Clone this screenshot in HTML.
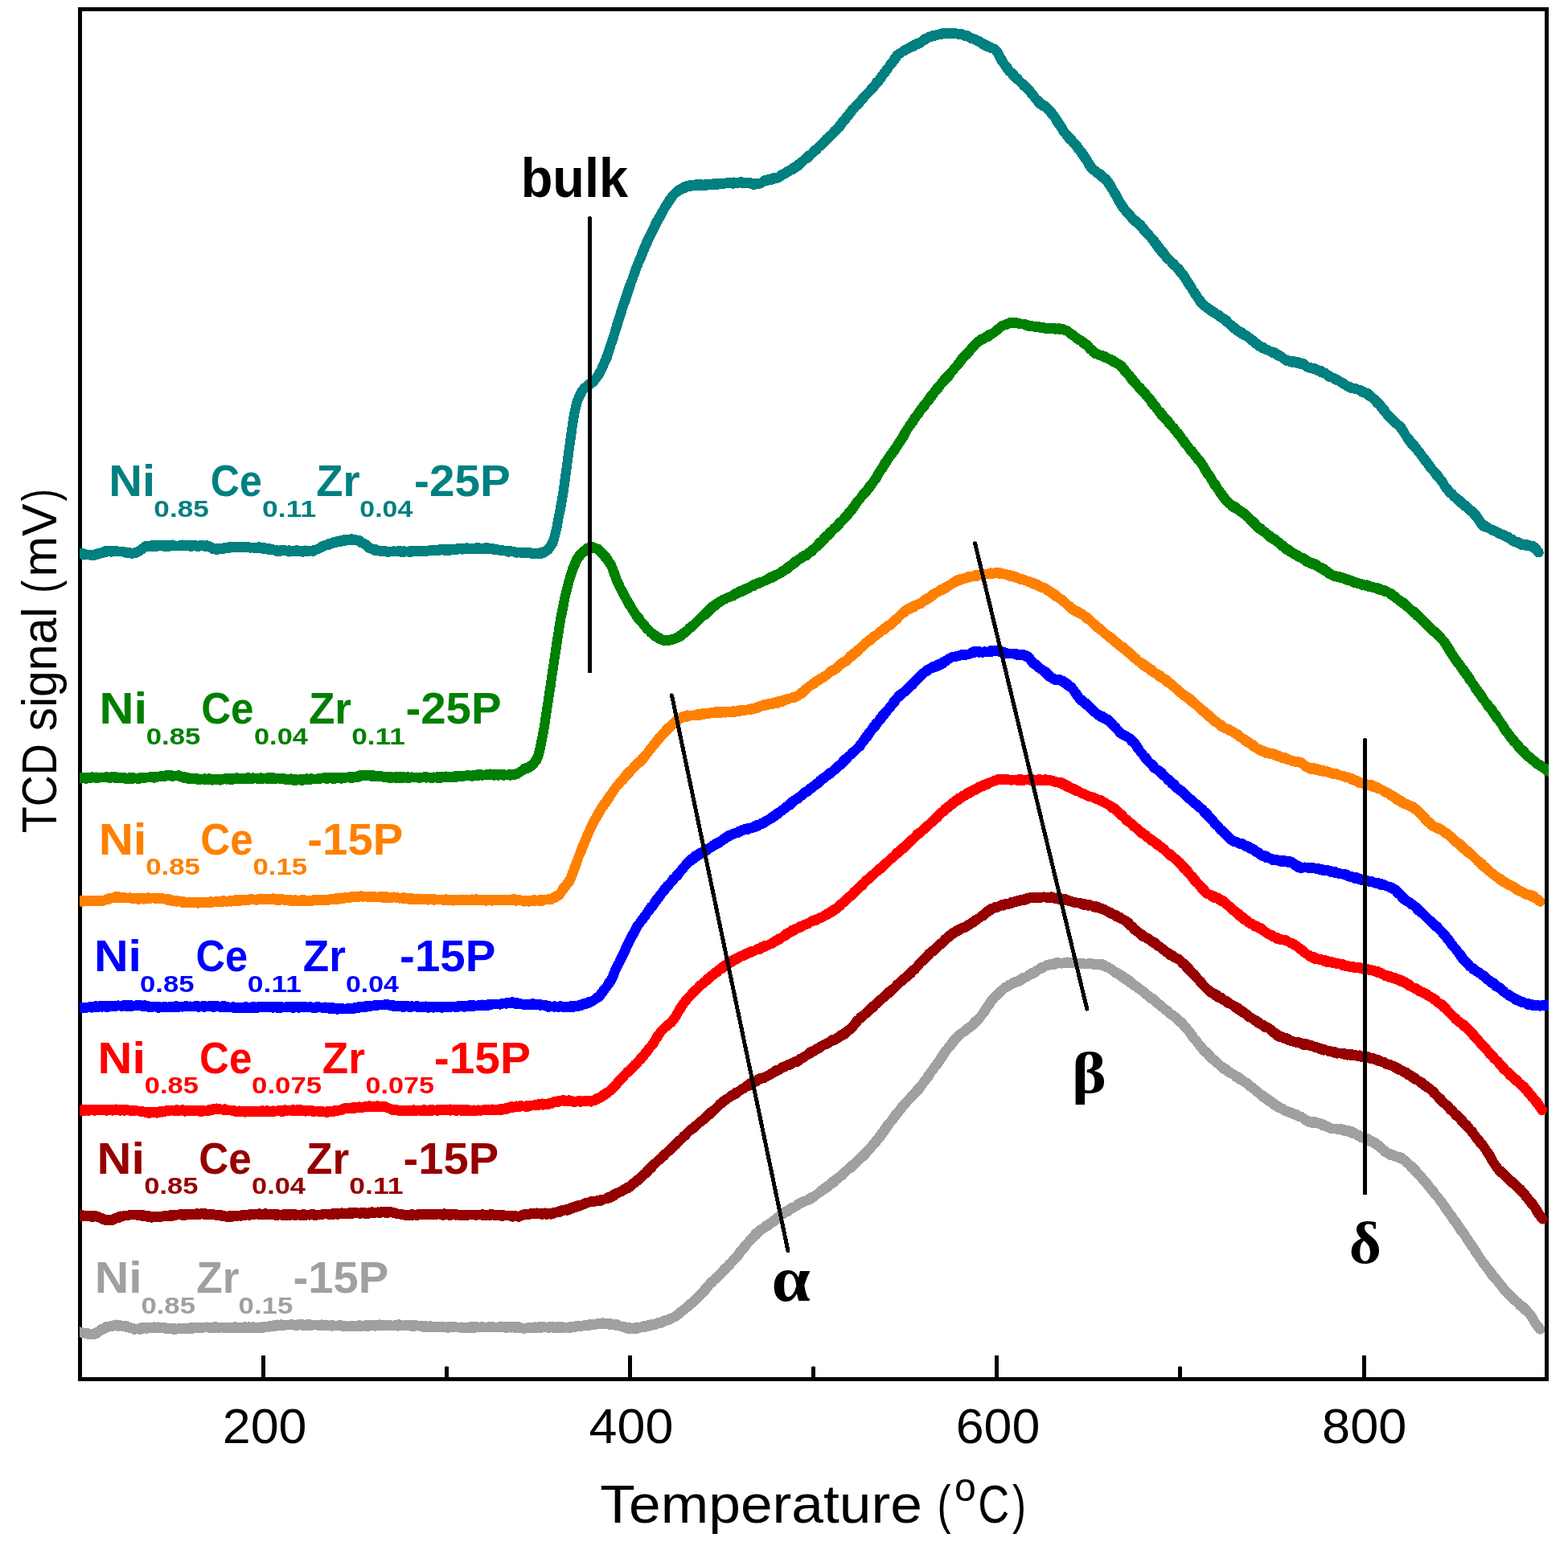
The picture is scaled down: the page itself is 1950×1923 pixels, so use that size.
<!DOCTYPE html>
<html lang="en">
<head>
<meta charset="utf-8">
<title>TCD signal vs Temperature</title>
<style>
html,body{margin:0;padding:0;background:#fff;}
body{width:1950px;height:1923px;overflow:hidden;}
svg{display:block;}
text{font-family:"Liberation Sans",sans-serif;}
.b{font-weight:bold;}
.g{font-family:"Liberation Serif",serif;font-weight:bold;}
.c{fill:none;stroke-width:12;stroke-linejoin:round;stroke-linecap:butt;shape-rendering:crispEdges;}
.k{fill:none;stroke:#000;stroke-width:5;shape-rendering:crispEdges;}
</style>
</head>
<body>
<svg width="1950" height="1923" viewBox="0 0 1950 1923" role="img" aria-label="TCD signal versus temperature">
<rect x="0" y="0" width="1950" height="1923" fill="#fff"/>
<g class="k" stroke-linecap="butt">
<rect x="99.5" y="11.5" width="1824" height="1704"/>
<g stroke-linecap="round">
<line x1="327.5" y1="1715.5" x2="327.5" y2="1688.1"/>
<line x1="555.5" y1="1715.5" x2="555.5" y2="1701.9"/>
<line x1="783.5" y1="1715.5" x2="783.5" y2="1688.1"/>
<line x1="1011.5" y1="1715.5" x2="1011.5" y2="1701.9"/>
<line x1="1239.5" y1="1715.5" x2="1239.5" y2="1688.1"/>
<line x1="1467.5" y1="1715.5" x2="1467.5" y2="1701.9"/>
<line x1="1696.5" y1="1715.5" x2="1696.5" y2="1688.1"/>
</g>
</g>
<svg x="99" y="0" width="1827" height="1923" viewBox="99 0 1827 1923" overflow="hidden">
<g stroke="#a0a0a0" fill="#a0a0a0">
<polyline class="c" points="90,1655.8 95,1655.8 99.6,1656.5 102.1,1657.1 104.6,1658.6 107.1,1658.3 109.6,1658.4 112.1,1659 114.6,1658.9 117.1,1659.3 119.6,1657.3 122.1,1656.5 124.6,1654.3 127.1,1652.6 129.6,1652.3 132.1,1650.2 134.6,1650.3 137.1,1649.5 139.6,1648.9 142.1,1648 144.6,1647.5 147.1,1649 149.6,1648.3 152.1,1649 154.6,1648.8 157.1,1648.8 159.6,1650.6 162.1,1651.2 164.6,1652.2 167.1,1652.4 169.6,1653 172.1,1652.9 174.6,1651.4 177.1,1651.3 179.6,1651.2 182.1,1650.7 184.6,1651.3 187.1,1650.7 189.6,1651.3 192.1,1650.4 194.6,1650.8 197.1,1650.4 199.6,1651.5 202.1,1651.4 204.6,1651.1 207.1,1652.4 209.6,1652.6 212.1,1651.6 214.6,1651.7 217.1,1652.4 219.6,1652.6 222.1,1652.2 224.6,1652.6 227.1,1651.8 229.6,1652.1 232.1,1652 234.6,1651.7 237.1,1651.1 239.6,1651 242.1,1650.7 244.6,1650.8 247.1,1650.6 249.6,1650.9 252.1,1650.9 254.6,1650.7 257.1,1650.5 259.6,1650.9 262.1,1651.3 264.6,1651.3 267.1,1650.2 269.6,1650.5 272.1,1650.7 274.6,1651 277.1,1651.1 279.6,1650.7 282.1,1650.7 284.6,1651.2 287.1,1650.8 289.6,1651.4 292.1,1650.2 294.6,1650.6 297.1,1651.4 299.6,1651.1 302.1,1651.3 304.6,1650.4 307.1,1651.1 309.6,1650.4 312.1,1650.8 314.6,1650.4 317.1,1650.7 319.6,1651.2 322.1,1650.5 324.6,1650.8 327.1,1650.3 329.6,1650.6 332.1,1649.8 334.6,1649.4 337.1,1648.6 339.6,1648.5 342.1,1647.6 344.6,1647.5 347.1,1648.6 349.6,1647.3 352.1,1648.4 354.6,1648 357.1,1647.8 359.6,1647.9 362.1,1647 364.6,1647.9 367.2,1647.7 369.7,1647.5 372.2,1647.4 374.7,1647.4 377.2,1647.4 379.7,1647.9 382.2,1647.2 384.7,1647 387.2,1648.3 389.7,1647.6 392.2,1648.1 394.7,1648.1 397.2,1647.9 399.7,1647.4 402.2,1647.7 404.7,1648 407.2,1648.2 409.7,1648.7 412.2,1648.1 414.7,1648.3 417.2,1649.1 419.7,1649.1 422.2,1648.2 424.7,1648.3 427.2,1649.1 429.7,1649.1 432.2,1649.7 434.7,1649.4 437.2,1649.5 439.7,1648.7 442.2,1649.1 444.7,1649.2 447.2,1648.2 449.7,1648.9 452.2,1648.7 454.7,1648.4 457.2,1648.2 459.7,1649 462.2,1647.7 464.7,1648 467.2,1647.9 469.7,1648.7 472.2,1647.4 474.7,1648 477.2,1647.8 479.7,1648.4 482.2,1648.4 484.7,1648.3 487.2,1648.6 489.7,1648.7 492.2,1647.5 494.7,1647.5 497.2,1647.4 499.7,1648.7 502.2,1648.8 504.7,1647.9 507.2,1647.5 509.7,1647.6 512.2,1648.8 514.7,1648.3 517.2,1648.1 519.7,1648.9 522.2,1649.3 524.7,1649.1 527.2,1648.7 529.7,1649.3 532.2,1650.2 534.7,1649.3 537.2,1649.5 539.7,1650.5 542.2,1649.7 544.7,1649.7 547.2,1650 549.7,1650.1 552.2,1650.2 554.7,1650.9 557.2,1650.2 559.7,1650.1 562.2,1650.1 564.7,1650.5 567.2,1650.4 569.7,1651.2 572.2,1650.9 574.7,1650.5 577.2,1651.5 579.7,1650.6 582.2,1651.2 584.7,1650.3 587.2,1650.3 589.7,1651.1 592.2,1649.8 594.7,1650.9 597.2,1650.9 599.7,1650 602.2,1650.7 604.7,1650.7 607.2,1650.8 609.7,1649.6 612.2,1650.3 614.7,1650.5 617.2,1650.5 619.7,1650.6 622.2,1649.5 624.7,1650.9 627.2,1649.8 629.7,1649.7 632.2,1651 634.7,1650 637.2,1651 639.7,1649.9 642.2,1650 644.7,1650.2 647.2,1651.6 649.7,1651.7 652.2,1651.9 654.7,1652.5 657.2,1651.2 659.7,1650.9 662.3,1651 664.8,1650.4 667.3,1650.6 669.8,1650.3 672.3,1650.1 674.8,1649.7 677.3,1650.7 679.8,1651 682.3,1650.3 684.8,1650.5 687.3,1650 689.8,1651 692.3,1650.4 694.8,1650.3 697.3,1650.3 699.8,1650.4 702.3,1651.1 704.8,1650.6 707.3,1650.9 709.8,1649.9 712.3,1649.8 714.8,1650.3 717.3,1648.9 719.8,1648.9 722.3,1649.5 724.8,1649 727.3,1648.2 729.8,1648.6 732.3,1647.3 734.8,1647.4 737.3,1647.1 739.8,1647.3 742.3,1646.5 744.8,1645.8 747.3,1645.8 749.8,1645.3 752.3,1646.3 754.8,1645.7 757.3,1645.5 759.8,1647.1 762.3,1647.4 764.8,1647.3 767.3,1647.1 769.8,1648.7 772.3,1649.5 774.8,1649.9 777.3,1650.2 779.8,1651.8 782.3,1651 784.8,1651.6 787.3,1651.5 789.8,1652 792.3,1650.5 794.8,1650.9 797.3,1650.3 799.8,1649.6 802.3,1648.8 804.8,1648.4 807.3,1648.6 809.8,1647.2 812.3,1646.6 814.8,1646.5 817.3,1645.9 819.8,1644.5 822.3,1644.5 824.8,1643 827.3,1642.1 829.8,1642 832.3,1640.4 834.8,1639.9 837.3,1638.8 839.8,1636.9 842.3,1635.7 844.8,1633 847.3,1631.1 849.8,1629.2 852.3,1627.3 854.8,1625.6 857.3,1622.8 859.8,1620.7 862.3,1618.9 864.8,1616.3 867.3,1614.1 869.8,1611.3 872.3,1609 874.8,1606.5 877.3,1602.4 879.8,1600.4 882.3,1597.2 884.8,1594.3 887.3,1593 889.8,1589.7 892.3,1587.8 894.8,1585.8 897.3,1582.4 899.8,1579.6 902.3,1577.1 904.8,1575.2 907.3,1572 909.8,1570.3 912.3,1566.7 914.8,1564.4 917.3,1561.6 919.8,1557.4 922.3,1555.2 924.8,1551.6 927.3,1549 929.8,1546.4 932.3,1543.1 934.8,1540.4 937.3,1537.3 939.8,1534.6 942.3,1532.2 944.8,1530 947.3,1528.6 949.8,1527.4 952.3,1524.6 954.9,1523.5 957.4,1521.3 959.9,1520.4 962.4,1518 964.9,1515.9 967.4,1514.1 969.9,1512.3 972.4,1510.9 974.9,1509.1 977.4,1506.4 979.9,1505.7 982.4,1503.8 984.9,1501.8 987.4,1501.4 989.9,1499.9 992.4,1497.3 994.9,1497 997.4,1494.8 999.9,1494 1002.4,1493.7 1004.9,1491.8 1007.4,1490.3 1009.9,1488.8 1012.4,1488 1014.9,1486.2 1017.4,1484.5 1019.9,1482.4 1022.4,1479.9 1024.9,1478.1 1027.4,1476.5 1029.9,1474.6 1032.4,1472.3 1034.9,1470.4 1037.4,1468.2 1039.9,1467 1042.4,1464.7 1044.9,1463.4 1047.4,1460.2 1049.9,1458.3 1052.4,1456.2 1054.9,1454.7 1057.4,1451.2 1059.9,1449.4 1062.4,1447.3 1064.9,1445.1 1067.4,1443 1069.9,1439.7 1072.4,1437.2 1074.9,1434.7 1077.4,1432.6 1079.9,1430.6 1082.4,1427.3 1084.9,1424.5 1087.4,1422 1089.9,1417.9 1092.4,1415.1 1094.9,1411.7 1097.4,1408.7 1099.9,1404.8 1102.4,1401.4 1104.9,1397.8 1107.4,1395.4 1109.9,1391.9 1112.4,1388.1 1114.9,1384.6 1117.4,1382.8 1119.9,1379 1122.4,1375.4 1124.9,1373.5 1127.4,1370.7 1129.9,1367.8 1132.4,1364.9 1134.9,1362 1137.4,1359.7 1139.9,1356.5 1142.4,1354.1 1144.9,1351.2 1147.4,1348.2 1149.9,1344.1 1152.4,1341.2 1154.9,1336.8 1157.4,1333.9 1159.9,1330.6 1162.4,1326.6 1164.9,1323.4 1167.4,1320.1 1169.9,1315.7 1172.4,1312.3 1174.9,1308.3 1177.4,1305.7 1179.9,1302.1 1182.4,1299.4 1184.9,1295.3 1187.4,1293.1 1189.9,1290.5 1192.4,1287.1 1194.9,1285.6 1197.4,1283.9 1199.9,1282.3 1202.4,1279.8 1204.9,1277.7 1207.4,1276.6 1209.9,1274.1 1212.4,1271 1214.9,1268.7 1217.4,1266.4 1219.9,1263.7 1222.4,1260.5 1224.9,1256.5 1227.4,1252.6 1229.9,1248.8 1232.4,1245.4 1234.9,1241.7 1237.4,1240.1 1239.9,1237.4 1242.4,1235 1244.9,1232.4 1247.5,1230.6 1250,1227.7 1252.5,1227 1255,1224.8 1257.5,1224.3 1260,1222.2 1262.5,1220.7 1265,1220.7 1267.5,1219.3 1270,1217.4 1272.5,1216 1275,1215.7 1277.5,1214.2 1280,1212.3 1282.5,1210.3 1285,1210 1287.5,1208.2 1290,1207 1292.5,1205.1 1295,1203 1297.5,1202.7 1300,1201.8 1302.5,1199.8 1305,1199.4 1307.5,1198.8 1310,1198.5 1312.5,1197.6 1315,1197.1 1317.5,1197.6 1320,1197.9 1322.5,1197.8 1325,1196.8 1327.5,1196.5 1330,1197.3 1332.5,1196.7 1335,1197.5 1337.5,1197.7 1340,1197.8 1342.5,1197.5 1345,1197.5 1347.5,1198.2 1350,1198.8 1352.5,1198.6 1355,1198 1357.5,1198.2 1360,1199.1 1362.5,1198.9 1365,1198.7 1367.5,1199.3 1370,1198.8 1372.5,1199.7 1375,1202 1377.5,1202.6 1380,1204.3 1382.5,1205.7 1385,1207.4 1387.5,1209.1 1390,1210.3 1392.5,1212.5 1395,1213.1 1397.5,1216 1400,1216.6 1402.5,1218.3 1405,1220 1407.5,1222.5 1410,1224.7 1412.5,1226.2 1415,1227.9 1417.5,1230.4 1420,1231.6 1422.5,1233.8 1425,1236.2 1427.5,1238 1430,1239.7 1432.5,1241.7 1435,1242.6 1437.5,1245.3 1440,1247.7 1442.5,1249.6 1445,1251.8 1447.5,1254.5 1450,1255.5 1452.5,1257.9 1455,1260.6 1457.5,1261.9 1460,1263.9 1462.5,1265.6 1465,1268 1467.5,1270.4 1470,1271.8 1472.5,1275.6 1475,1278.3 1477.5,1281.1 1480,1283.8 1482.5,1287.3 1485,1292 1487.5,1293.9 1490,1297.8 1492.5,1300.5 1495,1303.4 1497.5,1306.4 1500,1308.3 1502.5,1310.8 1505,1313.3 1507.5,1316.3 1510,1318.3 1512.5,1320.9 1515,1322.9 1517.5,1325 1520,1327.1 1522.5,1328.6 1525,1329.7 1527.5,1332.1 1530,1334.1 1532.5,1335.5 1535,1336.7 1537.5,1339.1 1540.1,1339.5 1542.6,1341.2 1545.1,1343.7 1547.6,1345.5 1550.1,1346.4 1552.6,1348.8 1555.1,1351.1 1557.6,1352.7 1560.1,1355.3 1562.6,1356.4 1565.1,1358.8 1567.6,1361 1570.1,1362.3 1572.6,1364.1 1575.1,1366.5 1577.6,1367.7 1580.1,1369.4 1582.6,1371.9 1585.1,1373 1587.6,1375 1590.1,1376.3 1592.6,1377.8 1595.1,1378.9 1597.6,1381 1600.1,1381.9 1602.6,1382.5 1605.1,1383.4 1607.6,1384.7 1610.1,1385.7 1612.6,1386.1 1615.1,1388.1 1617.6,1388.6 1620.1,1390.5 1622.6,1391.8 1625.1,1393.7 1627.6,1394.2 1630.1,1394.9 1632.6,1395 1635.1,1395.3 1637.6,1396.1 1640.1,1396.6 1642.6,1397.6 1645.1,1398.1 1647.6,1400.1 1650.1,1400.5 1652.6,1402.2 1655.1,1403.2 1657.6,1403.9 1660.1,1404.5 1662.6,1403.7 1665.1,1404 1667.6,1404.1 1670.1,1405.6 1672.6,1405.2 1675.1,1406.1 1677.6,1406.3 1680.1,1406.9 1682.6,1408 1685.1,1409.6 1687.6,1411.5 1690.1,1411.7 1692.6,1414 1695.1,1413.7 1697.6,1416 1700.1,1415.9 1702.6,1417.1 1705.1,1418.9 1707.6,1420.1 1710.1,1421.1 1712.6,1423.2 1715.1,1424.9 1717.6,1427.6 1720.1,1429.9 1722.6,1431.6 1725.1,1433.8 1727.6,1434.9 1730.1,1435.4 1732.6,1436.4 1735.1,1437.7 1737.6,1438.4 1740.1,1439.2 1742.6,1439.5 1745.1,1442 1747.6,1443.3 1750.1,1446.2 1752.6,1448.3 1755.1,1450.3 1757.6,1453.1 1760.1,1455.2 1762.6,1458.3 1765.1,1461 1767.6,1463.6 1770.1,1467.1 1772.6,1470 1775.1,1472.4 1777.6,1476.6 1780.1,1478.6 1782.6,1481.5 1785.1,1485.9 1787.6,1488.3 1790.1,1492.1 1792.6,1494.8 1795.1,1498.9 1797.6,1501.5 1800.1,1505.3 1802.6,1509.1 1805.1,1511.6 1807.6,1516.2 1810.1,1519.3 1812.6,1522.3 1815.1,1526.9 1817.6,1530.1 1820.1,1533.5 1822.6,1537.5 1825.1,1541.2 1827.6,1545 1830.1,1548.6 1832.7,1552.5 1835.2,1556.1 1837.7,1560.3 1840.2,1564.4 1842.7,1568 1845.2,1571.3 1847.7,1574.2 1850.2,1578.1 1852.7,1580.6 1855.2,1584.1 1857.7,1587.7 1860.2,1590.4 1862.7,1593.6 1865.2,1596.5 1867.7,1600 1870.2,1602.8 1872.7,1606.1 1875.2,1608.2 1877.7,1611 1880.2,1613.2 1882.7,1615.6 1885.2,1618.6 1887.7,1620.1 1890.2,1623 1892.7,1624.2 1895.2,1626.4 1897.7,1628.8 1900.2,1631.8 1902.7,1634.5 1905.2,1638 1907.7,1642.8 1910.2,1646.5 1912.7,1649.7 1915.2,1652.9"/>
<polyline class="c" points="90,1656.8 95,1656.8 99.6,1656.4 102.1,1658.1 104.6,1658.4 107.1,1659.2 109.6,1659.8 112.1,1659.8 114.6,1660.4 117.1,1659.9 119.6,1659.2 122.1,1656.5 124.6,1655.5 127.1,1654.6 129.6,1652.4 132.1,1651.7 134.6,1650.7 137.1,1649.4 139.6,1649.9 142.1,1648.4 144.6,1649.4 147.1,1649.9 149.6,1649.3 152.1,1649.9 154.6,1649.6 157.1,1651.1 159.6,1651.4 162.1,1652.3 164.6,1652.4 167.1,1653.8 169.6,1653.1 172.1,1653.5 174.6,1653.6 177.1,1652.7 179.6,1651.9 182.1,1652.8 184.6,1652.3 187.1,1651.7 189.6,1651.6 192.1,1652.4 194.6,1651.4 197.1,1652 199.6,1652.4 202.1,1651.8 204.6,1652.5 207.1,1652.8 209.6,1652.7 212.1,1653.3 214.6,1653.3 217.1,1654.1 219.6,1653.2 222.1,1653.3 224.6,1653 227.1,1653.2 229.6,1653.2 232.1,1653.3 234.6,1653.1 237.1,1652.9 239.6,1652.7 242.1,1652.2 244.6,1651.7 247.1,1652.3 249.6,1651.8 252.1,1651.6 254.6,1651.4 257.1,1651.3 259.6,1651.2 262.1,1652.1 264.6,1651.9 267.1,1652.3 269.6,1651.4 272.1,1652.3 274.6,1651.1 277.1,1651.7 279.6,1652.3 282.1,1652 284.6,1652.2 287.1,1652 289.6,1651.3 292.1,1652.1 294.6,1652 297.1,1652 299.6,1652.4 302.1,1652.2 304.6,1652.5 307.1,1652.4 309.6,1651.3 312.1,1652.1 314.6,1652.1 317.1,1652.3 319.6,1652.4 322.1,1652.1 324.6,1651.2 327.1,1651.9 329.6,1651.3 332.1,1650.2 334.6,1650.6 337.1,1649.8 339.6,1649.8 342.1,1649.8 344.6,1648.6 347.1,1649.5 349.6,1649 352.1,1649.3 354.6,1648.1 357.1,1648 359.6,1648.3 362.1,1648.3 364.6,1648.3 367.2,1648.8 369.7,1648.9 372.2,1648.2 374.7,1648.1 377.2,1649.1 379.7,1649 382.2,1649 384.7,1649.2 387.2,1648.7 389.7,1648.4 392.2,1648.5 394.7,1648.3 397.2,1649.1 399.7,1648.6 402.2,1648.8 404.7,1649.5 407.2,1649.4 409.7,1649.2 412.2,1649.7 414.7,1649.1 417.2,1649.5 419.7,1649.1 422.2,1649.2 424.7,1649.5 427.2,1650.1 429.7,1650.5 432.2,1649.6 434.7,1650.1 437.2,1650.1 439.7,1650.1 442.2,1650 444.7,1650.3 447.2,1649.9 449.7,1650.1 452.2,1649.1 454.7,1649.7 457.2,1650.2 459.7,1649.5 462.2,1648.9 464.7,1649 467.2,1649.6 469.7,1649.2 472.2,1648.6 474.7,1649.4 477.2,1648.5 479.7,1648.9 482.2,1648.8 484.7,1649.2 487.2,1648.9 489.7,1648.4 492.2,1649 494.7,1649.6 497.2,1648.5 499.7,1648.6 502.2,1649 504.7,1648.6 507.2,1649.2 509.7,1649.5 512.2,1649.5 514.7,1650 517.2,1649.3 519.7,1649.1 522.2,1649.6 524.7,1650.5 527.2,1650.7 529.7,1651 532.2,1650.9 534.7,1651.3 537.2,1651.3 539.7,1651.3 542.2,1650.9 544.7,1650.9 547.2,1650.7 549.7,1651.4 552.2,1651 554.7,1651.1 557.2,1651.9 559.7,1651 562.2,1651.3 564.7,1651.1 567.2,1651.3 569.7,1651.2 572.2,1651.6 574.7,1652.4 577.2,1651.3 579.7,1652 582.2,1652.1 584.7,1652 587.2,1652.1 589.7,1651.9 592.2,1651 594.7,1650.9 597.2,1650.6 599.7,1651.3 602.2,1651.1 604.7,1651.5 607.2,1650.7 609.7,1651.4 612.2,1650.9 614.7,1651.3 617.2,1650.6 619.7,1650.6 622.2,1651 624.7,1650.9 627.2,1651.4 629.7,1652 632.2,1650.9 634.7,1651.6 637.2,1651 639.7,1651.8 642.2,1652.2 644.7,1651.3 647.2,1651.9 649.7,1652.4 652.2,1652.8 654.7,1652.3 657.2,1652.5 659.7,1651.7 662.3,1651.5 664.8,1651.5 667.3,1652 669.8,1652 672.3,1651.8 674.8,1651.4 677.3,1651 679.8,1651.1 682.3,1652.1 684.8,1651.2 687.3,1651.5 689.8,1652.1 692.3,1652.2 694.8,1651.4 697.3,1652.3 699.8,1652.1 702.3,1651.8 704.8,1651.3 707.3,1652.1 709.8,1651.7 712.3,1650.5 714.8,1650.9 717.3,1650.2 719.8,1649.9 722.3,1650.1 724.8,1649.2 727.3,1649.3 729.8,1649.2 732.3,1649.2 734.8,1647.9 737.3,1647.3 739.8,1647.9 742.3,1647.3 744.8,1646.7 747.3,1646.8 749.8,1647.1 752.3,1646.9 754.8,1647.2 757.3,1647.6 759.8,1648.1 762.3,1647.6 764.8,1648.5 767.3,1649.3 769.8,1649.4 772.3,1649.9 774.8,1650.7 777.3,1651.3 779.8,1652.5 782.3,1653.4 784.8,1652.3 787.3,1653.1 789.8,1652.6 792.3,1652.8 794.8,1651.9 797.3,1651.1 799.8,1650.6 802.3,1650.7 804.8,1650.3 807.3,1648.8 809.8,1649 812.3,1647.7 814.8,1648.1 817.3,1646.6 819.8,1646.2 822.3,1645.9 824.8,1644.2 827.3,1643.3 829.8,1642.3 832.3,1641.8 834.8,1640.1 837.3,1638.9 839.8,1638 842.3,1635.8 844.8,1634.6 847.3,1631.8 849.8,1629.9 852.3,1627.7 854.8,1625.9 857.3,1623.6 859.8,1621.3 862.3,1619.9 864.8,1617.7 867.3,1614.7 869.8,1612.6 872.3,1609.3 874.8,1607 877.3,1604.4 879.8,1601.5 882.3,1598.1 884.8,1595.8 887.3,1593.2 889.8,1591.1 892.3,1588.5 894.8,1586.1 897.3,1583.7 899.8,1581 902.3,1578.4 904.8,1575.6 907.3,1573.6 909.8,1570.5 912.3,1567.8 914.8,1565.1 917.3,1562.6 919.8,1558.9 922.3,1555.9 924.8,1553.4 927.3,1549.7 929.8,1546.5 932.3,1543.8 934.8,1540.8 937.3,1538.4 939.8,1536.8 942.3,1534.1 944.8,1531.3 947.3,1529.8 949.8,1527.2 952.3,1525.9 954.9,1524.9 957.4,1522.3 959.9,1520.8 962.4,1519.7 964.9,1517.5 967.4,1514.9 969.9,1513.5 972.4,1511.2 974.9,1509.3 977.4,1507.5 979.9,1506.9 982.4,1504.6 984.9,1503.6 987.4,1502 989.9,1500.1 992.4,1499.1 994.9,1497 997.4,1496.1 999.9,1494.6 1002.4,1493.7 1004.9,1493.1 1007.4,1492 1009.9,1490.2 1012.4,1488.4 1014.9,1486.2 1017.4,1484.7 1019.9,1482.7 1022.4,1481.2 1024.9,1479 1027.4,1478 1029.9,1476.4 1032.4,1474 1034.9,1472.1 1037.4,1470.4 1039.9,1467.3 1042.4,1466 1044.9,1463.2 1047.4,1462.2 1049.9,1459.2 1052.4,1456.7 1054.9,1454.6 1057.4,1453.1 1059.9,1451.2 1062.4,1448.3 1064.9,1446.1 1067.4,1444.1 1069.9,1440.7 1072.4,1439.3 1074.9,1436.7 1077.4,1434.2 1079.9,1430.8 1082.4,1428.3 1084.9,1425.3 1087.4,1422.6 1089.9,1420 1092.4,1416.2 1094.9,1413.8 1097.4,1410.1 1099.9,1406.9 1102.4,1403.3 1104.9,1399.2 1107.4,1395.5 1109.9,1393.4 1112.4,1389.6 1114.9,1386.4 1117.4,1383.2 1119.9,1380.5 1122.4,1376.5 1124.9,1373.7 1127.4,1371.2 1129.9,1368.2 1132.4,1365.8 1134.9,1363 1137.4,1361 1139.9,1357.9 1142.4,1355.4 1144.9,1351.8 1147.4,1348.1 1149.9,1345.5 1152.4,1341.7 1154.9,1338.7 1157.4,1334.1 1159.9,1331.6 1162.4,1326.9 1164.9,1324.8 1167.4,1320.9 1169.9,1317.4 1172.4,1314 1174.9,1309.9 1177.4,1306.1 1179.9,1303.5 1182.4,1300.4 1184.9,1297.1 1187.4,1293.6 1189.9,1290.5 1192.4,1288.9 1194.9,1285.7 1197.4,1283.9 1199.9,1282.9 1202.4,1280.5 1204.9,1278.8 1207.4,1277 1209.9,1275 1212.4,1273 1214.9,1270.2 1217.4,1267.4 1219.9,1264 1222.4,1260.7 1224.9,1257.7 1227.4,1253.1 1229.9,1250.6 1232.4,1245.8 1234.9,1243.2 1237.4,1239.9 1239.9,1238.4 1242.4,1235.3 1244.9,1232.7 1247.5,1230.5 1250,1228.8 1252.5,1227.8 1255,1226 1257.5,1224.3 1260,1223.2 1262.5,1222 1265,1221.5 1267.5,1220.5 1270,1219.1 1272.5,1217.7 1275,1215.4 1277.5,1214.9 1280,1213.3 1282.5,1211.8 1285,1211.2 1287.5,1209.5 1290,1207.2 1292.5,1205.7 1295,1204.7 1297.5,1203.4 1300,1201.7 1302.5,1201.3 1305,1200.7 1307.5,1199.5 1310,1199.8 1312.5,1199.6 1315,1198.4 1317.5,1198 1320,1198.7 1322.5,1198 1325,1197.7 1327.5,1198.1 1330,1197.5 1332.5,1197.8 1335,1197.4 1337.5,1198 1340,1198.6 1342.5,1199.3 1345,1199 1347.5,1198.9 1350,1199.1 1352.5,1199.2 1355,1199.2 1357.5,1199.1 1360,1199.9 1362.5,1199.9 1365,1199.1 1367.5,1200.2 1370,1200.8 1372.5,1201.8 1375,1202.7 1377.5,1203.7 1380,1204.6 1382.5,1206.6 1385,1207.9 1387.5,1210.4 1390,1211.4 1392.5,1213 1395,1215.1 1397.5,1216.5 1400,1218.6 1402.5,1219.9 1405,1222.1 1407.5,1223.5 1410,1225.9 1412.5,1226.7 1415,1229.3 1417.5,1230.6 1420,1232.5 1422.5,1234.6 1425,1236.6 1427.5,1238.9 1430,1241.1 1432.5,1242.8 1435,1243.9 1437.5,1246.7 1440,1248.2 1442.5,1250.3 1445,1252.7 1447.5,1254.9 1450,1256.8 1452.5,1258.8 1455,1261.4 1457.5,1262.5 1460,1264.5 1462.5,1266.8 1465,1269.5 1467.5,1271.5 1470,1272.9 1472.5,1276.3 1475,1278.5 1477.5,1281.2 1480,1285.3 1482.5,1288.9 1485,1292.3 1487.5,1294.7 1490,1297.8 1492.5,1301.6 1495,1304.1 1497.5,1307.7 1500,1309.5 1502.5,1312 1505,1314.8 1507.5,1317.6 1510,1319.2 1512.5,1321.1 1515,1323.5 1517.5,1325.9 1520,1328.3 1522.5,1330.2 1525,1330.9 1527.5,1333.5 1530,1335 1532.5,1336.2 1535,1337.3 1537.5,1340.1 1540.1,1341.6 1542.6,1343 1545.1,1344 1547.6,1346.1 1550.1,1347.6 1552.6,1349.2 1555.1,1351.8 1557.6,1353.4 1560.1,1355 1562.6,1357.7 1565.1,1359.7 1567.6,1361.1 1570.1,1363.8 1572.6,1366 1575.1,1367.5 1577.6,1369.5 1580.1,1370.6 1582.6,1372 1585.1,1374.8 1587.6,1376.1 1590.1,1377.7 1592.6,1378.8 1595.1,1379.7 1597.6,1381.6 1600.1,1382.4 1602.6,1383.7 1605.1,1384.4 1607.6,1385.8 1610.1,1386.6 1612.6,1387.8 1615.1,1388.8 1617.6,1389.3 1620.1,1390.4 1622.6,1393.1 1625.1,1394.3 1627.6,1395.8 1630.1,1396.4 1632.6,1397 1635.1,1397.4 1637.6,1397.1 1640.1,1397.9 1642.6,1398.5 1645.1,1400.3 1647.6,1400.8 1650.1,1401.9 1652.6,1402.2 1655.1,1404.1 1657.6,1404 1660.1,1404.3 1662.6,1404.7 1665.1,1405.3 1667.6,1405.3 1670.1,1406.4 1672.6,1406.8 1675.1,1406.5 1677.6,1408.2 1680.1,1408.6 1682.6,1409.9 1685.1,1410.4 1687.6,1411.9 1690.1,1413 1692.6,1415 1695.1,1415.2 1697.6,1416.8 1700.1,1418.1 1702.6,1419 1705.1,1420.1 1707.6,1420.7 1710.1,1423 1712.6,1424.4 1715.1,1426.2 1717.6,1428.5 1720.1,1430.5 1722.6,1433.2 1725.1,1434.4 1727.6,1435.8 1730.1,1437.3 1732.6,1437.6 1735.1,1438.4 1737.6,1439.2 1740.1,1440.2 1742.6,1441.8 1745.1,1442 1747.6,1444 1750.1,1446.8 1752.6,1448.7 1755.1,1452.3 1757.6,1453.9 1760.1,1456.9 1762.6,1460 1765.1,1462.2 1767.6,1465 1770.1,1468.1 1772.6,1470.5 1775.1,1473.7 1777.6,1476.9 1780.1,1480.1 1782.6,1483.1 1785.1,1486.4 1787.6,1488.8 1790.1,1492 1792.6,1496 1795.1,1498.5 1797.6,1503.3 1800.1,1506.6 1802.6,1509.6 1805.1,1513.5 1807.6,1517.4 1810.1,1520.4 1812.6,1523.6 1815.1,1528.2 1817.6,1531.8 1820.1,1534.5 1822.6,1537.8 1825.1,1542.3 1827.6,1546.3 1830.1,1549.7 1832.7,1553.3 1835.2,1557.6 1837.7,1560.5 1840.2,1564.9 1842.7,1568.2 1845.2,1572.3 1847.7,1575.2 1850.2,1578.3 1852.7,1581.9 1855.2,1585.9 1857.7,1588.7 1860.2,1591.2 1862.7,1594.2 1865.2,1597.6 1867.7,1600.3 1870.2,1603.9 1872.7,1606.4 1875.2,1609 1877.7,1611.9 1880.2,1614 1882.7,1617.4 1885.2,1618.5 1887.7,1620.9 1890.2,1623.8 1892.7,1625.5 1895.2,1627.7 1897.7,1630.3 1900.2,1632 1902.7,1635.4 1905.2,1639.1 1907.7,1643.1 1910.2,1647.4 1912.7,1650.7 1915.2,1653.9"/>
<circle cx="1915.2" cy="1653.4" r="6.3" stroke="none" style="shape-rendering:crispEdges"/>
</g>
<g stroke="#960000" fill="#960000">
<polyline class="c" points="90,1511.7 95,1511.7 99.6,1511.1 102.1,1511.3 104.6,1511.6 107.1,1511.7 109.6,1512.3 112.1,1512.1 114.6,1512.1 117.1,1512.4 119.6,1512.3 122.1,1513.2 124.6,1514.7 127.1,1515 129.6,1516.6 132.1,1516.5 134.6,1517.4 137.1,1517.4 139.6,1516.8 142.1,1515.4 144.6,1514.5 147.1,1514.3 149.6,1512.5 152.1,1512.6 154.6,1511.9 157.1,1512.2 159.6,1511.4 162.1,1510.9 164.6,1510.7 167.1,1510.5 169.6,1511.1 172.1,1511.5 174.6,1510.9 177.1,1510.9 179.6,1512.3 182.1,1512.6 184.6,1511.9 187.1,1513.1 189.6,1512.7 192.1,1513.5 194.6,1512.9 197.1,1512.5 199.6,1512.5 202.1,1513.1 204.6,1512.1 207.1,1511.5 209.6,1512 212.2,1511 214.7,1510.7 217.2,1510.7 219.7,1511.4 222.2,1510.5 224.7,1510 227.2,1509.8 229.7,1510.5 232.2,1510.1 234.7,1509.8 237.2,1510 239.7,1510.2 242.2,1509.9 244.7,1509.3 247.2,1509.6 249.7,1509.4 252.2,1509 254.7,1509 257.2,1510.4 259.7,1509.6 262.2,1509.7 264.7,1509.8 267.2,1511.4 269.7,1511.3 272.2,1511.4 274.7,1511.1 277.2,1511.8 279.7,1512.5 282.2,1512.7 284.7,1512.3 287.2,1511.7 289.7,1512.1 292.2,1511.6 294.7,1511.8 297.2,1511.9 299.7,1512.1 302.2,1510.6 304.7,1511.4 307.2,1510.8 309.7,1511 312.2,1509.6 314.7,1509.6 317.2,1510.3 319.7,1510.1 322.2,1509.3 324.7,1510.2 327.2,1509.9 329.7,1509.2 332.2,1510.1 334.8,1510.2 337.3,1509.6 339.8,1509.8 342.3,1509.8 344.8,1510 347.3,1511 349.8,1510.9 352.3,1510.3 354.8,1510.5 357.3,1510.4 359.8,1510.3 362.3,1510 364.8,1510.5 367.3,1510.1 369.8,1511 372.3,1510.7 374.8,1511 377.3,1510.1 379.8,1510.5 382.3,1510.7 384.8,1511.2 387.3,1510.2 389.8,1510.1 392.3,1511 394.8,1511.1 397.3,1510.7 399.8,1510.6 402.3,1510 404.8,1510.5 407.3,1510.1 409.8,1510.1 412.3,1509.5 414.8,1509 417.3,1509.2 419.8,1508.5 422.3,1509.5 424.8,1508.4 427.3,1508.6 429.8,1509.2 432.3,1508.9 434.8,1508.2 437.3,1508.1 439.8,1508.3 442.3,1507.9 444.8,1508.5 447.3,1508.5 449.8,1508.3 452.3,1508 454.8,1508.3 457.4,1509 459.9,1507.6 462.4,1507.4 464.9,1507.7 467.4,1508.3 469.9,1507.4 472.4,1508.3 474.9,1506.9 477.4,1507.9 479.9,1507 482.4,1506.7 484.9,1507 487.4,1507.6 489.9,1508.2 492.4,1509.1 494.9,1509.6 497.4,1510.2 499.9,1510.3 502.4,1510.8 504.9,1511.3 507.4,1511 509.9,1510.6 512.4,1510 514.9,1510.7 517.4,1510.6 519.9,1510.3 522.4,1509.9 524.9,1510.6 527.4,1510 529.9,1510 532.4,1509.6 534.9,1509.5 537.4,1509.5 539.9,1509.6 542.4,1510.3 544.9,1510 547.4,1510.4 549.9,1510.1 552.4,1509.4 554.9,1510.3 557.4,1510.2 559.9,1510.6 562.4,1510 564.9,1510.5 567.4,1510.3 569.9,1511 572.4,1511.1 574.9,1510.8 577.4,1510.9 580,1511 582.5,1511.4 585,1511.4 587.5,1510.6 590,1510.7 592.5,1511.1 595,1510.7 597.5,1511.1 600,1510.1 602.5,1511.3 605,1511.1 607.5,1511.2 610,1510.1 612.5,1510.3 615,1510.9 617.5,1510.8 620,1511.4 622.5,1510.8 625,1511.1 627.5,1511.6 630,1511.6 632.5,1512 635,1511.8 637.5,1512.9 640,1511.7 642.5,1512.5 645,1513.1 647.5,1512.1 650,1510.5 652.5,1510.3 655,1510.4 657.5,1510.1 660,1509.2 662.5,1509.2 665,1509.4 667.5,1508.5 670,1509.3 672.5,1509 675,1509.1 677.5,1508.5 680,1509.1 682.5,1509.3 685,1509.3 687.5,1508.2 690,1508.1 692.5,1507.3 695,1507.3 697.5,1505.5 700,1505.2 702.6,1504.5 705.1,1504.3 707.6,1503.4 710.1,1502.1 712.6,1501.6 715.1,1500.3 717.6,1499.8 720.1,1498.6 722.6,1498.5 725.1,1497.6 727.6,1496.2 730.1,1496.4 732.6,1495.4 735.1,1493.9 737.6,1494 740.1,1494.1 742.6,1493.3 745.1,1492.7 747.6,1492.1 750.1,1492.4 752.6,1491.3 755.1,1489.8 757.6,1488.6 760.1,1488 762.6,1486 765.1,1484.9 767.6,1483.6 770.1,1482.8 772.6,1481.7 775.1,1480 777.6,1478.3 780.1,1476.7 782.6,1475.8 785.1,1474.4 787.6,1471.6 790.1,1470.5 792.6,1467.6 795.1,1465.6 797.6,1463.9 800.1,1461.2 802.6,1459 805.1,1456.1 807.6,1453.3 810.1,1451.3 812.6,1448.5 815.1,1446.5 817.6,1444.6 820.1,1441.7 822.6,1440 825.2,1437.2 827.7,1434.7 830.2,1433 832.7,1430 835.2,1427.6 837.7,1425.8 840.2,1422.6 842.7,1420.9 845.2,1418.2 847.7,1416 850.2,1413.2 852.7,1410.9 855.2,1409 857.7,1406.4 860.2,1404.2 862.7,1402.1 865.2,1400.2 867.7,1398.2 870.2,1395.4 872.7,1394 875.2,1391.6 877.7,1388.8 880.2,1387.1 882.7,1384.4 885.2,1382.4 887.7,1380.7 890.2,1378.8 892.7,1376.7 895.2,1373.2 897.7,1370.9 900.2,1368.9 902.7,1367.5 905.2,1366.1 907.7,1364.5 910.2,1362 912.7,1361.3 915.2,1358.7 917.7,1358.2 920.2,1356.5 922.7,1354.2 925.2,1353.4 927.7,1351.2 930.2,1349.4 932.7,1347.5 935.2,1346.3 937.7,1344.7 940.2,1344.4 942.7,1342.5 945.2,1341.2 947.8,1340.4 950.3,1339.6 952.8,1338.9 955.3,1337.6 957.8,1336.2 960.3,1334.4 962.8,1333.4 965.3,1330.9 967.8,1330.7 970.3,1329.4 972.8,1327.2 975.3,1326.5 977.8,1325.1 980.3,1324.2 982.8,1323.2 985.3,1322.2 987.8,1321.1 990.3,1319.5 992.8,1319 995.3,1316.5 997.8,1315.9 1000.3,1313.9 1002.8,1312.7 1005.3,1311.1 1007.8,1308.2 1010.3,1307.3 1012.8,1306.5 1015.3,1304.4 1017.8,1303.9 1020.3,1301.4 1022.8,1300.4 1025.3,1299.1 1027.8,1297.7 1030.3,1296.8 1032.8,1294.8 1035.3,1293.2 1037.8,1292.4 1040.3,1291.6 1042.8,1289.7 1045.3,1287.8 1047.8,1286.4 1050.3,1284.6 1052.8,1282.9 1055.3,1281.1 1057.8,1279.7 1060.3,1276.7 1062.8,1274 1065.3,1269.8 1067.8,1268.1 1070.4,1264.8 1072.9,1263.4 1075.4,1261.4 1077.9,1258.6 1080.4,1257 1082.9,1254 1085.4,1251.6 1087.9,1250.2 1090.4,1247.6 1092.9,1245.5 1095.4,1242.9 1097.9,1241 1100.4,1238.2 1102.9,1236.1 1105.4,1233.7 1107.9,1232.4 1110.4,1229.9 1112.9,1227.9 1115.4,1224.7 1117.9,1223.2 1120.4,1221 1122.9,1217.9 1125.4,1216.2 1127.9,1213.8 1130.4,1211.4 1132.9,1209.7 1135.4,1206.4 1137.9,1205.1 1140.4,1202.5 1142.9,1199 1145.4,1196.5 1147.9,1194 1150.4,1191.6 1152.9,1188.9 1155.4,1186 1157.9,1184.7 1160.4,1181.9 1162.9,1179.9 1165.4,1177.2 1167.9,1174.6 1170.4,1172.9 1172.9,1171.1 1175.4,1168 1177.9,1166.8 1180.4,1163.5 1182.9,1162.1 1185.4,1159.8 1187.9,1159.1 1190.4,1156.8 1193,1156 1195.5,1154.4 1198,1153.4 1200.5,1152.8 1203,1150.7 1205.5,1149.6 1208,1147.8 1210.5,1146.2 1213,1144.1 1215.5,1143.3 1218,1141.7 1220.5,1139.4 1223,1137.4 1225.5,1135.4 1228,1133.4 1230.5,1131.6 1233,1129.6 1235.5,1129.4 1238,1127.7 1240.5,1127.6 1243,1127 1245.5,1125.3 1248,1125.6 1250.5,1124 1253,1124.3 1255.5,1123.7 1258,1121.9 1260.5,1122.1 1263,1120.8 1265.5,1120.1 1268,1120 1270.5,1118.7 1273,1119.1 1275.5,1117.4 1278,1117.6 1280.5,1116.2 1283,1116.5 1285.5,1116.4 1288,1116.2 1290.5,1115.9 1293,1115.9 1295.5,1115.7 1298,1115.4 1300.5,1115.9 1303,1115.8 1305.5,1116 1308,1115.3 1310.5,1116.3 1313,1116.8 1315.6,1116.3 1318.1,1116.9 1320.6,1117.8 1323.1,1117.8 1325.6,1118.3 1328.1,1119.7 1330.6,1120.4 1333.1,1121.1 1335.6,1121.8 1338.1,1122.4 1340.6,1123.2 1343.1,1122.6 1345.6,1124.1 1348.1,1124.3 1350.6,1124.5 1353.1,1125.2 1355.6,1125.4 1358.1,1126.7 1360.6,1127.7 1363.1,1127.1 1365.6,1128 1368.1,1129.3 1370.6,1130 1373.1,1131 1375.6,1132.3 1378.1,1134.1 1380.6,1134.6 1383.1,1137.1 1385.6,1137.3 1388.1,1138.3 1390.6,1139.8 1393.1,1140.9 1395.6,1143.4 1398.1,1144.3 1400.6,1145.4 1403.1,1147.4 1405.6,1150.3 1408.1,1152.5 1410.6,1155.1 1413.1,1157.1 1415.6,1159.2 1418.1,1161.1 1420.6,1162.7 1423.1,1165.3 1425.6,1166 1428.1,1167.4 1430.6,1169.2 1433.1,1170.8 1435.6,1172 1438.2,1174.4 1440.7,1176.5 1443.2,1178.1 1445.7,1180.1 1448.2,1182.5 1450.7,1184.2 1453.2,1185.3 1455.7,1187.1 1458.2,1188.1 1460.7,1190.5 1463.2,1192 1465.7,1192.5 1468.2,1195.4 1470.7,1197.2 1473.2,1199.6 1475.7,1202 1478.2,1204 1480.7,1207.7 1483.2,1210.3 1485.7,1212.1 1488.2,1215.7 1490.7,1218.9 1493.2,1220.6 1495.7,1224.8 1498.2,1227.4 1500.7,1230 1503.2,1231.5 1505.7,1233.5 1508.2,1234.9 1510.7,1236.3 1513.2,1237.4 1515.7,1239.8 1518.2,1240.4 1520.7,1243 1523.2,1244.6 1525.7,1245.2 1528.2,1246.9 1530.7,1249 1533.2,1250.1 1535.7,1251.4 1538.2,1252.8 1540.7,1254.6 1543.2,1256.3 1545.7,1257.9 1548.2,1260.4 1550.7,1261.4 1553.2,1263.7 1555.7,1266.1 1558.2,1267.7 1560.8,1268.6 1563.3,1269.9 1565.8,1271.8 1568.3,1274.1 1570.8,1274.6 1573.3,1276.7 1575.8,1277.5 1578.3,1279.1 1580.8,1280.4 1583.3,1283.7 1585.8,1284.7 1588.3,1286.3 1590.8,1288.7 1593.3,1289 1595.8,1290.1 1598.3,1290.6 1600.8,1291.8 1603.3,1293 1605.8,1294.5 1608.3,1295.1 1610.8,1296.1 1613.3,1296.5 1615.8,1296.4 1618.3,1297.5 1620.8,1297.6 1623.3,1298 1625.8,1298.5 1628.3,1300 1630.8,1300.1 1633.3,1301.7 1635.8,1302 1638.3,1302.6 1640.8,1303.9 1643.3,1304.2 1645.8,1304.7 1648.3,1305.8 1650.8,1306.6 1653.3,1307.1 1655.8,1307.7 1658.3,1307.6 1660.8,1308.8 1663.3,1309.5 1665.8,1309.5 1668.3,1309.9 1670.8,1310.2 1673.3,1310.5 1675.8,1310.7 1678.3,1311.6 1680.8,1311 1683.4,1312.1 1685.9,1312 1688.4,1313.1 1690.9,1312.4 1693.4,1314 1695.9,1313.6 1698.4,1314.3 1700.9,1314.2 1703.4,1315.7 1705.9,1315.5 1708.4,1316.5 1710.9,1318 1713.4,1317.6 1715.9,1319.4 1718.4,1320.4 1720.9,1320.9 1723.4,1322.2 1725.9,1323.7 1728.4,1323.9 1730.9,1325.3 1733.4,1325.7 1735.9,1327.4 1738.4,1328.3 1740.9,1330 1743.4,1331.4 1745.9,1332.7 1748.4,1333.6 1750.9,1335.6 1753.4,1336.8 1755.9,1339 1758.4,1340.1 1760.9,1341.4 1763.4,1343.9 1765.9,1345.3 1768.4,1346.1 1770.9,1349 1773.4,1350.3 1775.9,1352.7 1778.4,1353.9 1780.9,1356.5 1783.4,1358.4 1785.9,1361.8 1788.4,1364.5 1790.9,1366.1 1793.4,1369 1795.9,1371.6 1798.4,1373.8 1800.9,1376 1803.4,1379 1806,1381 1808.5,1384.3 1811,1386.1 1813.5,1388.9 1816,1391.3 1818.5,1393.6 1821,1397.3 1823.5,1398.8 1826,1402 1828.5,1405.2 1831,1407.4 1833.5,1411.6 1836,1414.5 1838.5,1417 1841,1420.9 1843.5,1423.3 1846,1427.5 1848.5,1431.2 1851,1434 1853.5,1438.4 1856,1443.3 1858.5,1447.7 1861,1451 1863.5,1454.1 1866,1456.3 1868.5,1458.6 1871,1460.9 1873.5,1463 1876,1466.1 1878.5,1468.4 1881,1469.9 1883.5,1472.9 1886,1474.6 1888.5,1477.2 1891,1479.4 1893.5,1483 1896,1484.9 1898.5,1488.5 1901,1491.6 1903.5,1494.8 1906,1497.1 1908.5,1501.4 1911,1504.8 1913.5,1509.3 1916,1512.6 1918.5,1515.8"/>
<polyline class="c" points="90,1512.7 95,1512.7 99.6,1512.9 102.1,1512.2 104.6,1513.2 107.1,1512.8 109.6,1513.1 112.1,1513.4 114.6,1513.9 117.1,1513.6 119.6,1513 122.1,1514.1 124.6,1514.6 127.1,1516.5 129.6,1517.2 132.1,1518.5 134.6,1517.9 137.1,1517.8 139.6,1518.1 142.1,1516.8 144.6,1515.4 147.1,1515.1 149.6,1514.1 152.1,1513.3 154.6,1512.5 157.1,1512.3 159.6,1511.7 162.1,1511.4 164.6,1511.4 167.1,1511.2 169.6,1511.1 172.1,1512.1 174.6,1511.6 177.1,1513 179.6,1512.6 182.1,1512.6 184.6,1514.1 187.1,1514.5 189.6,1514.5 192.1,1513.8 194.6,1514.1 197.1,1513.7 199.6,1514.2 202.1,1513.1 204.6,1512.6 207.1,1512.6 209.6,1512.9 212.2,1512.8 214.7,1512.6 217.2,1511.5 219.7,1511.5 222.2,1511.3 224.7,1510.8 227.2,1512 229.7,1511.9 232.2,1510.7 234.7,1510.6 237.2,1510.4 239.7,1511.3 242.2,1511.3 244.7,1510.7 247.2,1511 249.7,1510.3 252.2,1510.1 254.7,1511.3 257.2,1510.5 259.7,1511.3 262.2,1510.6 264.7,1510.8 267.2,1511.1 269.7,1512.1 272.2,1511.8 274.7,1512 277.2,1513.4 279.7,1513.4 282.2,1513.9 284.7,1513.6 287.2,1514.1 289.7,1513.3 292.2,1512.6 294.7,1512.9 297.2,1512.4 299.7,1512.6 302.2,1512.2 304.7,1512 307.2,1511.1 309.7,1511.8 312.2,1511.1 314.7,1511.4 317.2,1510.6 319.7,1510.2 322.2,1511.1 324.7,1510.7 327.2,1511.1 329.7,1510.5 332.2,1511.1 334.8,1511.3 337.3,1511.1 339.8,1511 342.3,1511.7 344.8,1512 347.3,1511.2 349.8,1511.4 352.3,1512.1 354.8,1512.1 357.3,1511.4 359.8,1512.3 362.3,1511.5 364.8,1511.1 367.3,1512.4 369.8,1511.1 372.3,1511.6 374.8,1512.4 377.3,1512.3 379.8,1512.1 382.3,1511.2 384.8,1511.6 387.3,1511.2 389.8,1511.6 392.3,1512.1 394.8,1511 397.3,1510.8 399.8,1511.1 402.3,1510.5 404.8,1510.4 407.3,1510.4 409.8,1510.8 412.3,1510.7 414.8,1510.9 417.3,1510.2 419.8,1510.8 422.3,1510.4 424.8,1509.6 427.3,1510 429.8,1509.3 432.3,1510.4 434.8,1510.2 437.3,1509.8 439.8,1509.5 442.3,1509.4 444.8,1509.3 447.3,1509.7 449.8,1509.5 452.3,1509.3 454.8,1509.9 457.4,1509.9 459.9,1509.2 462.4,1508.6 464.9,1509.2 467.4,1508.2 469.9,1508.5 472.4,1509 474.9,1508.4 477.4,1508 479.9,1509 482.4,1508.8 484.9,1508.2 487.4,1508.2 489.9,1509.4 492.4,1509.6 494.9,1509.6 497.4,1510.1 499.9,1511.3 502.4,1511.3 504.9,1512.3 507.4,1511 509.9,1511.8 512.4,1511.9 514.9,1511.1 517.4,1511.6 519.9,1511.7 522.4,1510.6 524.9,1510.4 527.4,1511.3 529.9,1510.7 532.4,1510.7 534.9,1511.1 537.4,1510.7 539.9,1511.3 542.4,1511.2 544.9,1510.3 547.4,1510.2 549.9,1511.6 552.4,1511.6 554.9,1511.1 557.4,1511.2 559.9,1512 562.4,1510.8 564.9,1511 567.4,1511.6 569.9,1511.2 572.4,1512.2 574.9,1511.7 577.4,1511.8 580,1512.3 582.5,1511.4 585,1511.3 587.5,1511.1 590,1511.5 592.5,1511.7 595,1511.4 597.5,1511.2 600,1512 602.5,1512.1 605,1512.1 607.5,1511.8 610,1511.9 612.5,1511.3 615,1511.9 617.5,1512.1 620,1511.7 622.5,1512.6 625,1512.8 627.5,1512.4 630,1512.3 632.5,1512.4 635,1512.8 637.5,1513.8 640,1513 642.5,1512.9 645,1513.9 647.5,1512.2 650,1511.9 652.5,1511.2 655,1510.8 657.5,1510.9 660,1510.1 662.5,1510.4 665,1510 667.5,1509.9 670,1509.4 672.5,1510.5 675,1510.7 677.5,1509.6 680,1510.8 682.5,1510.4 685,1510.6 687.5,1510.1 690,1508.6 692.5,1508.3 695,1508.5 697.5,1506.9 700,1506.3 702.6,1505.2 705.1,1505.7 707.6,1504.9 710.1,1503.3 712.6,1502.7 715.1,1502.4 717.6,1501.2 720.1,1500.4 722.6,1499.4 725.1,1497.9 727.6,1497.7 730.1,1496.4 732.6,1495.6 735.1,1494.9 737.6,1495.3 740.1,1493.9 742.6,1494 745.1,1493.9 747.6,1493.7 750.1,1492 752.6,1491.5 755.1,1491 757.6,1490.2 760.1,1489.3 762.6,1488 765.1,1485.9 767.6,1484.7 770.1,1483.1 772.6,1482.4 775.1,1480.8 777.6,1479.1 780.1,1478.7 782.6,1477.1 785.1,1475.3 787.6,1472.9 790.1,1470.8 792.6,1469.2 795.1,1467.1 797.6,1464.6 800.1,1461.6 802.6,1460 805.1,1457.9 807.6,1454.4 810.1,1453.1 812.6,1449.6 815.1,1447.2 817.6,1444.6 820.1,1442.6 822.6,1439.9 825.2,1438.4 827.7,1435.8 830.2,1433 832.7,1431.6 835.2,1428.3 837.7,1426.1 840.2,1424.5 842.7,1421.3 845.2,1418.8 847.7,1416.6 850.2,1414.3 852.7,1412.1 855.2,1409 857.7,1406.8 860.2,1405.2 862.7,1403.4 865.2,1401.2 867.7,1398.5 870.2,1396.4 872.7,1394.3 875.2,1392.8 877.7,1390.6 880.2,1388 882.7,1386.5 885.2,1384.2 887.7,1381.8 890.2,1378.8 892.7,1376.4 895.2,1374.1 897.7,1372.4 900.2,1370.1 902.7,1368.1 905.2,1366.3 907.7,1364.8 910.2,1362.9 912.7,1361.8 915.2,1360.9 917.7,1358.4 920.2,1356.7 922.7,1354.9 925.2,1354.1 927.7,1351.8 930.2,1351.1 932.7,1349.7 935.2,1348 937.7,1345.8 940.2,1345.6 942.7,1343.5 945.2,1342.3 947.8,1341.7 950.3,1341 952.8,1339.1 955.3,1338.3 957.8,1336.8 960.3,1334.7 962.8,1334 965.3,1332.8 967.8,1331.7 970.3,1330.2 972.8,1328.1 975.3,1327.5 977.8,1325.9 980.3,1324.8 982.8,1324.7 985.3,1322.5 987.8,1321.4 990.3,1321.5 992.8,1319.9 995.3,1317.4 997.8,1316.6 1000.3,1315.1 1002.8,1312.7 1005.3,1311.9 1007.8,1310.4 1010.3,1308.5 1012.8,1307.3 1015.3,1305.2 1017.8,1304.6 1020.3,1302.6 1022.8,1300.9 1025.3,1299.6 1027.8,1299 1030.3,1297.6 1032.8,1295.8 1035.3,1294.9 1037.8,1294.1 1040.3,1291.9 1042.8,1291.1 1045.3,1289 1047.8,1288.1 1050.3,1286.6 1052.8,1284.5 1055.3,1282 1057.8,1280.3 1060.3,1278 1062.8,1274.2 1065.3,1271.7 1067.8,1268.5 1070.4,1266.6 1072.9,1264.6 1075.4,1262 1077.9,1260.2 1080.4,1257.4 1082.9,1254.9 1085.4,1253.8 1087.9,1250.5 1090.4,1248.3 1092.9,1246.5 1095.4,1243.8 1097.9,1241.7 1100.4,1239.9 1102.9,1237.2 1105.4,1235.6 1107.9,1232.9 1110.4,1230.7 1112.9,1228.6 1115.4,1226 1117.9,1223.3 1120.4,1221.3 1122.9,1218.8 1125.4,1217.1 1127.9,1214.8 1130.4,1212.6 1132.9,1210.9 1135.4,1207.8 1137.9,1205.9 1140.4,1202.2 1142.9,1199.8 1145.4,1196.8 1147.9,1195.1 1150.4,1192.7 1152.9,1189.6 1155.4,1187.4 1157.9,1184.4 1160.4,1183.5 1162.9,1181.1 1165.4,1178.6 1167.9,1176 1170.4,1174.4 1172.9,1172.2 1175.4,1169.3 1177.9,1166.8 1180.4,1165.6 1182.9,1163.2 1185.4,1161.8 1187.9,1159.8 1190.4,1158.5 1193,1157.1 1195.5,1155.4 1198,1154.4 1200.5,1153.8 1203,1152.2 1205.5,1150.5 1208,1148.6 1210.5,1147.6 1213,1145.6 1215.5,1143.5 1218,1141.9 1220.5,1140.2 1223,1139.2 1225.5,1136.9 1228,1134.6 1230.5,1133 1233,1131.5 1235.5,1130.1 1238,1129.3 1240.5,1128.6 1243,1127 1245.5,1126.4 1248,1126.6 1250.5,1124.7 1253,1124.7 1255.5,1124.5 1258,1124 1260.5,1122.4 1263,1122.1 1265.5,1121.4 1268,1121 1270.5,1119.9 1273,1120 1275.5,1119.3 1278,1118.2 1280.5,1117.4 1283,1117 1285.5,1116.7 1288,1117.1 1290.5,1116.8 1293,1116.8 1295.5,1116.5 1298,1116.3 1300.5,1116.5 1303,1116.9 1305.5,1117.1 1308,1116.6 1310.5,1116.7 1313,1118.3 1315.6,1118.5 1318.1,1118.9 1320.6,1118.4 1323.1,1119.9 1325.6,1120.4 1328.1,1120.2 1330.6,1121.5 1333.1,1121.6 1335.6,1122.8 1338.1,1123 1340.6,1122.9 1343.1,1123.8 1345.6,1124.9 1348.1,1125.8 1350.6,1125.8 1353.1,1126.7 1355.6,1126.3 1358.1,1126.9 1360.6,1128.5 1363.1,1128.8 1365.6,1129.4 1368.1,1130.1 1370.6,1131.1 1373.1,1131.8 1375.6,1133.3 1378.1,1134.5 1380.6,1136.2 1383.1,1136.8 1385.6,1138.3 1388.1,1140.2 1390.6,1141.3 1393.1,1142.4 1395.6,1143.2 1398.1,1145 1400.6,1146.5 1403.1,1149.5 1405.6,1151.4 1408.1,1153.1 1410.6,1156.7 1413.1,1157.8 1415.6,1160 1418.1,1162.6 1420.6,1164.6 1423.1,1165.5 1425.6,1166.9 1428.1,1168.2 1430.6,1169.8 1433.1,1171.8 1435.6,1173.4 1438.2,1175.1 1440.7,1177.4 1443.2,1178.4 1445.7,1180.8 1448.2,1182.5 1450.7,1184.7 1453.2,1185.6 1455.7,1188.5 1458.2,1189.4 1460.7,1191.2 1463.2,1192.5 1465.7,1193.5 1468.2,1195.4 1470.7,1198.5 1473.2,1200.1 1475.7,1203.5 1478.2,1206.2 1480.7,1208.6 1483.2,1210.8 1485.7,1213.8 1488.2,1216 1490.7,1218.9 1493.2,1222.4 1495.7,1224.5 1498.2,1227.3 1500.7,1230.2 1503.2,1231.8 1505.7,1234.6 1508.2,1235.7 1510.7,1238.1 1513.2,1239.7 1515.7,1241 1518.2,1241.5 1520.7,1243.8 1523.2,1244.7 1525.7,1247.1 1528.2,1248.2 1530.7,1249.1 1533.2,1250.5 1535.7,1252.4 1538.2,1254.7 1540.7,1255.9 1543.2,1258 1545.7,1259.8 1548.2,1260.7 1550.7,1262.7 1553.2,1265.3 1555.7,1266 1558.2,1267.5 1560.8,1270 1563.3,1270.8 1565.8,1273.4 1568.3,1274.3 1570.8,1276.1 1573.3,1277.9 1575.8,1278.4 1578.3,1279.6 1580.8,1282.3 1583.3,1284.2 1585.8,1286 1588.3,1288.3 1590.8,1289.6 1593.3,1290.5 1595.8,1290.8 1598.3,1292.5 1600.8,1292.9 1603.3,1294.6 1605.8,1294.5 1608.3,1295.5 1610.8,1296.6 1613.3,1296.9 1615.8,1297.6 1618.3,1298.2 1620.8,1299.9 1623.3,1299.6 1625.8,1299.8 1628.3,1300.7 1630.8,1301.1 1633.3,1301.9 1635.8,1303.1 1638.3,1303.6 1640.8,1304.7 1643.3,1305.3 1645.8,1306.6 1648.3,1306.4 1650.8,1306.7 1653.3,1308.4 1655.8,1308.4 1658.3,1309.4 1660.8,1309.8 1663.3,1310.6 1665.8,1310 1668.3,1310.6 1670.8,1310.8 1673.3,1312.3 1675.8,1312.6 1678.3,1311.8 1680.8,1313.2 1683.4,1313 1685.9,1313.3 1688.4,1314.1 1690.9,1314 1693.4,1315 1695.9,1314.9 1698.4,1315 1700.9,1315.7 1703.4,1316.6 1705.9,1316.7 1708.4,1317.6 1710.9,1318.2 1713.4,1319.7 1715.9,1320.1 1718.4,1321.2 1720.9,1321.7 1723.4,1323.5 1725.9,1324.3 1728.4,1324.9 1730.9,1326 1733.4,1327.1 1735.9,1328.8 1738.4,1329.7 1740.9,1331.5 1743.4,1331.5 1745.9,1333.6 1748.4,1335 1750.9,1337.1 1753.4,1338 1755.9,1340.1 1758.4,1341.6 1760.9,1343.3 1763.4,1344 1765.9,1346 1768.4,1348.1 1770.9,1350.1 1773.4,1351.9 1775.9,1353.1 1778.4,1354.8 1780.9,1357.3 1783.4,1360 1785.9,1361.8 1788.4,1364.8 1790.9,1368 1793.4,1370.5 1795.9,1372.3 1798.4,1374.4 1800.9,1376.7 1803.4,1380.3 1806,1382 1808.5,1384.6 1811,1388 1813.5,1389.3 1816,1392.5 1818.5,1395.5 1821,1398.2 1823.5,1400.8 1826,1402.9 1828.5,1405.4 1831,1409.1 1833.5,1411.6 1836,1415.7 1838.5,1418.6 1841,1422.1 1843.5,1424.4 1846,1427.8 1848.5,1431.7 1851,1435.8 1853.5,1439.6 1856,1444.2 1858.5,1447.7 1861,1451.9 1863.5,1454.9 1866,1458.2 1868.5,1459.9 1871,1462 1873.5,1464 1876,1466.7 1878.5,1469.8 1881,1471.9 1883.5,1473.3 1886,1475.8 1888.5,1478.1 1891,1480.7 1893.5,1483.8 1896,1486.4 1898.5,1489.3 1901,1492.5 1903.5,1496 1906,1498.9 1908.5,1501.9 1911,1506.6 1913.5,1510.7 1916,1513.6 1918.5,1516.8"/>
<circle cx="1918.5" cy="1516.3" r="6.3" stroke="none" style="shape-rendering:crispEdges"/>
</g>
<g stroke="#ff0000" fill="#ff0000">
<polyline class="c" points="90,1380.8 95,1380.8 99.6,1381 102.1,1380.4 104.6,1379.9 107.1,1380 109.6,1380 112.1,1380.8 114.6,1379.7 117.1,1380.3 119.6,1380.2 122.1,1380.4 124.6,1380 127.1,1379.8 129.6,1380.8 132.1,1380 134.6,1380.1 137.1,1380.7 139.6,1379.9 142.1,1380.7 144.6,1379.5 147.1,1380.1 149.6,1380.5 152.1,1380.4 154.6,1380.6 157.1,1379.8 159.6,1380.5 162.1,1380.8 164.6,1381.1 167.1,1380.9 169.6,1381.4 172.1,1381.6 174.6,1382 177.1,1382.1 179.6,1383.3 182.1,1383 184.6,1382.9 187.1,1383.6 189.6,1383.4 192.1,1382.6 194.6,1383.4 197.1,1383.3 199.6,1381.8 202.1,1382.2 204.6,1381.8 207.1,1381.1 209.6,1381 212.1,1381.2 214.6,1381.2 217.1,1380.8 219.6,1380.2 222.1,1380.7 224.6,1380.9 227.1,1380.3 229.6,1381.2 232.1,1380.5 234.6,1380.6 237.1,1381.1 239.6,1380.6 242.1,1380.6 244.6,1380.8 247.1,1381.3 249.6,1381.2 252.1,1381 254.6,1382 257.1,1381.5 259.6,1380.3 262.1,1380.6 264.6,1379.3 267.1,1379 269.6,1378.5 272.1,1378.8 274.6,1379.5 277.1,1379.6 279.6,1379.3 282.1,1380.2 284.6,1380.6 287.1,1381.1 289.6,1380.7 292.1,1382 294.6,1382.1 297.1,1381.5 299.6,1381.9 302.1,1383.1 304.6,1382 307.1,1382.7 309.6,1382 312.1,1381.7 314.6,1382.6 317.1,1382.2 319.6,1382.2 322.1,1382.6 324.6,1381.4 327.1,1381.4 329.6,1381.8 332.1,1381.1 334.6,1381.8 337.1,1382 339.6,1381.4 342.1,1381.9 344.6,1381.5 347.1,1381.3 349.6,1380.6 352.1,1381.6 354.6,1380.4 357.1,1381.1 359.7,1380.9 362.2,1380.8 364.7,1380.1 367.2,1381.4 369.7,1380.1 372.2,1380.5 374.7,1380.4 377.2,1381 379.7,1381.1 382.2,1380.6 384.7,1381.6 387.2,1380.9 389.7,1382.4 392.2,1382 394.7,1381.8 397.2,1382.8 399.7,1381.8 402.2,1383 404.7,1383 407.2,1382.2 409.7,1381.6 412.2,1381.8 414.7,1381.8 417.2,1380.6 419.7,1380.7 422.2,1380.6 424.7,1379.8 427.2,1378.8 429.7,1378 432.2,1378.5 434.7,1377.5 437.2,1377.9 439.7,1376.8 442.2,1377.3 444.7,1377.1 447.2,1376.4 449.7,1376.9 452.2,1377 454.7,1375.6 457.2,1376.5 459.7,1375.3 462.2,1376.2 464.7,1376.3 467.2,1375.8 469.7,1375.3 472.2,1376.4 474.7,1376.3 477.2,1375.8 479.7,1376.3 482.2,1378 484.7,1378.6 487.2,1379.5 489.7,1380.2 492.2,1379.7 494.7,1380.6 497.2,1380.9 499.7,1381.4 502.2,1381.1 504.7,1381 507.2,1381.3 509.7,1381.4 512.2,1380.7 514.7,1380.4 517.2,1381.2 519.7,1380.8 522.2,1381.3 524.7,1380.6 527.2,1380.3 529.7,1380.5 532.2,1381.1 534.7,1380.1 537.2,1380 539.7,1380.6 542.2,1380.7 544.7,1379.8 547.2,1380.8 549.7,1379.7 552.2,1379.5 554.7,1380.2 557.2,1380.6 559.7,1379.5 562.2,1380.6 564.7,1379.6 567.2,1380.3 569.7,1380.3 572.2,1380.5 574.7,1380.2 577.2,1380.5 579.7,1380 582.2,1380.3 584.7,1380.6 587.2,1380.9 589.7,1380.5 592.2,1381.3 594.7,1380.4 597.2,1380.8 599.7,1381.2 602.2,1380 604.7,1380.7 607.2,1380.3 609.7,1380.7 612.2,1379.5 614.7,1380.4 617.2,1380.2 619.7,1380 622.2,1378.9 624.7,1379.4 627.2,1379.1 629.7,1377.8 632.2,1377.8 634.7,1376.5 637.2,1376.4 639.7,1376.7 642.3,1375.5 644.8,1375.9 647.3,1375.1 649.8,1375.9 652.3,1376.4 654.8,1375.3 657.3,1375.2 659.8,1375 662.3,1374.7 664.8,1374.2 667.3,1374 669.8,1373.2 672.3,1372.8 674.8,1372.5 677.3,1373 679.8,1373.2 682.3,1372.4 684.8,1372.2 687.3,1371 689.8,1369.9 692.3,1370.6 694.8,1368.9 697.3,1369.2 699.8,1368.1 702.3,1368.4 704.8,1369.4 707.3,1368.3 709.8,1368.7 712.3,1369.6 714.8,1369.5 717.3,1369.6 719.8,1368.9 722.3,1369.3 724.8,1369.9 727.3,1369.1 729.8,1369.6 732.3,1369.3 734.8,1368.9 737.3,1369 739.8,1367.9 742.3,1366 744.8,1365.3 747.3,1363.9 749.8,1362.2 752.3,1360.3 754.8,1358.9 757.3,1357.5 759.8,1355.1 762.3,1352.9 764.8,1350.1 767.3,1347.2 769.8,1343.9 772.3,1342.2 774.8,1339.1 777.3,1336.9 779.8,1333.5 782.3,1331.3 784.8,1329.4 787.3,1327 789.8,1323.6 792.3,1321.5 794.8,1319 797.3,1315.8 799.8,1313 802.3,1310.1 804.8,1306.8 807.3,1304 809.8,1300.9 812.3,1297.4 814.8,1293.5 817.3,1288.7 819.8,1286 822.3,1282.7 824.8,1279.8 827.3,1277.2 829.8,1275 832.3,1273.9 834.8,1270.9 837.3,1268 839.8,1264.5 842.3,1260.4 844.8,1255.9 847.3,1251.6 849.8,1248.5 852.3,1245.1 854.8,1242.5 857.3,1239.9 859.8,1236.8 862.3,1233.3 864.8,1231.5 867.3,1229.6 869.8,1226.2 872.3,1224.4 874.8,1221.7 877.3,1220.3 879.8,1217.5 882.3,1216 884.8,1213.3 887.3,1212.1 889.8,1209.2 892.3,1208.1 894.8,1205.7 897.3,1203.3 899.8,1201.8 902.3,1199.9 904.8,1198.4 907.3,1196.6 909.8,1195 912.3,1193.6 914.8,1192.4 917.3,1191.4 919.8,1189.7 922.3,1188.8 924.9,1187.9 927.4,1186 929.9,1185.3 932.4,1184.3 934.9,1182.6 937.4,1182.5 939.9,1181.8 942.4,1180 944.9,1179.8 947.4,1177.6 949.9,1177 952.4,1175.7 954.9,1175.4 957.4,1174.6 959.9,1173.2 962.4,1171.2 964.9,1169.6 967.4,1168.3 969.9,1166.8 972.4,1166 974.9,1164.3 977.4,1161.4 979.9,1160.4 982.4,1158.9 984.9,1156.9 987.4,1156 989.9,1154.9 992.4,1153.9 994.9,1152.3 997.4,1151.5 999.9,1150.1 1002.4,1149.4 1004.9,1148.1 1007.4,1146.9 1009.9,1145.2 1012.4,1144.5 1014.9,1143.7 1017.4,1142.3 1019.9,1141.1 1022.4,1140.3 1024.9,1139.1 1027.4,1137.2 1029.9,1135.7 1032.4,1134.6 1034.9,1132.5 1037.4,1131.1 1039.9,1130.1 1042.4,1127.4 1044.9,1125.5 1047.4,1123.1 1049.9,1121 1052.4,1118.9 1054.9,1116 1057.4,1114.6 1059.9,1111.8 1062.4,1109 1064.9,1107.7 1067.4,1104.2 1069.9,1102.4 1072.4,1099.9 1074.9,1097.8 1077.4,1094.8 1079.9,1092.8 1082.4,1091.1 1084.9,1088.4 1087.4,1086.7 1089.9,1083.7 1092.4,1081.3 1094.9,1079.7 1097.4,1077.7 1099.9,1074.8 1102.4,1073 1104.9,1071 1107.4,1068.9 1109.9,1066.5 1112.4,1064.4 1114.9,1061 1117.4,1059.9 1119.9,1057.3 1122.4,1054.5 1124.9,1053 1127.4,1050.7 1129.9,1048.3 1132.4,1045.1 1134.9,1043.7 1137.4,1041.5 1139.9,1038.4 1142.4,1036.2 1144.9,1035 1147.4,1032.3 1149.9,1030.2 1152.4,1027.8 1154.9,1025.8 1157.4,1023.8 1159.9,1021.2 1162.4,1019 1164.9,1015.8 1167.4,1013.4 1169.9,1011 1172.4,1009.8 1174.9,1006.5 1177.4,1004.2 1179.9,1002.5 1182.4,1000.8 1184.9,998.5 1187.4,996.2 1189.9,995.3 1192.4,992.5 1194.9,992.1 1197.4,989.5 1199.9,988.9 1202.4,986.4 1204.9,985.5 1207.5,984 1210,982.6 1212.5,981.5 1215,980.1 1217.5,978.4 1220,978.3 1222.5,976.3 1225,975.7 1227.5,974.8 1230,973.4 1232.5,972.7 1235,971.6 1237.5,970.6 1240,969.9 1242.5,968.7 1245,969 1247.5,969.3 1250,969.1 1252.5,969.1 1255,970 1257.5,969.5 1260,969.5 1262.5,970.1 1265,969.8 1267.5,969 1270,969.1 1272.5,970.1 1275,969.7 1277.5,970 1280,968.9 1282.5,970.1 1285,969.4 1287.5,970.2 1290,969.7 1292.5,968.9 1295,970.1 1297.5,970 1300,969 1302.5,970.3 1305,969.5 1307.5,970.8 1310,971.2 1312.5,971.9 1315,972.6 1317.5,972.6 1320,973.3 1322.5,974.7 1325,975.7 1327.5,976.9 1330,978.8 1332.5,980.2 1335,980.6 1337.5,982.5 1340,983.3 1342.5,985.2 1345,986.2 1347.5,986.9 1350,988.4 1352.5,989.4 1355,990.6 1357.5,991.3 1360,991.6 1362.5,993 1365,994.2 1367.5,994.8 1370,995.7 1372.5,997.6 1375,998.8 1377.5,1000.7 1380,1001.4 1382.5,1003.9 1385,1004.6 1387.5,1006.4 1390,1009.1 1392.5,1011.6 1395,1013.3 1397.5,1016 1400,1019 1402.5,1020.1 1405,1023.2 1407.5,1024.4 1410,1027 1412.5,1029.2 1415,1030.8 1417.5,1033.7 1420,1035 1422.5,1037.5 1425,1038.4 1427.5,1041.4 1430,1042.7 1432.5,1044.5 1435,1046.6 1437.5,1048.2 1440,1050 1442.5,1052.4 1445,1053.8 1447.5,1055.8 1450,1059 1452.5,1061 1455,1062.3 1457.5,1064.3 1460,1067.1 1462.5,1068.3 1465,1070.7 1467.5,1072.9 1470,1076.3 1472.5,1078.4 1475,1081 1477.5,1083.9 1480,1087.9 1482.5,1089.8 1485,1092.6 1487.5,1096.2 1490.1,1099 1492.6,1102.1 1495.1,1104.1 1497.6,1106.8 1500.1,1109.8 1502.6,1111.9 1505.1,1113 1507.6,1113.8 1510.1,1114.4 1512.6,1116.8 1515.1,1116.9 1517.6,1118.4 1520.1,1119.8 1522.6,1121.3 1525.1,1123.9 1527.6,1126.3 1530.1,1128.1 1532.6,1130.7 1535.1,1132.6 1537.6,1134.4 1540.1,1136.3 1542.6,1139.3 1545.1,1140.2 1547.6,1143.2 1550.1,1144.2 1552.6,1146.3 1555.1,1148.5 1557.6,1149.1 1560.1,1151.2 1562.6,1151.4 1565.1,1153.4 1567.6,1153.9 1570.1,1156.2 1572.6,1158.2 1575.1,1159.9 1577.6,1161.5 1580.1,1162.5 1582.6,1163.6 1585.1,1165.2 1587.6,1165.7 1590.1,1167.1 1592.6,1168.1 1595.1,1168.9 1597.6,1168.8 1600.1,1169.7 1602.6,1171.6 1605.1,1172.5 1607.6,1173.4 1610.1,1174.9 1612.6,1176.8 1615.1,1178.6 1617.6,1180.4 1620.1,1182.1 1622.6,1184.9 1625.1,1186.9 1627.6,1187.6 1630.1,1189.5 1632.6,1189.6 1635.1,1190.9 1637.6,1192.2 1640.1,1193.4 1642.6,1193 1645.1,1194.7 1647.6,1194.1 1650.1,1195.1 1652.6,1195.6 1655.1,1195.5 1657.6,1197.2 1660.1,1197.4 1662.6,1198 1665.1,1198.5 1667.6,1198.9 1670.1,1199.3 1672.6,1200.9 1675.1,1201.1 1677.6,1201.5 1680.1,1201.5 1682.6,1201.9 1685.1,1202.7 1687.6,1202.8 1690.1,1202.9 1692.6,1203.9 1695.1,1203.7 1697.6,1204.6 1700.1,1204.7 1702.6,1206.1 1705.1,1206.2 1707.6,1206.8 1710.1,1207.4 1712.6,1207.7 1715.1,1209.5 1717.6,1209.8 1720.1,1211.6 1722.6,1212.9 1725.1,1213.3 1727.6,1213.9 1730.1,1214.5 1732.6,1215.8 1735.1,1216.3 1737.6,1218.1 1740.1,1218.2 1742.6,1218.8 1745.1,1220.5 1747.6,1221.3 1750.1,1223.4 1752.6,1224.3 1755.1,1226.8 1757.6,1228.5 1760.1,1228.8 1762.6,1230.2 1765.1,1232.3 1767.6,1233.8 1770.1,1234.3 1772.7,1235.6 1775.2,1236.9 1777.7,1239.1 1780.2,1240.5 1782.7,1241.3 1785.2,1243.6 1787.7,1246.2 1790.2,1247.8 1792.7,1249.1 1795.2,1251.3 1797.7,1253.6 1800.2,1256.9 1802.7,1259.4 1805.2,1262.1 1807.7,1264.9 1810.2,1266.4 1812.7,1269.5 1815.2,1270.9 1817.7,1273.2 1820.2,1274.3 1822.7,1276.6 1825.2,1278.7 1827.7,1281.9 1830.2,1284.2 1832.7,1286.8 1835.2,1290.4 1837.7,1292.6 1840.2,1296.3 1842.7,1298.4 1845.2,1301.7 1847.7,1303.6 1850.2,1307 1852.7,1309.9 1855.2,1311.9 1857.7,1315.1 1860.2,1318.4 1862.7,1319.9 1865.2,1323.5 1867.7,1325.9 1870.2,1328.1 1872.7,1331.7 1875.2,1333.3 1877.7,1335.8 1880.2,1338.5 1882.7,1341.3 1885.2,1342.4 1887.7,1345.1 1890.2,1347.9 1892.7,1349.4 1895.2,1351.4 1897.7,1354.4 1900.2,1357.2 1902.7,1360.7 1905.2,1363.5 1907.7,1366.3 1910.2,1368.8 1912.7,1372.3 1915.2,1376.6 1917.7,1380.4"/>
<polyline class="c" points="90,1381.8 95,1381.8 99.6,1382.1 102.1,1381.3 104.6,1382.1 107.1,1381.1 109.6,1381.8 112.1,1381.3 114.6,1380.8 117.1,1381.6 119.6,1381.4 122.1,1381.2 124.6,1381.4 127.1,1380.6 129.6,1380.8 132.1,1381.7 134.6,1380.8 137.1,1381 139.6,1381.6 142.1,1380.7 144.6,1381.1 147.1,1381.2 149.6,1381.7 152.1,1381 154.6,1381.8 157.1,1380.9 159.6,1380.9 162.1,1381.8 164.6,1382 167.1,1381.8 169.6,1381.2 172.1,1381.9 174.6,1382.8 177.1,1382.7 179.6,1383.5 182.1,1384 184.6,1384.8 187.1,1384.6 189.6,1383.7 192.1,1383.8 194.6,1384.6 197.1,1384.2 199.6,1383.1 202.1,1383.6 204.6,1383 207.1,1381.9 209.6,1381.9 212.1,1381.5 214.6,1381.3 217.1,1382.3 219.6,1381.5 222.1,1382.1 224.6,1381.3 227.1,1381.2 229.6,1382.6 232.1,1382.2 234.6,1382.4 237.1,1381.5 239.6,1381.9 242.1,1382.5 244.6,1382.3 247.1,1382.3 249.6,1383 252.1,1382.5 254.6,1382.3 257.1,1382.4 259.6,1381.9 262.1,1380.6 264.6,1380.6 267.1,1379.6 269.6,1379.6 272.1,1380.1 274.6,1380.4 277.1,1380.3 279.6,1381.3 282.1,1381.4 284.6,1380.8 287.1,1381.5 289.6,1381.5 292.1,1382.6 294.6,1383.4 297.1,1383.2 299.6,1382.6 302.1,1382.9 304.6,1383.6 307.1,1383.1 309.6,1383.1 312.1,1383.4 314.6,1383.5 317.1,1383.3 319.6,1383.4 322.1,1382.7 324.6,1382.8 327.1,1382.2 329.6,1383.3 332.1,1382 334.6,1382.8 337.1,1382.4 339.6,1382.9 342.1,1382.5 344.6,1381.6 347.1,1382.1 349.6,1382.8 352.1,1382.6 354.6,1382.4 357.1,1381.7 359.7,1381.4 362.2,1381.9 364.7,1382.4 367.2,1382.4 369.7,1381.1 372.2,1382.1 374.7,1382.3 377.2,1381.3 379.7,1382.6 382.2,1382.4 384.7,1381.8 387.2,1382.3 389.7,1383.3 392.2,1382.3 394.7,1382.4 397.2,1383.2 399.7,1383.2 402.2,1383 404.7,1383.6 407.2,1383.8 409.7,1382.8 412.2,1383.1 414.7,1383 417.2,1382.4 419.7,1381.9 422.2,1380.7 424.7,1380.9 427.2,1379.9 429.7,1379 432.2,1379.4 434.7,1378.6 437.2,1378.5 439.7,1378.7 442.2,1378.6 444.7,1377.6 447.2,1377.6 449.7,1378.2 452.2,1377.1 454.7,1377.1 457.2,1376.7 459.7,1377.4 462.2,1377 464.7,1376.1 467.2,1376.9 469.7,1377.4 472.2,1377.1 474.7,1376.5 477.2,1376.7 479.7,1377.6 482.2,1378 484.7,1378.8 487.2,1380.6 489.7,1381 492.2,1381.2 494.7,1381.6 497.2,1382.1 499.7,1382 502.2,1381.6 504.7,1381.8 507.2,1382.4 509.7,1382.3 512.2,1382.2 514.7,1381.3 517.2,1382.1 519.7,1381.5 522.2,1381.1 524.7,1382.4 527.2,1381.2 529.7,1382.2 532.2,1382.1 534.7,1381.1 537.2,1381.9 539.7,1380.9 542.2,1381.4 544.7,1381.8 547.2,1380.7 549.7,1381 552.2,1381 554.7,1380.5 557.2,1380.8 559.7,1381.6 562.2,1381 564.7,1380.9 567.2,1381.9 569.7,1381.4 572.2,1381.2 574.7,1382.1 577.2,1381.1 579.7,1382 582.2,1382.3 584.7,1382.1 587.2,1382 589.7,1382.2 592.2,1382 594.7,1381.1 597.2,1381.7 599.7,1381 602.2,1381.1 604.7,1380.7 607.2,1380.6 609.7,1380.9 612.2,1380.7 614.7,1380.7 617.2,1380.9 619.7,1381.1 622.2,1380.9 624.7,1380.7 627.2,1379.5 629.7,1379.9 632.2,1378.3 634.7,1377.9 637.2,1378.1 639.7,1376.9 642.3,1376.6 644.8,1377.3 647.3,1376.2 649.8,1376.5 652.3,1376.2 654.8,1377.1 657.3,1376.6 659.8,1375.4 662.3,1375.5 664.8,1375.2 667.3,1374.7 669.8,1375.1 672.3,1373.8 674.8,1374.6 677.3,1373.6 679.8,1374.2 682.3,1373.7 684.8,1373.4 687.3,1372.4 689.8,1371 692.3,1371.5 694.8,1370 697.3,1369.7 699.8,1369.4 702.3,1370 704.8,1369.9 707.3,1369.6 709.8,1370.2 712.3,1370.7 714.8,1371.1 717.3,1370 719.8,1370.4 722.3,1370.9 724.8,1369.7 727.3,1369.9 729.8,1369.9 732.3,1369.4 734.8,1370.6 737.3,1369.1 739.8,1369.1 742.3,1367.8 744.8,1366 747.3,1365.4 749.8,1363.7 752.3,1362 754.8,1360.4 757.3,1357.8 759.8,1356.2 762.3,1353.6 764.8,1351.5 767.3,1348.2 769.8,1345.2 772.3,1342.3 774.8,1339.9 777.3,1337.2 779.8,1334.7 782.3,1332.7 784.8,1330 787.3,1328 789.8,1324.8 792.3,1322.5 794.8,1319.5 797.3,1317.4 799.8,1314 802.3,1311.2 804.8,1307.8 807.3,1304.4 809.8,1301 812.3,1298.6 814.8,1293.8 817.3,1290.7 819.8,1286.4 822.3,1282.9 824.8,1280.1 827.3,1277.4 829.8,1276.2 832.3,1273.7 834.8,1271.9 837.3,1268.6 839.8,1265.6 842.3,1261 844.8,1257.1 847.3,1253.2 849.8,1248.8 852.3,1245.9 854.8,1242.6 857.3,1240 859.8,1237.2 862.3,1234.3 864.8,1232.7 867.3,1229.8 869.8,1227.1 872.3,1225 874.8,1223.1 877.3,1220.6 879.8,1219.2 882.3,1217.1 884.8,1214.1 887.3,1212.7 889.8,1210.3 892.3,1209.3 894.8,1206.4 897.3,1205.4 899.8,1203.3 902.3,1202.1 904.8,1199.6 907.3,1198.1 909.8,1197.1 912.3,1194.6 914.8,1193.9 917.3,1192.6 919.8,1190.6 922.3,1189.6 924.9,1188.8 927.4,1187.7 929.9,1186.3 932.4,1185.4 934.9,1184.2 937.4,1183 939.9,1181.8 942.4,1180.7 944.9,1180.8 947.4,1178.8 949.9,1178.4 952.4,1177.3 954.9,1175.9 957.4,1174.7 959.9,1174 962.4,1171.8 964.9,1170.7 967.4,1169.3 969.9,1168.5 972.4,1166 974.9,1164.7 977.4,1163.5 979.9,1161.6 982.4,1160.1 984.9,1159.1 987.4,1157.7 989.9,1155.2 992.4,1154.7 994.9,1153.7 997.4,1152.5 999.9,1151 1002.4,1149.8 1004.9,1149.5 1007.4,1147.2 1009.9,1146.3 1012.4,1145.5 1014.9,1145.1 1017.4,1142.8 1019.9,1142.3 1022.4,1141.2 1024.9,1139.7 1027.4,1137.9 1029.9,1137.6 1032.4,1135.2 1034.9,1134.6 1037.4,1132.2 1039.9,1131 1042.4,1128.8 1044.9,1126.9 1047.4,1123.8 1049.9,1122.3 1052.4,1119.2 1054.9,1117.5 1057.4,1115.2 1059.9,1113.4 1062.4,1111 1064.9,1108.5 1067.4,1106 1069.9,1103.1 1072.4,1101.5 1074.9,1098.2 1077.4,1095.8 1079.9,1094 1082.4,1091.7 1084.9,1089.2 1087.4,1087 1089.9,1084.6 1092.4,1083 1094.9,1080.7 1097.4,1078.5 1099.9,1075.6 1102.4,1074 1104.9,1071.6 1107.4,1068.8 1109.9,1067.4 1112.4,1064.5 1114.9,1062.7 1117.4,1060.3 1119.9,1057.6 1122.4,1056.3 1124.9,1054 1127.4,1051.5 1129.9,1049.4 1132.4,1046.3 1134.9,1044.2 1137.4,1041.8 1139.9,1039.6 1142.4,1037.2 1144.9,1035.1 1147.4,1032.8 1149.9,1031.6 1152.4,1028.1 1154.9,1025.9 1157.4,1023.8 1159.9,1022.5 1162.4,1019.4 1164.9,1017.7 1167.4,1015.1 1169.9,1012.1 1172.4,1010.1 1174.9,1008.5 1177.4,1005.8 1179.9,1004.1 1182.4,1001.1 1184.9,1000.3 1187.4,997.2 1189.9,996.6 1192.4,994.7 1194.9,992.8 1197.4,991 1199.9,989.9 1202.4,987.2 1204.9,987.2 1207.5,985.6 1210,983.8 1212.5,983.2 1215,980.6 1217.5,980.1 1220,978.7 1222.5,978 1225,976.6 1227.5,976 1230,974.6 1232.5,972.8 1235,972 1237.5,971.3 1240,970.3 1242.5,970 1245,969.9 1247.5,969.8 1250,969.8 1252.5,970.5 1255,970.3 1257.5,970.6 1260,970.4 1262.5,970.1 1265,970.9 1267.5,970.8 1270,970.9 1272.5,971.1 1275,970.2 1277.5,969.9 1280,970.5 1282.5,970.8 1285,970.3 1287.5,970.6 1290,970.8 1292.5,970.3 1295,971.1 1297.5,970.8 1300,970.3 1302.5,971.1 1305,970.4 1307.5,971.4 1310,972.3 1312.5,972.9 1315,973 1317.5,974 1320,974.6 1322.5,976.4 1325,976.6 1327.5,979.1 1330,979.8 1332.5,980.8 1335,982.3 1337.5,983.6 1340,984.4 1342.5,984.9 1345,986.7 1347.5,987.4 1350,988.9 1352.5,989.9 1355,991.4 1357.5,991.5 1360,992.2 1362.5,993.6 1365,994.3 1367.5,995.4 1370,997 1372.5,998.3 1375,999.1 1377.5,1000.6 1380,1002.2 1382.5,1004.9 1385,1005.8 1387.5,1007.7 1390,1009.6 1392.5,1012 1395,1014.8 1397.5,1016.6 1400,1019.7 1402.5,1022 1405,1023.5 1407.5,1025.8 1410,1028.6 1412.5,1029.6 1415,1032.1 1417.5,1034.5 1420,1036.8 1422.5,1038 1425,1040.5 1427.5,1042 1430,1044.4 1432.5,1046.2 1435,1047.3 1437.5,1049.6 1440,1051.6 1442.5,1053.2 1445,1054.8 1447.5,1056.9 1450,1058.9 1452.5,1061.7 1455,1064.1 1457.5,1065.6 1460,1067.2 1462.5,1069.3 1465,1071.7 1467.5,1074.6 1470,1077.4 1472.5,1080.4 1475,1082.3 1477.5,1086 1480,1088.1 1482.5,1091.4 1485,1094.6 1487.5,1097.1 1490.1,1099.5 1492.6,1102.8 1495.1,1106.1 1497.6,1108.9 1500.1,1111.1 1502.6,1112.4 1505.1,1113.4 1507.6,1115.7 1510.1,1116.8 1512.6,1117.1 1515.1,1118.5 1517.6,1120.2 1520.1,1121.7 1522.6,1122.5 1525.1,1125.3 1527.6,1126.7 1530.1,1129.5 1532.6,1131.9 1535.1,1133.6 1537.6,1135.2 1540.1,1137.6 1542.6,1140.2 1545.1,1142.1 1547.6,1144.3 1550.1,1145.3 1552.6,1147.5 1555.1,1149.5 1557.6,1149.7 1560.1,1152.2 1562.6,1152.4 1565.1,1154.6 1567.6,1155.6 1570.1,1156.7 1572.6,1159.1 1575.1,1160.6 1577.6,1162 1580.1,1163 1582.6,1165.1 1585.1,1165.5 1587.6,1167.8 1590.1,1167.7 1592.6,1169.3 1595.1,1169.2 1597.6,1169.6 1600.1,1170.6 1602.6,1171.2 1605.1,1173.1 1607.6,1174.3 1610.1,1176.1 1612.6,1177.3 1615.1,1178.8 1617.6,1181.2 1620.1,1183.3 1622.6,1185.3 1625.1,1186.8 1627.6,1188.4 1630.1,1190.6 1632.6,1190.7 1635.1,1192.8 1637.6,1192.6 1640.1,1193.6 1642.6,1194.1 1645.1,1194.7 1647.6,1196.3 1650.1,1196.8 1652.6,1196.2 1655.1,1197.5 1657.6,1198 1660.1,1198.3 1662.6,1199.2 1665.1,1199.3 1667.6,1199.4 1670.1,1201.3 1672.6,1201.6 1675.1,1202.2 1677.6,1202.7 1680.1,1203.4 1682.6,1203.3 1685.1,1204.1 1687.6,1203.7 1690.1,1203.9 1692.6,1205 1695.1,1205.6 1697.6,1205.2 1700.1,1205.7 1702.6,1206.7 1705.1,1207.1 1707.6,1207.8 1710.1,1208.7 1712.6,1209.5 1715.1,1210.5 1717.6,1211 1720.1,1211.9 1722.6,1213.9 1725.1,1214 1727.6,1215.8 1730.1,1215.8 1732.6,1216.9 1735.1,1217.8 1737.6,1217.9 1740.1,1219.9 1742.6,1221 1745.1,1221.5 1747.6,1223.2 1750.1,1223.8 1752.6,1226.5 1755.1,1227.2 1757.6,1228.4 1760.1,1230.4 1762.6,1231 1765.1,1233.5 1767.6,1233.6 1770.1,1235.7 1772.7,1236.4 1775.2,1238.4 1777.7,1239.6 1780.2,1240.6 1782.7,1242.6 1785.2,1244.6 1787.7,1246.4 1790.2,1248.7 1792.7,1250 1795.2,1252.8 1797.7,1254.4 1800.2,1257.3 1802.7,1260.2 1805.2,1262.7 1807.7,1264.7 1810.2,1267.9 1812.7,1269.8 1815.2,1271.9 1817.7,1273.9 1820.2,1276.3 1822.7,1277.9 1825.2,1279.9 1827.7,1282.5 1830.2,1285.4 1832.7,1288.5 1835.2,1291.5 1837.7,1293.3 1840.2,1296.1 1842.7,1300.2 1845.2,1301.8 1847.7,1305.2 1850.2,1307.4 1852.7,1311.3 1855.2,1312.8 1857.7,1316.4 1860.2,1318.6 1862.7,1321.1 1865.2,1324 1867.7,1327.1 1870.2,1330 1872.7,1332 1875.2,1334.1 1877.7,1337.6 1880.2,1339 1882.7,1341.9 1885.2,1344.1 1887.7,1345.9 1890.2,1347.6 1892.7,1350.5 1895.2,1353.7 1897.7,1355.1 1900.2,1359 1902.7,1361.4 1905.2,1364.8 1907.7,1367 1910.2,1371.1 1912.7,1373.4 1915.2,1377.6 1917.7,1381.4"/>
<circle cx="1917.7" cy="1380.9" r="6.3" stroke="none" style="shape-rendering:crispEdges"/>
</g>
<g stroke="#0000ff" fill="#0000ff">
<polyline class="c" points="90,1252.9 95,1252.9 99.2,1252.5 101.8,1252.9 104.3,1253.3 106.8,1252.9 109.3,1252.8 111.8,1252.1 114.3,1251.8 116.8,1251.6 119.3,1251.3 121.8,1251.8 124.3,1251 126.8,1251.8 129.3,1251.1 131.8,1251.9 134.3,1250.9 136.8,1250.7 139.3,1251.4 141.8,1251.5 144.3,1251.4 146.8,1250.4 149.3,1250.6 151.8,1250.7 154.3,1250 156.8,1250.5 159.3,1250.4 161.8,1249.7 164.3,1250.8 166.8,1250.8 169.3,1250.4 171.8,1249.9 174.3,1250.1 176.8,1250.6 179.3,1250.4 181.8,1250.5 184.3,1251.3 186.8,1252 189.3,1251.6 191.8,1251.8 194.3,1252.1 196.8,1251.6 199.3,1252.6 201.8,1252.8 204.3,1251.7 206.8,1252.5 209.3,1252.5 211.8,1251.9 214.3,1252.2 216.8,1251.5 219.3,1251.3 221.8,1251.7 224.3,1252.1 226.8,1251.7 229.3,1251.8 231.8,1251 234.3,1251.7 236.8,1251.5 239.3,1251.6 241.8,1251.9 244.3,1250.8 246.8,1251.5 249.3,1251.7 251.8,1251.2 254.3,1250.7 256.8,1251.7 259.3,1251.3 261.8,1250.9 264.3,1251.1 266.8,1251.4 269.3,1250.8 271.8,1251.6 274.3,1251.8 276.8,1251.3 279.4,1251.2 281.9,1251.9 284.4,1252.6 286.9,1252.8 289.4,1252.3 291.9,1252.5 294.4,1252.5 296.9,1252.8 299.4,1253.3 301.9,1253.3 304.4,1252.4 306.9,1252.3 309.4,1253.5 311.9,1252.6 314.4,1252.2 316.9,1252.3 319.4,1252.9 321.9,1252 324.4,1252.3 326.9,1252.8 329.4,1251.7 331.9,1251.7 334.4,1252.1 336.9,1251.9 339.4,1252 341.9,1252.1 344.4,1251.9 346.9,1252.8 349.4,1252.2 351.9,1252.7 354.4,1252.8 356.9,1252 359.4,1251.9 361.9,1252.7 364.4,1252 366.9,1251.9 369.4,1251.7 371.9,1252.4 374.4,1251.6 376.9,1252.1 379.4,1251.7 381.9,1252.9 384.4,1252.4 386.9,1252.3 389.4,1252.9 391.9,1252.7 394.4,1252 396.9,1252.5 399.4,1253.2 401.9,1253.5 404.4,1252.5 406.9,1253.2 409.4,1253 411.9,1252.9 414.4,1253.2 416.9,1253.9 419.4,1253.6 421.9,1255.1 424.4,1254.3 426.9,1254.4 429.4,1254.9 431.9,1254.2 434.4,1253.9 436.9,1254.3 439.4,1254 441.9,1252.7 444.4,1252.7 446.9,1252 449.4,1252.1 451.9,1252.1 454.4,1251.8 456.9,1250.5 459.5,1251.2 462,1250.8 464.5,1250.9 467,1249.8 469.5,1249.7 472,1250.1 474.5,1249.6 477,1250 479.5,1249 482,1249.2 484.5,1249.6 487,1250 489.5,1250.4 492,1251 494.5,1250.6 497,1250.6 499.5,1251.3 502,1250.9 504.5,1251.8 507,1251.2 509.5,1251.8 512,1251.1 514.5,1252 517,1251.4 519.5,1251.2 522,1252.1 524.5,1251.8 527,1252.8 529.5,1251.5 532,1251.7 534.5,1251.8 537,1252.2 539.5,1252.8 542,1251.9 544.5,1252.7 547,1251.7 549.5,1251.7 552,1252.3 554.5,1252.3 557,1252.5 559.5,1252.2 562,1252.2 564.5,1251.6 567,1251.8 569.5,1251.4 572,1251.6 574.5,1250.8 577,1251.1 579.5,1250.6 582,1250.5 584.5,1250.2 587,1250.3 589.5,1250.3 592,1250.7 594.5,1250.3 597,1250.4 599.5,1249.5 602,1249.9 604.5,1250.1 607,1249 609.5,1249.1 612,1249.4 614.5,1249.4 617,1248.9 619.5,1248.9 622,1248.6 624.5,1248.1 627,1248.1 629.5,1247.3 632,1246.6 634.5,1247.7 637.1,1246.2 639.6,1247.2 642.1,1246.7 644.6,1248.4 647.1,1248.1 649.6,1249.3 652.1,1248.7 654.6,1248.8 657.1,1248.6 659.6,1249.4 662.1,1248.1 664.6,1248.6 667.1,1249.2 669.6,1248.6 672.1,1249.3 674.6,1249.7 677.1,1249.8 679.6,1250.3 682.1,1250.9 684.6,1251.9 687.1,1251.7 689.6,1251.4 692.1,1251.9 694.6,1252.2 697.1,1251.2 699.6,1252.2 702.1,1251.8 704.6,1252 707.1,1251.8 709.6,1251.3 712.1,1250.9 714.6,1251.4 717.1,1250.6 719.6,1250.4 722.1,1250.4 724.6,1248.6 727.1,1248.1 729.6,1247.7 732.1,1246.2 734.6,1246.1 737.1,1244.6 739.6,1243.3 742.1,1240.7 744.6,1239.4 747.1,1236.2 749.6,1233 752.1,1229.5 754.6,1227.2 757.1,1222.3 759.6,1219.1 762.1,1214.2 764.6,1207.7 767.1,1202.3 769.6,1197.9 772.1,1192.6 774.6,1186.9 777.1,1181.8 779.6,1175.8 782.1,1171.6 784.6,1165.9 787.1,1161.8 789.6,1157.6 792.1,1152.3 794.6,1149.4 797.1,1145.6 799.6,1142.3 802.1,1138.6 804.6,1135.7 807.1,1131.8 809.6,1127.8 812.1,1125.6 814.6,1121.4 817.2,1117.9 819.7,1114.6 822.2,1112.2 824.7,1108.3 827.2,1104.7 829.7,1101.8 832.2,1099.5 834.7,1097 837.2,1093.1 839.7,1091.3 842.2,1087.6 844.7,1085.4 847.2,1082.5 849.7,1079.2 852.2,1076.3 854.7,1073.7 857.2,1071 859.7,1068.3 862.2,1067.5 864.7,1064.4 867.2,1063.2 869.7,1061.6 872.2,1059.9 874.7,1059.5 877.2,1057.5 879.7,1055.7 882.2,1054.8 884.7,1053 887.2,1050.9 889.7,1049.4 892.2,1048.2 894.7,1046.9 897.2,1045.9 899.7,1043.2 902.2,1041.8 904.7,1040 907.2,1038.8 909.7,1037.7 912.2,1036.9 914.7,1035.9 917.2,1035.3 919.7,1033.5 922.2,1032.8 924.7,1031.5 927.2,1031.3 929.7,1030.4 932.2,1029.7 934.7,1029.4 937.2,1028.6 939.7,1026.6 942.2,1025.9 944.7,1026 947.2,1023.8 949.7,1023.5 952.2,1021.1 954.7,1020 957.2,1018.8 959.7,1016.3 962.2,1014.8 964.7,1014 967.2,1011 969.7,1010.1 972.2,1007.9 974.7,1006 977.2,1003.5 979.7,1002.3 982.2,999.9 984.7,997.6 987.2,995.6 989.7,994.3 992.2,992.3 994.8,990.6 997.3,988.8 999.8,986.1 1002.3,984.7 1004.8,983.3 1007.3,980.4 1009.8,979.5 1012.3,977.2 1014.8,974.9 1017.3,973.4 1019.8,970.6 1022.3,968.4 1024.8,967.1 1027.3,965.5 1029.8,963 1032.3,961 1034.8,960 1037.3,958.2 1039.8,955.5 1042.3,952.5 1044.8,951.2 1047.3,948.3 1049.8,945.2 1052.3,943.4 1054.8,940.9 1057.3,939.4 1059.8,936.2 1062.3,934.2 1064.8,932 1067.3,929.4 1069.8,926.4 1072.3,923.3 1074.8,920 1077.3,915.8 1079.8,912.7 1082.3,910.1 1084.8,906.3 1087.3,902.6 1089.8,899.4 1092.3,897.5 1094.8,893.1 1097.3,890.1 1099.8,887.5 1102.3,884.4 1104.8,881.9 1107.3,878.9 1109.8,875.5 1112.3,871.5 1114.8,869.1 1117.3,866.1 1119.8,863.6 1122.3,862.2 1124.8,859.8 1127.3,857.3 1129.8,855.7 1132.3,852.7 1134.8,850.2 1137.3,848.1 1139.8,845.3 1142.3,842.5 1144.8,840 1147.3,837.8 1149.8,836 1152.3,833.7 1154.8,832.4 1157.3,831.4 1159.8,829.4 1162.3,828.4 1164.8,827.6 1167.3,826.2 1169.8,825.5 1172.4,823.4 1174.9,822.6 1177.4,820.9 1179.9,819.4 1182.4,817.8 1184.9,816.7 1187.4,816.5 1189.9,816.1 1192.4,815.4 1194.9,814.4 1197.4,814.5 1199.9,814.4 1202.4,813.8 1204.9,813.8 1207.4,812.6 1209.9,810.4 1212.4,810.5 1214.9,809.9 1217.4,810.1 1219.9,810.8 1222.4,811 1224.9,810.3 1227.4,810.9 1229.9,810.7 1232.4,809.1 1234.9,809.6 1237.4,808.7 1239.9,809.3 1242.4,809.3 1244.9,809.8 1247.4,810.5 1249.9,811.4 1252.4,812.4 1254.9,812.9 1257.4,812.8 1259.9,813.1 1262.4,813 1264.9,813.4 1267.4,813.8 1269.9,813.6 1272.4,814 1274.9,814.8 1277.4,815.7 1279.9,817.6 1282.4,821.1 1284.9,824.3 1287.4,825.7 1289.9,828.3 1292.4,830.1 1294.9,832.2 1297.4,834.2 1299.9,835 1302.4,837.8 1304.9,840.4 1307.4,842.5 1309.9,843.4 1312.4,844.9 1314.9,845.2 1317.4,845 1319.9,846.4 1322.4,846.9 1324.9,849.2 1327.4,850.3 1329.9,852.8 1332.4,854.5 1334.9,857.6 1337.4,861.1 1339.9,864.7 1342.4,868.3 1344.9,870.3 1347.4,872.2 1349.9,874.2 1352.5,876.4 1355,879.1 1357.5,881 1360,884 1362.5,886.4 1365,888.3 1367.5,890 1370,890.3 1372.5,892 1375,893.8 1377.5,894.6 1380,897.2 1382.5,899.5 1385,902.6 1387.5,904.8 1390,908.5 1392.5,910.6 1395,912.6 1397.5,913.8 1400,915.2 1402.5,916.9 1405,918.1 1407.5,920.2 1410,922.8 1412.5,926.1 1415,930 1417.5,933.9 1420,936.9 1422.5,940.3 1425,942.3 1427.5,946.2 1430,949.1 1432.5,950.6 1435,953.2 1437.5,956.4 1440,957.8 1442.5,959.1 1445,961.3 1447.5,964.6 1450,966.8 1452.5,968.9 1455,971.5 1457.5,973.7 1460,975.1 1462.5,978.2 1465,980.5 1467.5,982 1470,983.9 1472.5,986.4 1475,988.5 1477.5,991.4 1480,993.4 1482.5,995.7 1485,998 1487.5,1000 1490,1001.6 1492.5,1004.2 1495,1006.2 1497.5,1009.2 1500,1010.8 1502.5,1013.9 1505,1016.9 1507.5,1019.7 1510,1022.6 1512.5,1025.1 1515,1028.2 1517.5,1031.1 1520,1032.9 1522.5,1035.6 1525,1037.6 1527.5,1040.7 1530.1,1042.8 1532.6,1044.9 1535.1,1046.1 1537.6,1046.9 1540.1,1048.8 1542.6,1049.7 1545.1,1049.3 1547.6,1051.1 1550.1,1052.4 1552.6,1052.5 1555.1,1054.4 1557.6,1055.4 1560.1,1057.1 1562.6,1059.6 1565.1,1060.1 1567.6,1062.2 1570.1,1063.9 1572.6,1064.1 1575.1,1064.9 1577.6,1067.2 1580.1,1067.4 1582.6,1068.6 1585.1,1069.4 1587.6,1069 1590.1,1069.8 1592.6,1070.6 1595.1,1070.2 1597.6,1070.3 1600.1,1071.6 1602.6,1070.9 1605.1,1071.4 1607.6,1072.9 1610.1,1075.1 1612.6,1076.1 1615.1,1077.6 1617.6,1078.4 1620.1,1078.9 1622.6,1078.5 1625.1,1078.9 1627.6,1078.6 1630.1,1078.7 1632.6,1079.3 1635.1,1079.6 1637.6,1079.8 1640.1,1080.3 1642.6,1081.1 1645.1,1081.5 1647.6,1081.9 1650.1,1081.8 1652.6,1083.3 1655.1,1083.1 1657.6,1084.3 1660.1,1083.9 1662.6,1085.6 1665.1,1086.2 1667.6,1086.5 1670.1,1086.9 1672.6,1087.1 1675.1,1087.9 1677.6,1089.8 1680.1,1089.9 1682.6,1090.7 1685.1,1091.2 1687.6,1091.4 1690.1,1092.5 1692.6,1093.4 1695.1,1093.6 1697.6,1094.6 1700.1,1095.2 1702.6,1096.5 1705.1,1096 1707.6,1097 1710.2,1097.8 1712.7,1097.7 1715.2,1099.5 1717.7,1099.2 1720.2,1099.8 1722.7,1101 1725.2,1102.4 1727.7,1103.1 1730.2,1103.3 1732.7,1105.4 1735.2,1106.4 1737.7,1108.3 1740.2,1111.4 1742.7,1113.9 1745.2,1116.1 1747.7,1118.5 1750.2,1120.8 1752.7,1121.8 1755.2,1124.5 1757.7,1125.6 1760.2,1127.7 1762.7,1129.2 1765.2,1132.6 1767.7,1135 1770.2,1137.5 1772.7,1139.9 1775.2,1141.7 1777.7,1144.7 1780.2,1145.9 1782.7,1148.7 1785.2,1151.1 1787.7,1152.8 1790.2,1156.3 1792.7,1158.9 1795.2,1160.8 1797.7,1163.9 1800.2,1167.6 1802.7,1170.1 1805.2,1173.9 1807.7,1177.3 1810.2,1180.5 1812.7,1183.2 1815.2,1186.1 1817.7,1189.3 1820.2,1193.1 1822.7,1195.4 1825.2,1197.9 1827.7,1201.4 1830.2,1203.4 1832.7,1204.4 1835.2,1206.9 1837.7,1208.7 1840.2,1209.8 1842.7,1212.1 1845.2,1213.3 1847.7,1215.6 1850.2,1217.7 1852.7,1220 1855.2,1221.6 1857.7,1222.7 1860.2,1225.2 1862.7,1227 1865.2,1228.4 1867.7,1231.1 1870.2,1232.6 1872.7,1235.5 1875.2,1236.5 1877.7,1238 1880.2,1239.6 1882.7,1241.3 1885.2,1242.4 1887.8,1243.6 1890.3,1245.1 1892.8,1245.9 1895.3,1246.8 1897.8,1247.6 1900.3,1247.7 1902.8,1249.5 1905.3,1249.1 1907.8,1250.5 1910.3,1250.2 1912.8,1250 1915.3,1250.9 1917.8,1250.3 1920.3,1249.9 1922.8,1250.2 1925.3,1250.2 1930,1249.7 1935,1249.7"/>
<polyline class="c" points="90,1253.9 95,1253.9 99.2,1253.7 101.8,1253.7 104.3,1254 106.8,1254.1 109.3,1252.9 111.8,1253.3 114.3,1253.6 116.8,1253.3 119.3,1252.9 121.8,1253.1 124.3,1252.1 126.8,1252.7 129.3,1252.3 131.8,1252.8 134.3,1252.7 136.8,1251.7 139.3,1252.5 141.8,1251.5 144.3,1251.8 146.8,1251.3 149.3,1251.5 151.8,1251.9 154.3,1251.3 156.8,1251.8 159.3,1251.6 161.8,1251.7 164.3,1251.7 166.8,1250.6 169.3,1251.5 171.8,1251.4 174.3,1251.1 176.8,1251.9 179.3,1251.8 181.8,1252 184.3,1252.6 186.8,1252.5 189.3,1252.7 191.8,1252.2 194.3,1252.3 196.8,1253.8 199.3,1253 201.8,1252.7 204.3,1252.6 206.8,1253.1 209.3,1252.9 211.8,1252.8 214.3,1252.6 216.8,1252.5 219.3,1252.9 221.8,1252.8 224.3,1251.9 226.8,1252.6 229.3,1251.7 231.8,1252.3 234.3,1252.1 236.8,1251.9 239.3,1251.9 241.8,1252.4 244.3,1251.8 246.8,1252.8 249.3,1252.1 251.8,1252.1 254.3,1252.8 256.8,1251.6 259.3,1251.9 261.8,1252 264.3,1252.6 266.8,1252.7 269.3,1252.3 271.8,1252.3 274.3,1252.8 276.8,1253.1 279.4,1253 281.9,1252.5 284.4,1253.4 286.9,1253.2 289.4,1253.5 291.9,1253.7 294.4,1253.8 296.9,1253.6 299.4,1254.5 301.9,1253.5 304.4,1253.8 306.9,1253.5 309.4,1254.4 311.9,1253.9 314.4,1254.2 316.9,1254 319.4,1253.9 321.9,1253.2 324.4,1252.9 326.9,1252.9 329.4,1253.5 331.9,1252.6 334.4,1252.6 336.9,1253 339.4,1253.8 341.9,1252.8 344.4,1253.7 346.9,1253.7 349.4,1253.8 351.9,1253.3 354.4,1253.5 356.9,1252.5 359.4,1252.9 361.9,1252.8 364.4,1253.9 366.9,1253.3 369.4,1252.8 371.9,1253.7 374.4,1252.7 376.9,1253.2 379.4,1253.1 381.9,1252.8 384.4,1252.8 386.9,1253.5 389.4,1253.5 391.9,1254.1 394.4,1253.4 396.9,1253.1 399.4,1253.4 401.9,1254.3 404.4,1253.5 406.9,1254 409.4,1254.7 411.9,1255.1 414.4,1254.8 416.9,1254.7 419.4,1255.8 421.9,1254.8 424.4,1255.1 426.9,1255.3 429.4,1255.1 431.9,1254.7 434.4,1255.5 436.9,1255.3 439.4,1254.5 441.9,1254.5 444.4,1253.6 446.9,1253.7 449.4,1253 451.9,1253.1 454.4,1252.8 456.9,1252.4 459.5,1251.2 462,1251.7 464.5,1250.8 467,1250.9 469.5,1250.7 472,1250.4 474.5,1250.4 477,1250.1 479.5,1250.1 482,1250 484.5,1250.6 487,1251.5 489.5,1251.7 492,1251.7 494.5,1252.1 497,1251.3 499.5,1252.6 502,1252.7 504.5,1252.4 507,1252.2 509.5,1253.1 512,1252.5 514.5,1252.3 517,1252.3 519.5,1252.9 522,1253.5 524.5,1253.1 527,1253.2 529.5,1252.8 532,1253.7 534.5,1253.4 537,1253.2 539.5,1253.6 542,1252.8 544.5,1253.5 547,1252.6 549.5,1253.8 552,1252.8 554.5,1253.4 557,1252.2 559.5,1252.9 562,1252 564.5,1252.6 567,1252.6 569.5,1252.8 572,1252 574.5,1251.7 577,1252.7 579.5,1252.3 582,1251.9 584.5,1251.6 587,1252.2 589.5,1251.6 592,1250.9 594.5,1251.3 597,1251.2 599.5,1250.6 602,1250.6 604.5,1250.9 607,1250.9 609.5,1250.1 612,1249.6 614.5,1249.1 617,1249.3 619.5,1248.9 622,1249.6 624.5,1248.2 627,1247.8 629.5,1248.7 632,1247.7 634.5,1247.3 637.1,1248 639.6,1248.5 642.1,1248.7 644.6,1249.1 647.1,1248.8 649.6,1249.6 652.1,1250.2 654.6,1249.7 657.1,1250.3 659.6,1249.2 662.1,1250.3 664.6,1250.2 667.1,1249.2 669.6,1250.4 672.1,1250.7 674.6,1250.4 677.1,1250.8 679.6,1251.5 682.1,1252.8 684.6,1252.4 687.1,1252.3 689.6,1252.6 692.1,1252.4 694.6,1252.8 697.1,1252.4 699.6,1252.7 702.1,1253.5 704.6,1252.4 707.1,1252.6 709.6,1252.8 712.1,1252.8 714.6,1252.5 717.1,1251.2 719.6,1251.7 722.1,1251.1 724.6,1249.7 727.1,1249.4 729.6,1248.8 732.1,1247.9 734.6,1246.7 737.1,1245.2 739.6,1243.3 742.1,1241.8 744.6,1240.5 747.1,1237.6 749.6,1234.6 752.1,1230.2 754.6,1227.4 757.1,1223.9 759.6,1220.3 762.1,1215.6 764.6,1209 767.1,1203.3 769.6,1198.6 772.1,1193.8 774.6,1188.5 777.1,1183.2 779.6,1177.6 782.1,1172 784.6,1167.6 787.1,1163 789.6,1158.1 792.1,1153.4 794.6,1149.5 797.1,1146.3 799.6,1143.1 802.1,1140.1 804.6,1136 807.1,1133 809.6,1128.9 812.1,1126.7 814.6,1123 817.2,1119.3 819.7,1116.2 822.2,1112.3 824.7,1109.6 827.2,1106.4 829.7,1102.9 832.2,1100.6 834.7,1097.1 837.2,1094.6 839.7,1091.5 842.2,1089.7 844.7,1086.1 847.2,1082.9 849.7,1080 852.2,1077 854.7,1074.4 857.2,1072 859.7,1070.3 862.2,1068.5 864.7,1066.1 867.2,1065 869.7,1063.3 872.2,1061.4 874.7,1060.2 877.2,1058.7 879.7,1057.3 882.2,1055.2 884.7,1054.1 887.2,1052.4 889.7,1051.1 892.2,1049.9 894.7,1048.2 897.2,1046.5 899.7,1044.8 902.2,1042.5 904.7,1041.6 907.2,1039.8 909.7,1038.4 912.2,1037.9 914.7,1036.2 917.2,1036.2 919.7,1034.7 922.2,1033.9 924.7,1032.6 927.2,1031.9 929.7,1031.9 932.2,1030.5 934.7,1029.9 937.2,1029.6 939.7,1027.7 942.2,1027.9 944.7,1025.6 947.2,1025.5 949.7,1023.9 952.2,1022.1 954.7,1020.6 957.2,1019.2 959.7,1018.2 962.2,1016.4 964.7,1014.6 967.2,1012.5 969.7,1010.2 972.2,1008.9 974.7,1006.7 977.2,1004.9 979.7,1002.7 982.2,1001.6 984.7,999.3 987.2,996.7 989.7,995.1 992.2,993.9 994.8,991.3 997.3,989.5 999.8,987.2 1002.3,985.4 1004.8,984.4 1007.3,981.4 1009.8,980.6 1012.3,978.2 1014.8,976.1 1017.3,974.6 1019.8,971.9 1022.3,969.3 1024.8,968.3 1027.3,965.9 1029.8,964.5 1032.3,962.7 1034.8,960.3 1037.3,958.3 1039.8,955.9 1042.3,954 1044.8,951.9 1047.3,949.4 1049.8,946.7 1052.3,944.4 1054.8,941.7 1057.3,939.2 1059.8,937 1062.3,934.9 1064.8,932.2 1067.3,930.2 1069.8,927.9 1072.3,923.9 1074.8,921 1077.3,917.6 1079.8,914.7 1082.3,910.6 1084.8,906.9 1087.3,904.7 1089.8,901.6 1092.3,897.8 1094.8,895.3 1097.3,892 1099.8,888.9 1102.3,885.7 1104.8,882.2 1107.3,879.8 1109.8,876.3 1112.3,873.8 1114.8,869.5 1117.3,867 1119.8,865.6 1122.3,862 1124.8,860.9 1127.3,858.3 1129.8,856 1132.3,853.2 1134.8,852 1137.3,848.9 1139.8,846.7 1142.3,843.4 1144.8,841.6 1147.3,838.1 1149.8,836.5 1152.3,835.4 1154.8,832.6 1157.3,831.5 1159.8,831.2 1162.3,829.3 1164.8,829.6 1167.3,828.1 1169.8,827 1172.4,825.4 1174.9,822.9 1177.4,822 1179.9,819.7 1182.4,818.3 1184.9,817.1 1187.4,817.2 1189.9,816.5 1192.4,815.9 1194.9,815.4 1197.4,815 1199.9,815 1202.4,814.4 1204.9,813.5 1207.4,813 1209.9,811.7 1212.4,811.8 1214.9,810.9 1217.4,811.7 1219.9,811.4 1222.4,811.8 1224.9,811 1227.4,811.1 1229.9,811.2 1232.4,811 1234.9,809.5 1237.4,810.4 1239.9,810 1242.4,810.8 1244.9,810.6 1247.4,812.2 1249.9,811.9 1252.4,813.3 1254.9,813.1 1257.4,813.2 1259.9,813.3 1262.4,813.8 1264.9,814.7 1267.4,814.7 1269.9,814.6 1272.4,815 1274.9,816.3 1277.4,817.8 1279.9,818.6 1282.4,822.1 1284.9,825.5 1287.4,826.8 1289.9,828.9 1292.4,831 1294.9,832.7 1297.4,834.6 1299.9,836.6 1302.4,839 1304.9,841.9 1307.4,843.1 1309.9,844.8 1312.4,846 1314.9,846.1 1317.4,846.3 1319.9,846.7 1322.4,848.8 1324.9,849.9 1327.4,852.2 1329.9,854 1332.4,855.3 1334.9,858.6 1337.4,862.2 1339.9,866 1342.4,869 1344.9,871.7 1347.4,872.9 1349.9,876.2 1352.5,877.2 1355,880.4 1357.5,883 1360,885.2 1362.5,886.2 1365,889.5 1367.5,890.5 1370,892.6 1372.5,893.2 1375,894.8 1377.5,896 1380,898.4 1382.5,900.2 1385,903 1387.5,905.3 1390,908.2 1392.5,911.4 1395,913.2 1397.5,914.5 1400,915.7 1402.5,917.1 1405,919.2 1407.5,922.2 1410,923.7 1412.5,927.1 1415,931 1417.5,933.9 1420,937.2 1422.5,940.4 1425,944.1 1427.5,946.4 1430,949.5 1432.5,951.6 1435,955.3 1437.5,956.2 1440,958.3 1442.5,960.4 1445,963.2 1447.5,965 1450,967.2 1452.5,970.3 1455,972.4 1457.5,975.2 1460,977.2 1462.5,979.5 1465,981.4 1467.5,983.2 1470,985.4 1472.5,987.7 1475,990.5 1477.5,992.5 1480,994.5 1482.5,996.7 1485,999 1487.5,1000.7 1490,1003.3 1492.5,1005 1495,1006.9 1497.5,1010.6 1500,1013 1502.5,1015 1505,1018.1 1507.5,1020.5 1510,1023.6 1512.5,1026.3 1515,1028.4 1517.5,1032.1 1520,1034.1 1522.5,1036.9 1525,1038.9 1527.5,1041.4 1530.1,1043.9 1532.6,1045.9 1535.1,1047.2 1537.6,1047.6 1540.1,1049.1 1542.6,1049.9 1545.1,1050.7 1547.6,1051.6 1550.1,1053.5 1552.6,1053.9 1555.1,1056 1557.6,1056.3 1560.1,1058.3 1562.6,1060.1 1565.1,1061.5 1567.6,1063.8 1570.1,1064.8 1572.6,1065 1575.1,1067.1 1577.6,1067.6 1580.1,1068.1 1582.6,1070 1585.1,1069.5 1587.6,1069.8 1590.1,1071 1592.6,1071.7 1595.1,1072 1597.6,1071.5 1600.1,1071.9 1602.6,1073 1605.1,1073.5 1607.6,1074 1610.1,1075.9 1612.6,1078 1615.1,1079.4 1617.6,1080 1620.1,1079.6 1622.6,1079.2 1625.1,1079.2 1627.6,1080 1630.1,1080.2 1632.6,1080.5 1635.1,1080.1 1637.6,1081.1 1640.1,1081.6 1642.6,1081.7 1645.1,1083.1 1647.6,1083.3 1650.1,1083.2 1652.6,1083.7 1655.1,1084.8 1657.6,1084.8 1660.1,1086 1662.6,1085.7 1665.1,1087 1667.6,1087.2 1670.1,1087.4 1672.6,1088.2 1675.1,1089.4 1677.6,1090.6 1680.1,1091.1 1682.6,1091.8 1685.1,1092.8 1687.6,1093 1690.1,1093.8 1692.6,1094.8 1695.1,1094.7 1697.6,1096.2 1700.1,1095.7 1702.6,1096.7 1705.1,1097.2 1707.6,1097.5 1710.2,1098.6 1712.7,1098.9 1715.2,1099.6 1717.7,1101.1 1720.2,1100.9 1722.7,1101.9 1725.2,1102.6 1727.7,1103.6 1730.2,1104.7 1732.7,1106.4 1735.2,1106.8 1737.7,1110.5 1740.2,1112.7 1742.7,1115.2 1745.2,1118.3 1747.7,1120 1750.2,1121.2 1752.7,1122.6 1755.2,1125.3 1757.7,1126.2 1760.2,1128.3 1762.7,1131.4 1765.2,1133.7 1767.7,1135.6 1770.2,1137.5 1772.7,1140.1 1775.2,1142.6 1777.7,1145.1 1780.2,1146.7 1782.7,1149.9 1785.2,1152 1787.7,1154 1790.2,1156.1 1792.7,1158.9 1795.2,1162.2 1797.7,1164.8 1800.2,1168.5 1802.7,1171.3 1805.2,1175.2 1807.7,1177.5 1810.2,1180.7 1812.7,1184.1 1815.2,1187.1 1817.7,1191.3 1820.2,1194.3 1822.7,1196.4 1825.2,1198.8 1827.7,1202.3 1830.2,1203.5 1832.7,1206.4 1835.2,1207.5 1837.7,1209.4 1840.2,1210.9 1842.7,1212.4 1845.2,1214.7 1847.7,1216.9 1850.2,1218.9 1852.7,1220 1855.2,1223 1857.7,1223.7 1860.2,1226.8 1862.7,1228.2 1865.2,1229.3 1867.7,1231.5 1870.2,1234.1 1872.7,1235.6 1875.2,1237.3 1877.7,1239.2 1880.2,1240.4 1882.7,1241.9 1885.2,1244 1887.8,1244.6 1890.3,1246.1 1892.8,1247.2 1895.3,1247 1897.8,1248 1900.3,1250 1902.8,1250.3 1905.3,1250.5 1907.8,1251.4 1910.3,1251.2 1912.8,1251.2 1915.3,1251.6 1917.8,1250.9 1920.3,1250.9 1922.8,1250.8 1925.3,1250.6 1930,1250.7 1935,1250.7"/>
</g>
<g stroke="#ff8000" fill="#ff8000">
<polyline class="c" points="90,1120 95,1120 99.2,1120.5 101.8,1120.3 104.3,1120.4 106.8,1119.8 109.3,1120.4 111.8,1120.1 114.3,1119.6 116.8,1120.3 119.3,1120.4 121.8,1120 124.3,1119.8 126.8,1120.2 129.3,1120 131.8,1119.1 134.3,1117.4 136.8,1117.5 139.3,1116.7 141.8,1116.5 144.3,1115.1 146.8,1115 149.3,1116.2 151.8,1115.6 154.3,1115.8 156.8,1117 159.3,1117.4 161.8,1116.3 164.3,1117.1 166.8,1117.5 169.3,1117.1 171.8,1117 174.3,1117.1 176.8,1116.6 179.3,1117.4 181.8,1117.6 184.3,1116.3 186.8,1116.8 189.3,1117.3 191.8,1116.8 194.3,1117.2 196.8,1116.6 199.3,1117.2 201.8,1117.2 204.3,1118.1 206.8,1118.6 209.3,1118.3 211.8,1118.5 214.3,1119.6 216.8,1120.2 219.3,1119.6 221.8,1120.6 224.3,1121.2 226.8,1120.9 229.3,1121.8 231.8,1121.6 234.3,1122.1 236.8,1122.1 239.3,1122.5 241.8,1121.9 244.3,1122 246.8,1121.8 249.3,1121.6 251.8,1122.8 254.3,1121.6 256.8,1122.1 259.3,1121.9 261.8,1121.1 264.3,1122.3 266.8,1121.6 269.3,1120.7 271.8,1120.8 274.3,1121.3 276.8,1120.3 279.3,1120.5 281.8,1121.2 284.3,1120.8 286.8,1119.6 289.3,1119.6 291.8,1119.6 294.3,1118.9 296.9,1119.9 299.4,1118.7 301.9,1118.5 304.4,1119 306.9,1118.8 309.4,1118.8 311.9,1117.9 314.4,1118.5 316.9,1119.1 319.4,1118.5 321.9,1118.3 324.4,1117.5 326.9,1118.1 329.4,1118.2 331.9,1118.7 334.4,1117.9 336.9,1118.6 339.4,1117.3 341.9,1118.5 344.4,1118.1 346.9,1117.9 349.4,1118.8 351.9,1118.3 354.4,1119 356.9,1118.7 359.4,1119.7 361.9,1119.2 364.4,1120.2 366.9,1119.3 369.4,1120.7 371.9,1120.5 374.4,1119.4 376.9,1119.4 379.4,1119.5 381.9,1119.6 384.4,1120.1 386.9,1120.1 389.4,1119.3 391.9,1119.4 394.4,1118.8 396.9,1119.5 399.4,1119 401.9,1118.9 404.4,1119.5 406.9,1119.2 409.4,1118.7 411.9,1117.8 414.4,1118.7 416.9,1117.6 419.4,1116.9 421.9,1117.4 424.4,1116.5 426.9,1116.6 429.4,1116 431.9,1116 434.4,1115.9 436.9,1115.1 439.4,1114.6 441.9,1114.7 444.4,1115 446.9,1114.8 449.4,1114.2 451.9,1114.9 454.4,1115.2 456.9,1114.7 459.4,1115.2 461.9,1115 464.4,1114.9 466.9,1115.5 469.4,1115.8 471.9,1115.1 474.4,1116 476.9,1114.8 479.4,1114.9 481.9,1116.3 484.4,1116 486.9,1116.1 489.4,1115.5 492,1115.7 494.5,1116.4 497,1117.2 499.5,1117.3 502,1116.2 504.5,1117 507,1117.6 509.5,1116.7 512,1117.3 514.5,1118.3 517,1117.8 519.5,1117.5 522,1118.3 524.5,1117.7 527,1118.1 529.5,1118.1 532,1117.7 534.5,1118.9 537,1118.2 539.5,1118.2 542,1118.7 544.5,1118.8 547,1118.5 549.5,1119.3 552,1119.3 554.5,1118.4 557,1119.6 559.5,1118.8 562,1119.5 564.5,1119.3 567,1119.6 569.5,1118.6 572,1118.7 574.5,1118.5 577,1118.6 579.5,1119.4 582,1118.6 584.5,1118.9 587,1118.4 589.5,1119 592,1118.3 594.5,1119.5 597,1118.7 599.5,1118.7 602,1118.6 604.5,1118.9 607,1118.7 609.5,1118.6 612,1119.2 614.5,1118.9 617,1118.9 619.5,1119 622,1119.6 624.5,1118.6 627,1118.5 629.5,1119.3 632,1118.7 634.5,1119 637,1118.4 639.5,1118.4 642,1118.5 644.5,1119.7 647,1119.3 649.5,1120.1 652,1120.2 654.5,1119.6 657,1120.4 659.5,1120.5 662,1119.9 664.5,1119.1 667,1120 669.5,1119.5 672,1118.8 674.5,1118.9 677,1119.1 679.5,1118.8 682,1118.1 684.5,1117.6 687.1,1117.7 689.6,1115.6 692.1,1114.3 694.6,1113.1 697.1,1110.8 699.6,1105.9 702.1,1103.1 704.6,1099.9 707.1,1096.4 709.6,1092.1 712.1,1085.4 714.6,1078.9 717.1,1072.6 719.6,1065.6 722.1,1059.6 724.6,1052 727.1,1046.9 729.6,1040.7 732.1,1035.3 734.6,1029.2 737.1,1024.5 739.6,1019.5 742.1,1015.1 744.6,1010.6 747.1,1006.1 749.6,1002.5 752.1,998.9 754.6,995.3 757.1,991.4 759.6,988.5 762.1,984.8 764.6,981.3 767.1,977.7 769.6,974.8 772.1,971.8 774.6,969.1 777.1,966 779.6,962.6 782.1,959.7 784.6,958.2 787.1,955.6 789.6,952.3 792.1,949.5 794.6,947.4 797.1,945.8 799.6,942.1 802.1,940 804.6,937 807.1,934 809.6,930.1 812.1,927.3 814.6,924.3 817.1,920.7 819.6,917.5 822.1,915.7 824.6,911.9 827.1,909.4 829.6,906.6 832.1,904.4 834.6,902.3 837.1,900.1 839.6,897.6 842.1,896.5 844.6,894.5 847.1,892.6 849.6,890.7 852.1,890.8 854.6,889.4 857.1,890.2 859.6,889.9 862.1,889.6 864.6,889.1 867.1,888.5 869.6,887.8 872.1,887.5 874.6,887.3 877.1,886.7 879.6,886.9 882.2,886.9 884.7,885.8 887.2,886.8 889.7,885.3 892.2,885.3 894.7,885.2 897.2,885.7 899.7,885.1 902.2,884.9 904.7,885.1 907.2,884.6 909.7,885 912.2,884.1 914.7,885 917.2,884.1 919.7,883.2 922.2,883.2 924.7,883.7 927.2,882.7 929.7,882.6 932.2,882 934.7,881.2 937.2,880.7 939.7,880.4 942.2,879.2 944.7,878.2 947.2,877.6 949.7,876.5 952.2,875.8 954.7,875.4 957.2,874.8 959.7,874.5 962.2,873.7 964.7,873.5 967.2,872.4 969.7,872.1 972.2,872.3 974.7,870.4 977.2,870.5 979.7,868.9 982.2,868.8 984.7,867.7 987.2,866.9 989.7,866.3 992.2,865.3 994.7,863.2 997.2,860.9 999.7,859.8 1002.2,856.5 1004.7,855.6 1007.2,853 1009.7,851.3 1012.2,849.5 1014.7,847.4 1017.2,846.2 1019.7,844.3 1022.2,843.1 1024.7,841.3 1027.2,840 1029.7,838.2 1032.2,835.9 1034.7,833.8 1037.2,832.6 1039.7,831.1 1042.2,828.6 1044.7,826.4 1047.2,824.3 1049.7,823 1052.2,821.4 1054.7,819.5 1057.2,816.2 1059.7,814.7 1062.2,812.2 1064.7,810.4 1067.2,808.1 1069.7,806.2 1072.2,803.8 1074.7,802 1077.2,799.1 1079.8,796.9 1082.3,794.9 1084.8,793.4 1087.3,791.1 1089.8,789.8 1092.3,788.1 1094.8,785.2 1097.3,783.7 1099.8,781.5 1102.3,779.6 1104.8,777.6 1107.3,776.4 1109.8,774 1112.3,771.9 1114.8,769.7 1117.3,767.6 1119.8,765.5 1122.3,762.2 1124.8,760 1127.3,758.3 1129.8,756.9 1132.3,755.9 1134.8,754.1 1137.3,753.2 1139.8,752.6 1142.3,751 1144.8,750 1147.3,748.6 1149.8,745.7 1152.3,744.4 1154.8,743.6 1157.3,741.4 1159.8,739.4 1162.3,738.1 1164.8,736.9 1167.3,735.2 1169.8,733.3 1172.3,732.8 1174.8,731.5 1177.3,729.2 1179.8,728.7 1182.3,727.1 1184.8,725.3 1187.3,723.2 1189.8,721.6 1192.3,721 1194.8,720 1197.3,719.9 1199.8,718.7 1202.3,718.3 1204.8,716.9 1207.3,716.7 1209.8,716.6 1212.3,715.4 1214.8,714.7 1217.3,715.2 1219.8,714.7 1222.3,713.8 1224.8,714 1227.3,713.9 1229.8,713.4 1232.3,712.4 1234.8,713 1237.3,712.5 1239.8,711.6 1242.3,712 1244.8,712.9 1247.3,713.3 1249.8,714.4 1252.3,714.5 1254.8,714.7 1257.3,716.1 1259.8,715.9 1262.3,717 1264.8,717.9 1267.3,719.6 1269.8,719.9 1272.3,720.8 1274.9,721.5 1277.4,722.6 1279.9,722.9 1282.4,724.5 1284.9,724.5 1287.4,725.7 1289.9,726.9 1292.4,728.6 1294.9,729.8 1297.4,731.2 1299.9,731.4 1302.4,733.8 1304.9,734.9 1307.4,736.5 1309.9,738.3 1312.4,739.3 1314.9,742.2 1317.4,743.9 1319.9,745 1322.4,747.1 1324.9,750.4 1327.4,752.5 1329.9,753.3 1332.4,756.4 1334.9,757.7 1337.4,759.3 1339.9,760.3 1342.4,762 1344.9,763.1 1347.4,765.6 1349.9,766.4 1352.4,768.5 1354.9,771.3 1357.4,773 1359.9,775.6 1362.4,777 1364.9,779.7 1367.4,781.6 1369.9,783.7 1372.4,786.2 1374.9,788.4 1377.4,790.2 1379.9,791.5 1382.4,793.6 1384.9,796.2 1387.4,797.9 1389.9,800.1 1392.4,802.6 1394.9,804.1 1397.4,805.1 1399.9,807.8 1402.4,810 1404.9,811.6 1407.4,814.1 1409.9,817.2 1412.4,818.7 1414.9,821.6 1417.4,823.6 1419.9,824.6 1422.4,826 1424.9,828.1 1427.4,829.7 1429.9,831.6 1432.4,832.8 1434.9,835.7 1437.4,837.3 1439.9,838.4 1442.4,839.8 1444.9,842.5 1447.4,844.4 1449.9,845.2 1452.4,846.9 1454.9,849.9 1457.4,851.1 1459.9,854.1 1462.4,856.5 1464.9,857.7 1467.4,860.3 1470,862.5 1472.5,864.5 1475,865.8 1477.5,867.5 1480,869.1 1482.5,871.3 1485,873.7 1487.5,876.3 1490,878.6 1492.5,880.5 1495,883 1497.5,884.7 1500,887.2 1502.5,888.9 1505,891.2 1507.5,893 1510,896.4 1512.5,897.6 1515,899.9 1517.5,900.8 1520,903 1522.5,904.8 1525,906.3 1527.5,906.7 1530,908 1532.5,909.7 1535,911.3 1537.5,912.7 1540,913.9 1542.5,916.4 1545,918.4 1547.5,919.6 1550,921.2 1552.5,923.1 1555,924.4 1557.5,925.9 1560,928.1 1562.5,930.2 1565,931.7 1567.5,932.3 1570,934.1 1572.5,934.2 1575,935.5 1577.5,935.9 1580,936.7 1582.5,936.9 1585,937.8 1587.5,939 1590,939.6 1592.5,941.1 1595,941.8 1597.5,941.9 1600,943.6 1602.5,944.2 1605,945.5 1607.5,945.9 1610,946.9 1612.5,946.7 1615,947.6 1617.5,947.9 1620,949.4 1622.5,952.4 1625,953.2 1627.5,954.5 1630,955.7 1632.5,955.1 1635,955.5 1637.5,956.1 1640,957.2 1642.5,957.5 1645,957.8 1647.5,959.1 1650,959.1 1652.5,959.9 1655,961.5 1657.5,962.1 1660,962.5 1662.5,962.4 1665.1,963.5 1667.6,964.8 1670.1,964.8 1672.6,965.8 1675.1,966.4 1677.6,967.1 1680.1,967.7 1682.6,969.1 1685.1,970.4 1687.6,970.8 1690.1,972.7 1692.6,973.4 1695.1,974.5 1697.6,974.8 1700.1,975.5 1702.6,975.5 1705.1,976 1707.6,977 1710.1,978.5 1712.6,978.8 1715.1,980.5 1717.6,982 1720.1,983.2 1722.6,984.6 1725.1,985.7 1727.6,987.3 1730.1,988.5 1732.6,989.8 1735.1,991.8 1737.6,993.3 1740.1,995 1742.6,996.2 1745.1,997.8 1747.6,999.8 1750.1,1000.3 1752.6,1001.3 1755.1,1002.7 1757.6,1003.3 1760.1,1005.9 1762.6,1007.3 1765.1,1010.7 1767.6,1012.3 1770.1,1015.5 1772.6,1017.7 1775.1,1020.9 1777.6,1022.7 1780.1,1025.1 1782.6,1027.6 1785.1,1028.5 1787.6,1029.2 1790.1,1030 1792.6,1032.1 1795.1,1033.7 1797.6,1035.7 1800.1,1036.7 1802.6,1039.3 1805.1,1040.9 1807.6,1044.1 1810.1,1046.2 1812.6,1048.2 1815.1,1049.2 1817.6,1052 1820.1,1054.3 1822.6,1056.8 1825.1,1058.4 1827.6,1060.5 1830.1,1062.6 1832.6,1065.8 1835.1,1068.1 1837.6,1070.2 1840.1,1071.9 1842.6,1074 1845.1,1076.9 1847.6,1078.7 1850.1,1080.9 1852.6,1083.9 1855.1,1085.9 1857.6,1087.3 1860.2,1089.7 1862.7,1091.7 1865.2,1092.5 1867.7,1094.3 1870.2,1096.5 1872.7,1097.7 1875.2,1099.6 1877.7,1100.5 1880.2,1101.9 1882.7,1103 1885.2,1104.6 1887.7,1106.5 1890.2,1107.5 1892.7,1109.4 1895.2,1110.2 1897.7,1111.3 1900.2,1112.8 1902.7,1112.8 1905.2,1113.6 1907.7,1114.7 1910.2,1117.2 1912.7,1118.7 1915.2,1121"/>
<polyline class="c" points="90,1121 95,1121 99.2,1120.7 101.8,1121.7 104.3,1121.5 106.8,1120.9 109.3,1120.7 111.8,1121.3 114.3,1121.3 116.8,1121.4 119.3,1120.8 121.8,1120.8 124.3,1121.2 126.8,1121.4 129.3,1120.2 131.8,1119 134.3,1119.4 136.8,1117.9 139.3,1117.3 141.8,1116.7 144.3,1116.9 146.8,1116 149.3,1117.2 151.8,1116.6 154.3,1116.7 156.8,1117 159.3,1117.1 161.8,1117.5 164.3,1117.6 166.8,1118.3 169.3,1118.2 171.8,1118.8 174.3,1117.6 176.8,1117.5 179.3,1118.6 181.8,1117.7 184.3,1118.4 186.8,1117.8 189.3,1117.4 191.8,1117.1 194.3,1118.2 196.8,1117.1 199.3,1118.3 201.8,1118.1 204.3,1118 206.8,1119.4 209.3,1119.7 211.8,1120 214.3,1121 216.8,1120.8 219.3,1121.7 221.8,1120.9 224.3,1121.4 226.8,1122.7 229.3,1122.4 231.8,1123.1 234.3,1122.8 236.8,1122.7 239.3,1122.9 241.8,1122.8 244.3,1123 246.8,1123.7 249.3,1122.7 251.8,1123.4 254.3,1122.6 256.8,1122.8 259.3,1122.6 261.8,1123.3 264.3,1122.1 266.8,1122.4 269.3,1122.2 271.8,1122 274.3,1121.9 276.8,1122 279.3,1121.2 281.8,1121.8 284.3,1120.7 286.8,1121.6 289.3,1120.5 291.8,1121 294.3,1120.6 296.9,1120.5 299.4,1120.6 301.9,1119.9 304.4,1119.9 306.9,1119.7 309.4,1119.7 311.9,1119.2 314.4,1119.1 316.9,1119.2 319.4,1119.9 321.9,1118.6 324.4,1118.7 326.9,1119.4 329.4,1118.6 331.9,1118.8 334.4,1119.5 336.9,1119 339.4,1119 341.9,1119 344.4,1119.9 346.9,1119.9 349.4,1119.5 351.9,1119.2 354.4,1119.8 356.9,1120 359.4,1120.1 361.9,1121 364.4,1121.5 366.9,1121.2 369.4,1120.5 371.9,1121 374.4,1120.4 376.9,1121 379.4,1120.6 381.9,1121 384.4,1120.4 386.9,1121.4 389.4,1120.5 391.9,1120.2 394.4,1120.3 396.9,1119.9 399.4,1120 401.9,1120.4 404.4,1119.8 406.9,1119.9 409.4,1119.6 411.9,1119.1 414.4,1119 416.9,1118.3 419.4,1118.9 421.9,1118.2 424.4,1118.3 426.9,1118 429.4,1117.2 431.9,1116.6 434.4,1116.9 436.9,1116.3 439.4,1115.7 441.9,1116.1 444.4,1116.1 446.9,1115.5 449.4,1115.3 451.9,1115.7 454.4,1115.1 456.9,1115.8 459.4,1116.3 461.9,1115.7 464.4,1116.1 466.9,1115.5 469.4,1115.6 471.9,1116.4 474.4,1115.9 476.9,1117.1 479.4,1117 481.9,1117.3 484.4,1116.2 486.9,1116.9 489.4,1116.4 492,1116.5 494.5,1117 497,1117.6 499.5,1117.1 502,1118.1 504.5,1118.4 507,1117.7 509.5,1119 512,1119.1 514.5,1119.1 517,1119.5 519.5,1119 522,1119.1 524.5,1118.7 527,1119.4 529.5,1118.6 532,1119.7 534.5,1118.8 537,1119.4 539.5,1119.6 542,1119.3 544.5,1119.1 547,1119.3 549.5,1119.3 552,1120.3 554.5,1120.2 557,1120.5 559.5,1120.1 562,1120.4 564.5,1120.6 567,1119.4 569.5,1119.9 572,1120.1 574.5,1119.9 577,1119.9 579.5,1120.2 582,1119.4 584.5,1120.5 587,1120.2 589.5,1119.6 592,1119.5 594.5,1119.8 597,1120 599.5,1119.8 602,1120.4 604.5,1120.6 607,1120.3 609.5,1119.6 612,1120.6 614.5,1119.8 617,1119.4 619.5,1120.5 622,1120.1 624.5,1120.1 627,1119.4 629.5,1120.1 632,1119.9 634.5,1120 637,1119.3 639.5,1120.1 642,1120.7 644.5,1119.9 647,1120.4 649.5,1120.5 652,1121.6 654.5,1121 657,1121.7 659.5,1120.3 662,1120.8 664.5,1120.8 667,1120.3 669.5,1120.7 672,1121 674.5,1120.7 677,1119.5 679.5,1119.2 682,1118.9 684.5,1119.4 687.1,1117.7 689.6,1117.1 692.1,1115.1 694.6,1114 697.1,1111.4 699.6,1107.1 702.1,1104.4 704.6,1100.9 707.1,1098.4 709.6,1093.8 712.1,1087.2 714.6,1080.3 717.1,1072.9 719.6,1065.8 722.1,1060.6 724.6,1054.1 727.1,1047.7 729.6,1042.1 732.1,1035.1 734.6,1030.9 737.1,1025.8 739.6,1020.2 742.1,1016.3 744.6,1012.4 747.1,1007.2 749.6,1003.3 752.1,1000.4 754.6,996.8 757.1,993.1 759.6,988.8 762.1,985 764.6,981.4 767.1,978 769.6,975.3 772.1,972.4 774.6,970.1 777.1,966.8 779.6,964.1 782.1,962 784.6,958.5 787.1,955.9 789.6,953.1 792.1,951 794.6,949.2 797.1,946.6 799.6,944.1 802.1,940.8 804.6,937.8 807.1,934.3 809.6,931.1 812.1,927.5 814.6,925.1 817.1,921.8 819.6,919.1 822.1,916.2 824.6,913.5 827.1,911 829.6,908.5 832.1,905.5 834.6,903.5 837.1,900.9 839.6,899.5 842.1,896.9 844.6,894.7 847.1,893.5 849.6,891.9 852.1,892.1 854.6,891.6 857.1,890.9 859.6,889.7 862.1,889.9 864.6,890.2 867.1,890.3 869.6,889.7 872.1,889.5 874.6,888.8 877.1,888.4 879.6,888 882.2,887.9 884.7,887 887.2,886.5 889.7,886.7 892.2,886.5 894.7,887 897.2,886.7 899.7,885.9 902.2,886.6 904.7,886.1 907.2,885.8 909.7,885.9 912.2,885.5 914.7,885.6 917.2,884.7 919.7,884.9 922.2,884.4 924.7,884.5 927.2,883.2 929.7,883.4 932.2,882.8 934.7,882.7 937.2,882 939.7,880.7 942.2,880.8 944.7,879.6 947.2,877.8 949.7,878.3 952.2,877.4 954.7,877 957.2,875.4 959.7,875.7 962.2,875.6 964.7,874.4 967.2,874.7 969.7,873.1 972.2,873.2 974.7,871.8 977.2,870.3 979.7,870.2 982.2,868.9 984.7,868.1 987.2,868 989.7,866.9 992.2,865.6 994.7,863.9 997.2,863 999.7,860.2 1002.2,858.1 1004.7,855.7 1007.2,853.4 1009.7,851.3 1012.2,851 1014.7,848.1 1017.2,846.4 1019.7,845.5 1022.2,843.3 1024.7,842.6 1027.2,839.9 1029.7,838.8 1032.2,836.2 1034.7,834.8 1037.2,833.5 1039.7,832 1042.2,829.5 1044.7,827.6 1047.2,825.7 1049.7,823.5 1052.2,822.7 1054.7,819.9 1057.2,817.4 1059.7,816.3 1062.2,813 1064.7,812 1067.2,809.8 1069.7,806.4 1072.2,804.9 1074.7,802.6 1077.2,799.8 1079.8,798.1 1082.3,796.7 1084.8,794.1 1087.3,791.7 1089.8,790.2 1092.3,788.2 1094.8,786.5 1097.3,784.1 1099.8,783.3 1102.3,780.5 1104.8,778.9 1107.3,777.5 1109.8,774.7 1112.3,772.4 1114.8,771.1 1117.3,768.1 1119.8,765.3 1122.3,762.9 1124.8,761.9 1127.3,759.1 1129.8,758.3 1132.3,756.9 1134.8,755.9 1137.3,755.1 1139.8,752.8 1142.3,751.5 1144.8,751.2 1147.3,748.9 1149.8,747.1 1152.3,746.3 1154.8,744.1 1157.3,743 1159.8,740.8 1162.3,738.7 1164.8,737.1 1167.3,736 1169.8,734.2 1172.3,733.7 1174.8,732.2 1177.3,730.9 1179.8,728.8 1182.3,727.1 1184.8,726.1 1187.3,724.8 1189.8,723.5 1192.3,722.4 1194.8,721.7 1197.3,720 1199.8,720.1 1202.3,719.2 1204.8,718.4 1207.3,717.7 1209.8,716.9 1212.3,716.7 1214.8,716.9 1217.3,715.8 1219.8,714.9 1222.3,715.9 1224.8,714.1 1227.3,714.3 1229.8,714 1232.3,713.7 1234.8,713.8 1237.3,713.2 1239.8,712.8 1242.3,713.6 1244.8,714 1247.3,714 1249.8,714.5 1252.3,715.1 1254.8,716.4 1257.3,717.2 1259.8,716.9 1262.3,718.2 1264.8,719.2 1267.3,720 1269.8,721.3 1272.3,721.4 1274.9,722.3 1277.4,722.8 1279.9,724.1 1282.4,725.1 1284.9,726.7 1287.4,726.8 1289.9,728.1 1292.4,729.8 1294.9,730.7 1297.4,731.2 1299.9,732.1 1302.4,734.6 1304.9,735.1 1307.4,737.9 1309.9,739 1312.4,741.6 1314.9,742.6 1317.4,744.4 1319.9,746.1 1322.4,748.5 1324.9,750.2 1327.4,752.6 1329.9,755.4 1332.4,757.4 1334.9,759.3 1337.4,760.3 1339.9,761.5 1342.4,763.1 1344.9,764 1347.4,765.9 1349.9,767.7 1352.4,770.1 1354.9,771.3 1357.4,773.6 1359.9,775.6 1362.4,778.5 1364.9,780.6 1367.4,782.6 1369.9,784.3 1372.4,786.9 1374.9,788.7 1377.4,790.4 1379.9,792.8 1382.4,794.7 1384.9,796.7 1387.4,799.5 1389.9,800.8 1392.4,803.4 1394.9,804.9 1397.4,807 1399.9,808.4 1402.4,811.3 1404.9,813.1 1407.4,814.6 1409.9,818.2 1412.4,819.6 1414.9,821.7 1417.4,823.9 1419.9,826 1422.4,828.2 1424.9,829.8 1427.4,830.9 1429.9,833.1 1432.4,835.1 1434.9,836.8 1437.4,838.2 1439.9,839.4 1442.4,842 1444.9,843.3 1447.4,844.7 1449.9,847.4 1452.4,849.1 1454.9,850.3 1457.4,852.9 1459.9,854.1 1462.4,856.7 1464.9,859.4 1467.4,861.7 1470,862.9 1472.5,865.4 1475,867.2 1477.5,868.8 1480,870.9 1482.5,873.2 1485,875.2 1487.5,876.4 1490,879.5 1492.5,880.9 1495,884.1 1497.5,885.8 1500,887.5 1502.5,890.7 1505,892.2 1507.5,894.8 1510,897.3 1512.5,898.3 1515,900.4 1517.5,902.8 1520,904.4 1522.5,905.7 1525,906.1 1527.5,907.8 1530,909.1 1532.5,910 1535,912 1537.5,913.5 1540,915.3 1542.5,917 1545,918.3 1547.5,920.4 1550,922.5 1552.5,923.9 1555,925.5 1557.5,927.5 1560,929.6 1562.5,930.6 1565,931.8 1567.5,934 1570,934.7 1572.5,935.4 1575,937.1 1577.5,937.5 1580,937.7 1582.5,938.1 1585,939.6 1587.5,939.8 1590,941.3 1592.5,941.8 1595,943.3 1597.5,943.4 1600,944.7 1602.5,944.6 1605,945.5 1607.5,947 1610,947.4 1612.5,948.4 1615,948.4 1617.5,948.9 1620,950 1622.5,952.7 1625,954.5 1627.5,955.7 1630,956.8 1632.5,956.9 1635,957.4 1637.5,958.1 1640,958.6 1642.5,958.8 1645,958.8 1647.5,960.5 1650,960.2 1652.5,961.2 1655,961.8 1657.5,962.8 1660,963.2 1662.5,963.5 1665.1,964.4 1667.6,964.6 1670.1,965.4 1672.6,966.9 1675.1,967.1 1677.6,967.3 1680.1,969.2 1682.6,970.5 1685.1,971 1687.6,971.6 1690.1,973.8 1692.6,973.5 1695.1,974.8 1697.6,975.7 1700.1,975.9 1702.6,976.9 1705.1,977.3 1707.6,979.2 1710.1,979.5 1712.6,980.9 1715.1,981.3 1717.6,982 1720.1,983.6 1722.6,985.8 1725.1,986.6 1727.6,987.2 1730.1,990.1 1732.6,990.7 1735.1,993.5 1737.6,995.1 1740.1,996.3 1742.6,997.4 1745.1,999.7 1747.6,1000.1 1750.1,1001.6 1752.6,1002.7 1755.1,1004 1757.6,1004.2 1760.1,1006.9 1762.6,1008.2 1765.1,1011.6 1767.6,1013.7 1770.1,1015.8 1772.6,1019.3 1775.1,1022.2 1777.6,1023.8 1780.1,1026.7 1782.6,1028.3 1785.1,1029.1 1787.6,1030.7 1790.1,1031.5 1792.6,1032.1 1795.1,1034 1797.6,1036.5 1800.1,1037.7 1802.6,1039.8 1805.1,1042.3 1807.6,1044.7 1810.1,1047.3 1812.6,1048.5 1815.1,1050.8 1817.6,1053.2 1820.1,1055.7 1822.6,1057.9 1825.1,1059.7 1827.6,1062.1 1830.1,1063.6 1832.6,1065.7 1835.1,1068 1837.6,1071.2 1840.1,1072.8 1842.6,1076.2 1845.1,1078.4 1847.6,1079.9 1850.1,1082.4 1852.6,1084 1855.1,1086.1 1857.6,1088.3 1860.2,1090.2 1862.7,1091.8 1865.2,1094.1 1867.7,1096.1 1870.2,1097.2 1872.7,1098.4 1875.2,1100.4 1877.7,1101.4 1880.2,1102.6 1882.7,1104.2 1885.2,1106.2 1887.7,1107.5 1890.2,1109 1892.7,1109.7 1895.2,1111.2 1897.7,1112.7 1900.2,1112.9 1902.7,1114.1 1905.2,1115.5 1907.7,1116.6 1910.2,1117.9 1912.7,1119.7 1915.2,1122"/>
<circle cx="1915.2" cy="1121.5" r="6.3" stroke="none" style="shape-rendering:crispEdges"/>
</g>
<g stroke="#008000" fill="#008000">
<polyline class="c" points="90,967.6 95,967.6 99.2,967 101.8,967.2 104.3,967.6 106.8,966.9 109.3,967.4 111.8,967.3 114.3,966.3 116.8,967.4 119.3,966.5 121.8,967.4 124.3,967.3 126.8,966.6 129.3,967 131.8,966.1 134.3,966.5 136.8,966.9 139.3,966.1 141.8,966.4 144.3,966.2 146.8,967.4 149.3,967.4 151.8,967.4 154.3,966.9 156.8,968 159.3,967.6 161.8,966.9 164.3,967.2 166.8,967.4 169.3,968.2 171.8,967.6 174.3,967.1 176.8,966.9 179.3,966.6 181.8,967.4 184.3,967 186.8,966.3 189.3,966.1 191.8,966 194.3,966 196.8,966 199.3,965.3 201.8,965 204.3,965.3 206.8,964.2 209.3,964.4 211.8,964.4 214.3,964.5 216.8,964.7 219.3,964.9 221.8,964.2 224.3,965.2 226.8,965.7 229.3,965.8 231.8,967.5 234.3,967.3 236.8,968.4 239.3,968.4 241.8,968.2 244.3,968 246.8,969 249.3,968.8 251.8,969.4 254.3,968.3 256.8,968.8 259.3,968.4 261.8,968.5 264.3,968.7 266.8,968.8 269.3,969.4 271.8,968.9 274.3,969.8 276.8,969.1 279.4,968.4 281.9,968.3 284.4,967.9 286.9,967.7 289.4,968.1 291.9,968.7 294.4,967.3 296.9,968 299.4,968.3 301.9,968 304.4,968.2 306.9,967.4 309.4,967.2 311.9,968 314.4,967.2 316.9,968.2 319.4,968.3 321.9,968 324.4,967.2 326.9,968.2 329.4,967.7 331.9,967.5 334.4,967.2 336.9,967.7 339.4,967 341.9,968.2 344.4,967.7 346.9,968 349.4,967.9 351.9,967.7 354.4,968.5 356.9,968.9 359.4,968.7 361.9,968.4 364.4,969.2 366.9,968.6 369.4,969.9 371.9,969.5 374.4,968.8 376.9,969.3 379.4,968.6 381.9,968.4 384.4,968.7 386.9,968.2 389.4,969 391.9,968.6 394.4,968.5 396.9,968.1 399.4,968 401.9,967.4 404.4,967.3 406.9,967 409.4,967.3 411.9,967 414.4,967.9 416.9,966.6 419.4,966.6 421.9,967.4 424.4,967.5 426.9,966.8 429.4,967.5 431.9,966.5 434.4,966.4 436.9,966.4 439.4,966 441.9,965.7 444.4,965.8 446.9,964.4 449.4,964.4 451.9,964.4 454.4,964 456.9,964.3 459.5,964.1 462,964 464.5,964.2 467,964.8 469.5,964.9 472,965 474.5,965.4 477,966.6 479.5,966.1 482,966.9 484.5,965.8 487,966.1 489.5,967.3 492,966 494.5,966.5 497,966.1 499.5,966.5 502,966 504.5,967.1 507,966.3 509.5,967.1 512,966.4 514.5,967.2 517,966.8 519.5,966.8 522,966.8 524.5,966.7 527,966.6 529.5,965.9 532,966.6 534.5,966.7 537,966.7 539.5,966.5 542,967.1 544.5,966 547,966.4 549.5,966 552,966.2 554.5,965.5 557,966.4 559.5,966.1 562,966 564.5,965.9 567,964.8 569.5,966 572,965 574.5,965.3 577,965.3 579.5,965 582,963.9 584.5,964.7 587,964.4 589.5,963.8 592,964.4 594.5,963 597,962.8 599.5,964 602,963.7 604.5,963.4 607,963.1 609.5,962.5 612,963.8 614.5,963.1 617,962.9 619.5,963.5 622,963.2 624.5,962.7 627,963.2 629.5,963.7 632,963.7 634.5,962.8 637.1,963 639.6,962.7 642.1,962.1 644.6,961.7 647.1,959.8 649.6,958 652.1,955.9 654.6,954.8 657.1,954.9 659.6,952.6 662.1,950.7 664.6,947.8 667.1,944.1 669.6,938.8 672.1,927.6 674.6,916.2 677.1,902.1 679.6,885.9 682.1,869.3 684.6,852.4 687.1,835.9 689.6,819.1 692.1,801.6 694.6,785.6 697.1,770.1 699.6,757.2 702.1,744.7 704.6,733.9 707.1,724 709.6,716.1 712.1,707.5 714.6,701.8 717.1,695.6 719.6,691.7 722.1,688.4 724.6,686.5 727.1,684.4 729.6,681.9 732.1,681.3 734.6,680.4 737.1,680.1 739.6,681.3 742.1,682.1 744.6,683.1 747.1,685.6 749.6,689 752.1,690.9 754.6,694 757.1,698.4 759.6,701.7 762.1,708 764.6,714.3 767.1,721.9 769.6,726.5 772.1,732.5 774.6,736.3 777.1,742.1 779.6,746 782.1,750.5 784.6,754.4 787.1,759.3 789.6,763 792.1,765.8 794.6,768.7 797.1,773.2 799.6,776 802.1,778.3 804.6,781.7 807.1,783.9 809.6,786.5 812.1,788.3 814.6,790 817.2,792.3 819.7,792.9 822.2,795 824.7,795.9 827.2,796.4 829.7,796.3 832.2,796.1 834.7,795.2 837.2,795.3 839.7,794.1 842.2,792.3 844.7,791.4 847.2,789.3 849.7,787.5 852.2,785.7 854.7,784.3 857.2,781.1 859.7,779 862.2,777.8 864.7,775.3 867.2,773 869.7,769.9 872.2,768 874.7,765.1 877.2,762.4 879.7,760.3 882.2,757.9 884.7,755.6 887.2,753.3 889.7,751.7 892.2,750.3 894.7,748.3 897.2,747.2 899.7,745.4 902.2,745.1 904.7,743.5 907.2,742.4 909.7,741.4 912.2,739.9 914.7,738 917.2,737.7 919.7,735.5 922.2,734.4 924.7,733.1 927.2,732.1 929.7,731.2 932.2,730 934.7,728.7 937.2,727 939.7,726.2 942.2,725.2 944.7,724.3 947.2,723.7 949.7,722.8 952.2,721.5 954.7,720.2 957.2,718.3 959.7,717.2 962.2,716.7 964.7,714.8 967.2,714.3 969.7,713.1 972.2,710.7 974.7,709.2 977.2,708 979.7,705.5 982.2,703.6 984.7,702.6 987.2,700.2 989.7,697.6 992.2,696.4 994.8,695 997.3,692.6 999.8,691 1002.3,690.5 1004.8,687.8 1007.3,686.8 1009.8,683.8 1012.3,682.6 1014.8,680.4 1017.3,677.2 1019.8,674.3 1022.3,672.5 1024.8,669.4 1027.3,666.7 1029.8,665.3 1032.3,661.6 1034.8,660.3 1037.3,657 1039.8,655.1 1042.3,652.3 1044.8,649.2 1047.3,647.7 1049.8,644.7 1052.3,641.6 1054.8,638.6 1057.3,635.9 1059.8,632.7 1062.3,629.3 1064.8,625.4 1067.3,623.2 1069.8,620 1072.3,616.6 1074.8,612.7 1077.3,610.5 1079.8,607.1 1082.3,603.6 1084.8,601.3 1087.3,597.6 1089.8,593.7 1092.3,588.8 1094.8,584.9 1097.3,581.5 1099.8,576.7 1102.3,573.4 1104.8,570.1 1107.3,565.6 1109.8,562.6 1112.3,558.8 1114.8,555.9 1117.3,551.4 1119.8,547.9 1122.3,543.6 1124.8,539.2 1127.3,535.4 1129.8,531.7 1132.3,527.4 1134.8,524.2 1137.3,519.7 1139.8,516.8 1142.3,514 1144.8,509.5 1147.3,506.5 1149.8,503 1152.3,500.7 1154.8,496.5 1157.3,493.1 1159.8,490.3 1162.3,487 1164.8,483.5 1167.3,480.8 1169.8,477.9 1172.4,474.7 1174.9,471.2 1177.4,468.8 1179.9,465.9 1182.4,463.8 1184.9,461.1 1187.4,457.1 1189.9,455.1 1192.4,451.5 1194.9,447.8 1197.4,444.6 1199.9,442.2 1202.4,439.5 1204.9,437.1 1207.4,434.2 1209.9,430.8 1212.4,428.2 1214.9,426.6 1217.4,424 1219.9,421.9 1222.4,421.1 1224.9,419.6 1227.4,417.8 1229.9,416.3 1232.4,415.9 1234.9,414.1 1237.4,412.9 1239.9,410.1 1242.4,408.1 1244.9,405.8 1247.4,404.7 1249.9,403.9 1252.4,402.6 1254.9,401.7 1257.4,400.8 1259.9,400.6 1262.4,401.2 1264.9,401.4 1267.4,401.9 1269.9,402.7 1272.4,403.3 1274.9,403 1277.4,404.2 1279.9,404.7 1282.4,405.1 1284.9,405.8 1287.4,406.4 1289.9,405.6 1292.4,406.4 1294.9,407.4 1297.4,406.9 1299.9,408 1302.4,408.3 1304.9,407.5 1307.4,408.6 1309.9,407.6 1312.4,408.4 1314.9,409 1317.4,408.1 1319.9,409.4 1322.4,409.1 1324.9,410.7 1327.4,411.4 1329.9,413.6 1332.4,415.2 1334.9,416.8 1337.4,419.3 1339.9,420.9 1342.4,422.5 1344.9,423.9 1347.4,425.2 1349.9,427.3 1352.5,429.4 1355,432.6 1357.5,434.7 1360,437.6 1362.5,438.8 1365,440.6 1367.5,441.3 1370,442.5 1372.5,442.4 1375,443.7 1377.5,445.4 1380,446.7 1382.5,447.4 1385,449 1387.5,450.3 1390,452.1 1392.5,453.5 1395,455.3 1397.5,458.2 1400,461.9 1402.5,465.1 1405,467.4 1407.5,470.6 1410,473.7 1412.5,476.7 1415,479.7 1417.5,481.8 1420,484.6 1422.5,488 1425,490.2 1427.5,493.5 1430,496 1432.5,499.1 1435,502.8 1437.5,505.8 1440,509.8 1442.5,511.8 1445,514.9 1447.5,518.8 1450,520.7 1452.5,523.6 1455,527 1457.5,530.1 1460,532.3 1462.5,536.4 1465,538.4 1467.5,542.1 1470,545.7 1472.5,548.4 1475,552.2 1477.5,555.9 1480,558.8 1482.5,560.9 1485,565 1487.5,567.6 1490,570.7 1492.5,573.6 1495,577.5 1497.5,581.2 1500,585.6 1502.5,589.4 1505,592.7 1507.5,597.6 1510,601.2 1512.5,604 1515,608.9 1517.5,611.9 1520,615.4 1522.5,618.3 1525,622.2 1527.5,625 1530.1,626.7 1532.6,628.6 1535.1,629.8 1537.6,631.4 1540.1,633.6 1542.6,635.1 1545.1,637.1 1547.6,638.7 1550.1,640.8 1552.6,643.1 1555.1,646.2 1557.6,647.9 1560.1,650.2 1562.6,653.6 1565.1,655.6 1567.6,656.9 1570.1,660.3 1572.6,661 1575.1,663.8 1577.6,665.2 1580.1,666.9 1582.6,669.1 1585.1,670.3 1587.6,673.4 1590.1,674.1 1592.6,676.7 1595.1,678.4 1597.6,680.2 1600.1,682.5 1602.6,683.4 1605.1,685.5 1607.6,687.3 1610.1,688.5 1612.6,689.8 1615.1,692.3 1617.6,693.1 1620.1,693.8 1622.6,695.3 1625.1,696.9 1627.6,698.5 1630.1,699.5 1632.6,700.5 1635.1,701.1 1637.6,702.4 1640.1,704.9 1642.6,705.7 1645.1,707 1647.6,708.2 1650.1,710.5 1652.6,712.6 1655.1,714 1657.6,715.3 1660.1,715.9 1662.6,717 1665.1,717.1 1667.6,717.5 1670.1,718.5 1672.6,719.6 1675.1,720.2 1677.6,721.3 1680.1,721.5 1682.6,723.2 1685.1,724.3 1687.6,724.4 1690.1,726.1 1692.6,726.2 1695.1,726.6 1697.6,727.8 1700.1,727.4 1702.6,728.8 1705.1,729.4 1707.6,730 1710.2,730.8 1712.7,731.1 1715.2,731.7 1717.7,733.6 1720.2,733.9 1722.7,734.3 1725.2,736.3 1727.7,737.3 1730.2,738 1732.7,740.6 1735.2,741.7 1737.7,744.4 1740.2,746.5 1742.7,747.9 1745.2,749.2 1747.7,751.9 1750.2,754.2 1752.7,756.8 1755.2,759 1757.7,759.9 1760.2,762.6 1762.7,764.6 1765.2,766.8 1767.7,769.7 1770.2,771.9 1772.7,775.1 1775.2,777.6 1777.7,779.6 1780.2,781.8 1782.7,784.3 1785.2,786.1 1787.7,789.1 1790.2,790.7 1792.7,794.4 1795.2,796.7 1797.7,800.3 1800.2,804.2 1802.7,807.6 1805.2,812.7 1807.7,816.1 1810.2,820.1 1812.7,823.3 1815.2,826.6 1817.7,830.3 1820.2,833.3 1822.7,836.7 1825.2,840.3 1827.7,844.1 1830.2,848.5 1832.7,851.6 1835.2,855.8 1837.7,859 1840.2,862.3 1842.7,866 1845.2,870.2 1847.7,873.4 1850.2,875.8 1852.7,879.9 1855.2,882.3 1857.7,886.3 1860.2,889.3 1862.7,893.3 1865.2,897 1867.7,900.5 1870.2,904 1872.7,908.8 1875.2,911.6 1877.7,914.6 1880.2,918.4 1882.7,920.6 1885.2,924.7 1887.8,927.2 1890.3,929.8 1892.8,932.4 1895.3,934.3 1897.8,937.9 1900.3,940.2 1902.8,941.5 1905.3,944.6 1907.8,946.2 1910.3,948.4 1912.8,950 1915.3,951.5 1917.8,953.5 1920.3,954.9 1922.8,956.2 1925.3,957.7 1930,958.3 1935,958.3"/>
<polyline class="c" points="90,968.6 95,968.6 99.2,968.2 101.8,968.4 104.3,968.3 106.8,968.8 109.3,967.7 111.8,967.6 114.3,967.6 116.8,967.3 119.3,967.8 121.8,967.7 124.3,967.5 126.8,966.9 129.3,967.4 131.8,967.3 134.3,967.2 136.8,968.1 139.3,967.2 141.8,967.6 144.3,968.1 146.8,968.4 149.3,968 151.8,967.5 154.3,968.1 156.8,969 159.3,968.3 161.8,968.9 164.3,968.9 166.8,968.5 169.3,968.4 171.8,969.2 174.3,967.8 176.8,968.2 179.3,968.2 181.8,967.4 184.3,967.3 186.8,967.3 189.3,967.4 191.8,967.7 194.3,966.9 196.8,966.3 199.3,965.9 201.8,966.2 204.3,966.3 206.8,965.3 209.3,965.1 211.8,964.8 214.3,965.9 216.8,965.3 219.3,965.5 221.8,965.2 224.3,966.5 226.8,966.9 229.3,967.8 231.8,968.3 234.3,968.8 236.8,969.3 239.3,969.2 241.8,969.3 244.3,969.5 246.8,969.9 249.3,969.8 251.8,969.3 254.3,969.9 256.8,969.7 259.3,969.5 261.8,970.1 264.3,970.6 266.8,969.7 269.3,970.5 271.8,969.9 274.3,970.6 276.8,969.4 279.4,969.2 281.9,969.6 284.4,969.3 286.9,970 289.4,969.8 291.9,969.2 294.4,969.1 296.9,968.3 299.4,969.2 301.9,969.2 304.4,968.4 306.9,968.6 309.4,968.7 311.9,969 314.4,968.7 316.9,968.2 319.4,968.6 321.9,968.9 324.4,968.2 326.9,969.1 329.4,968 331.9,968.8 334.4,968.5 336.9,968.8 339.4,968 341.9,969.3 344.4,968.1 346.9,968.6 349.4,969.1 351.9,968.9 354.4,969.7 356.9,970.3 359.4,969.8 361.9,969.5 364.4,970.6 366.9,970.8 369.4,970.5 371.9,969.8 374.4,970.6 376.9,970.7 379.4,969.8 381.9,970.1 384.4,969.8 386.9,969.6 389.4,968.8 391.9,969 394.4,969.2 396.9,969.1 399.4,968.1 401.9,968.5 404.4,968.3 406.9,969 409.4,968.3 411.9,968.5 414.4,968.8 416.9,968.7 419.4,968.1 421.9,967.8 424.4,968.7 426.9,967.7 429.4,967.8 431.9,967.3 434.4,967.4 436.9,968.1 439.4,967.2 441.9,967.2 444.4,966.9 446.9,966.3 449.4,965.3 451.9,965.4 454.4,965.4 456.9,965.1 459.5,965.2 462,965.9 464.5,966 467,966.4 469.5,965.9 472,965.9 474.5,966.2 477,966.9 479.5,967.1 482,966.8 484.5,967.9 487,967.7 489.5,967.2 492,968 494.5,968 497,967.4 499.5,967.9 502,967.6 504.5,967.4 507,968.3 509.5,967.8 512,967.1 514.5,967 517,967 519.5,967.6 522,967.6 524.5,967.5 527,966.9 529.5,967.6 532,967.2 534.5,967.5 537,967.8 539.5,967.6 542,967.1 544.5,968.1 547,967.9 549.5,967.6 552,966.9 554.5,966.9 557,967.1 559.5,966.8 562,966.9 564.5,966.7 567,966.9 569.5,965.9 572,966.4 574.5,966.2 577,965.6 579.5,965.3 582,965.2 584.5,965.4 587,965.8 589.5,965.3 592,964.6 594.5,965.2 597,964.3 599.5,964.7 602,963.8 604.5,964 607,964.3 609.5,964.3 612,964.4 614.5,964.7 617,963.6 619.5,964.7 622,963.5 624.5,964.2 627,964.7 629.5,963.9 632,963.8 634.5,964.7 637.1,963.6 639.6,964 642.1,963.3 644.6,961.9 647.1,960 649.6,958.3 652.1,957.5 654.6,955.8 657.1,955.6 659.6,953.1 662.1,952.5 664.6,948.6 667.1,946 669.6,940 672.1,930 674.6,917.1 677.1,903.6 679.6,886.1 682.1,869 684.6,853.6 687.1,835.6 689.6,819.4 692.1,803.3 694.6,786.5 697.1,770.3 699.6,759.1 702.1,745.2 704.6,734.4 707.1,724.6 709.6,716.4 712.1,709.2 714.6,703.2 717.1,697 719.6,693.5 722.1,690.2 724.6,687.9 727.1,685.8 729.6,683.2 732.1,682.1 734.6,680.9 737.1,681.9 739.6,682.3 742.1,682.8 744.6,684.5 747.1,686.8 749.6,689.2 752.1,692.9 754.6,695.4 757.1,699.5 759.6,702.8 762.1,708.6 764.6,715.8 767.1,722.9 769.6,727.6 772.1,732.8 774.6,738 777.1,742.5 779.6,746.5 782.1,751.9 784.6,755 787.1,759.1 789.6,762.7 792.1,767.6 794.6,770.7 797.1,773.4 799.6,776 802.1,779.5 804.6,782.3 807.1,784.4 809.6,787.2 812.1,788.7 814.6,791.5 817.2,792.8 819.7,794.9 822.2,794.9 824.7,796.7 827.2,797.4 829.7,796.8 832.2,796.7 834.7,796.2 837.2,795.2 839.7,794.6 842.2,793.4 844.7,792.7 847.2,791.1 849.7,788.5 852.2,787 854.7,784.4 857.2,781.9 859.7,780.4 862.2,778 864.7,775.4 867.2,772.9 869.7,770.5 872.2,768.1 874.7,765.7 877.2,764.6 879.7,762 882.2,759.4 884.7,757.3 887.2,755.2 889.7,753.3 892.2,750.8 894.7,749.6 897.2,747.5 899.7,746.1 902.2,744.9 904.7,743.7 907.2,742.5 909.7,741.8 912.2,741.1 914.7,739 917.2,738.5 919.7,736.7 922.2,736 924.7,735 927.2,733.7 929.7,732.7 932.2,731 934.7,729.3 937.2,729.2 939.7,727.1 942.2,726 944.7,725.8 947.2,724 949.7,722.8 952.2,722.4 954.7,721 957.2,719.7 959.7,719.2 962.2,717.6 964.7,716 967.2,714.6 969.7,713.6 972.2,712.1 974.7,710.1 977.2,708.9 979.7,707.3 982.2,704.5 984.7,703.2 987.2,701.5 989.7,699.3 992.2,696.9 994.8,695.3 997.3,693.9 999.8,691.9 1002.3,691.5 1004.8,689.1 1007.3,686.9 1009.8,685.9 1012.3,682.9 1014.8,680.6 1017.3,678.9 1019.8,675.7 1022.3,673.6 1024.8,671.2 1027.3,668.1 1029.8,666.2 1032.3,663.5 1034.8,660.3 1037.3,658 1039.8,656.3 1042.3,653.7 1044.8,650.7 1047.3,648 1049.8,645.4 1052.3,642.4 1054.8,639.8 1057.3,636.6 1059.8,633.9 1062.3,630.3 1064.8,626.2 1067.3,623.1 1069.8,620.1 1072.3,616.8 1074.8,614.6 1077.3,611.4 1079.8,608.4 1082.3,605.4 1084.8,601.4 1087.3,597.9 1089.8,594.8 1092.3,590.1 1094.8,585.9 1097.3,582.7 1099.8,578.1 1102.3,575.1 1104.8,570.5 1107.3,566.7 1109.8,564.2 1112.3,560.6 1114.8,555.9 1117.3,553.2 1119.8,549 1122.3,545 1124.8,541.5 1127.3,536.2 1129.8,532 1132.3,528.6 1134.8,525.5 1137.3,521.3 1139.8,517.5 1142.3,514.7 1144.8,510.6 1147.3,508.2 1149.8,504.8 1152.3,500.8 1154.8,497.9 1157.3,495.2 1159.8,491.7 1162.3,487.4 1164.8,485.3 1167.3,482.2 1169.8,478.7 1172.4,475.8 1174.9,472.7 1177.4,470.6 1179.9,467.8 1182.4,464.1 1184.9,461.1 1187.4,458 1189.9,454.7 1192.4,452.4 1194.9,448.8 1197.4,446.1 1199.9,443.5 1202.4,441.2 1204.9,438 1207.4,434.8 1209.9,432 1212.4,429.1 1214.9,426.7 1217.4,425 1219.9,423.4 1222.4,422.3 1224.9,420.4 1227.4,419.2 1229.9,418.5 1232.4,416 1234.9,414.7 1237.4,412.9 1239.9,410.9 1242.4,408.8 1244.9,406.5 1247.4,405 1249.9,404.5 1252.4,403.7 1254.9,402 1257.4,402.5 1259.9,402.3 1262.4,402.5 1264.9,401.4 1267.4,402.9 1269.9,403 1272.4,403.5 1274.9,404 1277.4,405.3 1279.9,406 1282.4,405.2 1284.9,406.4 1287.4,406.9 1289.9,407.3 1292.4,407.2 1294.9,408.2 1297.4,408.5 1299.9,408.6 1302.4,409.4 1304.9,409.5 1307.4,408.8 1309.9,408.7 1312.4,409.8 1314.9,409 1317.4,410.1 1319.9,409.6 1322.4,410 1324.9,411.2 1327.4,411.8 1329.9,414.4 1332.4,416.2 1334.9,417.7 1337.4,419.5 1339.9,421.8 1342.4,423.4 1344.9,424.3 1347.4,427 1349.9,428.8 1352.5,430.2 1355,433.8 1357.5,435.9 1360,438.6 1362.5,440.4 1365,440.5 1367.5,442.2 1370,442.6 1372.5,444.2 1375,445.4 1377.5,445.9 1380,447.2 1382.5,448.3 1385,450.5 1387.5,451.8 1390,452.2 1392.5,454.1 1395,457.2 1397.5,459.9 1400,463.1 1402.5,465.4 1405,468.7 1407.5,472.4 1410,474.8 1412.5,477.3 1415,480.5 1417.5,483.2 1420,485.8 1422.5,488.2 1425,491.7 1427.5,493.8 1430,497.3 1432.5,501.4 1435,504.6 1437.5,506.7 1440,510.5 1442.5,513.6 1445,516.9 1447.5,519.1 1450,521.9 1452.5,524.8 1455,528.2 1457.5,530.1 1460,533.6 1462.5,536.5 1465,540.2 1467.5,542.6 1470,546.1 1472.5,550.2 1475,552.8 1477.5,555.7 1480,559.7 1482.5,562.2 1485,565.4 1487.5,568.8 1490,571.8 1492.5,574.6 1495,578 1497.5,582.6 1500,586.7 1502.5,590.8 1505,593.6 1507.5,597.9 1510,602.6 1512.5,605 1515,609.3 1517.5,613.5 1520,616.7 1522.5,620.1 1525,622.9 1527.5,625.8 1530.1,627.5 1532.6,630.3 1535.1,631.7 1537.6,633.3 1540.1,634.2 1542.6,636.5 1545.1,638.3 1547.6,639.9 1550.1,642.6 1552.6,643.7 1555.1,647.1 1557.6,649.6 1560.1,651.5 1562.6,654.6 1565.1,656.9 1567.6,659.1 1570.1,660.4 1572.6,662.1 1575.1,664.4 1577.6,666.1 1580.1,668.8 1582.6,669.6 1585.1,671.9 1587.6,673 1590.1,675.1 1592.6,678.1 1595.1,680 1597.6,681.2 1600.1,683.9 1602.6,685.2 1605.1,686.8 1607.6,688.1 1610.1,689.8 1612.6,690.7 1615.1,693 1617.6,693.6 1620.1,695.1 1622.6,696.6 1625.1,698.8 1627.6,699.7 1630.1,701.2 1632.6,702.2 1635.1,702.5 1637.6,704 1640.1,705.5 1642.6,707.1 1645.1,708.6 1647.6,709.9 1650.1,711.5 1652.6,713.6 1655.1,714.9 1657.6,715.8 1660.1,717.4 1662.6,717.7 1665.1,717.9 1667.6,719.2 1670.1,719.3 1672.6,720.3 1675.1,721.7 1677.6,721.6 1680.1,723.1 1682.6,723.8 1685.1,725.2 1687.6,725.7 1690.1,726.3 1692.6,726.9 1695.1,728.2 1697.6,728.5 1700.1,728.8 1702.6,730.1 1705.1,730.5 1707.6,731 1710.2,731 1712.7,732.8 1715.2,733.7 1717.7,733.8 1720.2,734.6 1722.7,736.2 1725.2,736.5 1727.7,737.6 1730.2,740.1 1732.7,741.4 1735.2,743.6 1737.7,745.4 1740.2,747.1 1742.7,749.4 1745.2,750.8 1747.7,753.1 1750.2,755 1752.7,756.8 1755.2,758.7 1757.7,761.8 1760.2,763.6 1762.7,766.3 1765.2,767.9 1767.7,770.4 1770.2,773 1772.7,775.2 1775.2,778.1 1777.7,781.1 1780.2,782.9 1782.7,785.4 1785.2,787.4 1787.7,789.6 1790.2,792.3 1792.7,794.2 1795.2,797.2 1797.7,801 1800.2,805.5 1802.7,809.7 1805.2,813.5 1807.7,817 1810.2,821.2 1812.7,824.8 1815.2,827.6 1817.7,830.8 1820.2,835.1 1822.7,838.2 1825.2,841.7 1827.7,845.5 1830.2,848.6 1832.7,852.3 1835.2,856.9 1837.7,860.2 1840.2,863.5 1842.7,867.5 1845.2,870.4 1847.7,873.7 1850.2,877.9 1852.7,880.7 1855.2,883.9 1857.7,887.5 1860.2,891.4 1862.7,894.9 1865.2,897.8 1867.7,901.3 1870.2,906.2 1872.7,909.6 1875.2,912.3 1877.7,916.3 1880.2,919.4 1882.7,922.5 1885.2,924.6 1887.8,928.4 1890.3,931.3 1892.8,933.7 1895.3,936.1 1897.8,938.8 1900.3,941.3 1902.8,942.6 1905.3,945.1 1907.8,947.1 1910.3,948.8 1912.8,951.5 1915.3,952.4 1917.8,954.4 1920.3,956.1 1922.8,957.9 1925.3,959.7 1930,959.3 1935,959.3"/>
</g>
<g stroke="#008080" fill="#008080">
<polyline class="c" points="90,687.6 95,687.6 99.2,687.6 101.8,688.7 104.3,688.4 106.8,690.1 109.3,690 111.8,690.2 114.3,689.8 116.8,689.7 119.3,689.1 121.8,688.2 124.3,687.7 126.8,686.8 129.3,685.9 131.8,684.6 134.3,685.1 136.8,684.9 139.3,684.8 141.8,685.2 144.3,685 146.8,685.8 149.3,685.7 151.8,685.8 154.3,686.3 156.8,686.7 159.3,687.3 161.8,687.4 164.3,688 166.8,687.4 169.3,687.3 171.8,685.7 174.3,684.7 176.8,682.4 179.3,680.5 181.8,678.8 184.3,679.6 186.8,678.8 189.3,678.2 191.8,678.8 194.3,677.8 196.8,677.9 199.3,678.9 201.8,677.9 204.4,678.4 206.9,678.6 209.4,677.8 211.9,678.1 214.4,677.5 216.9,678.6 219.4,678.5 221.9,678.8 224.4,677.9 226.9,677.5 229.4,678.4 231.9,678 234.4,678 236.9,677.9 239.4,678.4 241.9,678.1 244.4,678.5 246.9,678.7 249.4,678 251.9,678 254.4,678.8 256.9,678.1 259.4,679 261.9,680.2 264.4,681.8 266.9,681.6 269.4,681.9 271.9,681.7 274.4,682.8 276.9,682.3 279.4,680.8 281.9,680.6 284.4,680.5 286.9,679.6 289.4,679.8 291.9,679.8 294.4,680.6 296.9,680.3 299.4,680.7 301.9,679.9 304.4,680.6 306.9,680.4 309.5,680.4 312,680.8 314.5,680.9 317,680.7 319.5,681.2 322,680.1 324.5,681.5 327,680.8 329.5,681.2 332,682.5 334.5,681.9 337,683.7 339.5,683.2 342,683.9 344.5,684.4 347,684.6 349.5,684.2 352,684.5 354.5,684.4 357,684.8 359.5,684.4 362,685.6 364.5,684.8 367,684.5 369.5,684.3 372,685.2 374.5,685 377,684.8 379.5,684.5 382,685.2 384.5,684.7 387,684.7 389.5,684.4 392,684.4 394.5,682.7 397,681.9 399.5,680.1 402,678.9 404.5,678 407,677.5 409.5,675.7 412.1,676.1 414.6,674.2 417.1,674.6 419.6,672.7 422.1,672.7 424.6,671.8 427.1,671.4 429.6,671 432.1,671.1 434.6,671.2 437.1,670.1 439.6,671 442.1,671.3 444.6,671.8 447.1,672.1 449.6,674.2 452.1,676.1 454.6,677 457.1,678.8 459.6,680.9 462.1,682.6 464.6,683.9 467.1,683 469.6,684.6 472.1,685 474.6,685.3 477.1,685.5 479.6,685.3 482.1,686.1 484.6,685.9 487.1,685.8 489.6,685.3 492.1,686.1 494.6,685.3 497.1,685 499.6,686 502.1,685.3 504.6,685.8 507.1,685.9 509.6,685.2 512.1,685.6 514.6,684.7 517.2,684.9 519.7,685.2 522.2,685.4 524.7,685.4 527.2,684.8 529.7,685.1 532.2,685 534.7,684.3 537.2,683.8 539.7,684 542.2,684.5 544.7,683.9 547.2,683.2 549.7,683.7 552.2,682.8 554.7,683.5 557.2,683 559.7,682.6 562.2,683 564.7,683.4 567.2,682.7 569.7,682 572.2,681.7 574.7,681.7 577.2,681.9 579.7,681.4 582.2,681.5 584.7,682.2 587.2,682.3 589.7,682.3 592.2,681.3 594.7,681.1 597.2,682.1 599.7,681.6 602.2,681.5 604.7,681.2 607.2,681.4 609.7,682.8 612.2,682 614.7,683.2 617.2,683.1 619.8,683.8 622.3,683.9 624.8,683.9 627.3,685 629.8,685 632.3,685 634.8,684.9 637.3,686.2 639.8,686.2 642.3,686.6 644.8,686.6 647.3,687.3 649.8,686.6 652.3,687.2 654.8,687.1 657.3,687 659.8,687.4 662.3,687.9 664.8,688.1 667.3,688.5 669.8,687.7 672.3,687.1 674.8,687.2 677.3,685.8 679.8,685 682.3,682 684.8,679.1 687.3,673.9 689.8,667 692.3,656.3 694.8,643 697.3,630.2 699.8,616.2 702.3,598.4 704.8,580.3 707.3,562.2 709.8,543.1 712.3,526.1 714.8,511.3 717.3,500.7 719.8,494.1 722.3,488.7 724.9,484.6 727.4,482 729.9,480.4 732.4,477.7 734.9,476 737.4,474.7 739.9,472.2 742.4,468.8 744.9,464.8 747.4,460.4 749.9,454.8 752.4,448.6 754.9,442.9 757.4,435 759.9,428.1 762.4,420.2 764.9,412.5 767.4,403.3 769.9,396.4 772.4,387.6 774.9,379.8 777.4,372.5 779.9,365.4 782.4,357.2 784.9,351.2 787.4,343.9 789.9,336.5 792.4,330.4 794.9,323.7 797.4,318.1 799.9,311.6 802.4,305.3 804.9,300 807.4,294.4 809.9,290 812.4,284.8 814.9,278.9 817.4,274.2 819.9,269.9 822.4,265.7 824.9,261.3 827.5,256.5 830,252.9 832.5,248.4 835,245.5 837.5,242 840,239.6 842.5,237.4 845,235.4 847.5,234.6 850,232.8 852.5,231.7 855,231 857.5,230.2 860,229.7 862.5,229.7 865,229.4 867.5,229.5 870,229 872.5,229.4 875,229.7 877.5,229.1 880,229 882.5,228.7 885,229.3 887.5,228.4 890,228.2 892.5,228.6 895,228.1 897.5,227.6 900,227.6 902.5,227.7 905,226.6 907.5,226.6 910,227 912.5,226.5 915,227 917.5,227.4 920,226.4 922.5,226.4 925,227.3 927.5,226.6 930,227.1 932.6,226.9 935.1,228.5 937.6,228 940.1,228.2 942.6,228.8 945.1,227.6 947.6,226.9 950.1,224.7 952.6,223.6 955.1,223.4 957.6,223.3 960.1,221.5 962.6,221.4 965.1,220.6 967.6,220.4 970.1,218.9 972.6,216.9 975.1,215.8 977.6,214 980.1,213 982.6,211.2 985.1,210 987.6,207.7 990.1,206.5 992.6,204.4 995.1,203.7 997.6,200.7 1000.1,199.1 1002.6,196.6 1005.1,193.8 1007.6,192.7 1010.1,190.6 1012.6,187.1 1015.1,185.6 1017.6,182.9 1020.1,180.6 1022.6,178.7 1025.1,175.6 1027.6,172.9 1030.1,170.9 1032.6,168.7 1035.2,166.6 1037.7,162.7 1040.2,161.3 1042.7,158.5 1045.2,154.6 1047.7,151.4 1050.2,149.4 1052.7,145.1 1055.2,142.4 1057.7,139.4 1060.2,135.6 1062.7,134 1065.2,131 1067.7,128.5 1070.2,125.7 1072.7,122.2 1075.2,119.6 1077.7,117 1080.2,114.5 1082.7,111.7 1085.2,108.4 1087.7,106.2 1090.2,102.2 1092.7,100.2 1095.2,96.5 1097.7,93 1100.2,89.9 1102.7,86.4 1105.2,83.3 1107.7,79.5 1110.2,76.4 1112.7,72.4 1115.2,69 1117.7,66.9 1120.2,65.8 1122.7,64 1125.2,61.9 1127.7,60.8 1130.2,59.6 1132.7,58 1135.2,56.5 1137.7,55.7 1140.3,53.8 1142.8,53.3 1145.3,52.4 1147.8,49.7 1150.3,48.2 1152.8,47.9 1155.3,45.4 1157.8,45.3 1160.3,44.2 1162.8,43.8 1165.3,43.1 1167.8,42.4 1170.3,42 1172.8,40.9 1175.3,41.3 1177.8,41.2 1180.3,40.8 1182.8,40.8 1185.3,41.5 1187.8,41.1 1190.3,42.4 1192.8,42 1195.3,41.7 1197.8,43 1200.3,44 1202.8,44 1205.3,45.7 1207.8,47.2 1210.3,47.7 1212.8,48.7 1215.3,50.7 1217.8,51 1220.3,53.2 1222.8,54.3 1225.3,55.1 1227.8,56.7 1230.3,58.1 1232.8,59.3 1235.3,60.2 1237.8,61.3 1240.3,64.1 1242.9,69.6 1245.4,73.6 1247.9,78.5 1250.4,81.1 1252.9,84.3 1255.4,88.3 1257.9,90.3 1260.4,92.7 1262.9,96 1265.4,97.6 1267.9,100.6 1270.4,103.1 1272.9,105.1 1275.4,107.5 1277.9,109.4 1280.4,112.4 1282.9,116 1285.4,118.9 1287.9,122.6 1290.4,124.6 1292.9,127 1295.4,129.6 1297.9,130.6 1300.4,132.2 1302.9,135 1305.4,137.6 1307.9,140.2 1310.4,143.2 1312.9,146.9 1315.4,151.2 1317.9,154.8 1320.4,158.5 1322.9,163.4 1325.4,166 1327.9,169.5 1330.4,171.2 1332.9,173.9 1335.4,177.9 1337.9,179.9 1340.4,182.8 1342.9,187.1 1345.4,189.5 1348,193.5 1350.5,196.8 1353,201.8 1355.5,204.9 1358,209.3 1360.5,211.3 1363,212.9 1365.5,214.8 1368,216.2 1370.5,218 1373,220.8 1375.5,222.5 1378,226 1380.5,229.2 1383,234.3 1385.5,238.8 1388,242.5 1390.5,247.9 1393,252 1395.5,255.3 1398,259.3 1400.5,262.4 1403,265.4 1405.5,267.8 1408,271 1410.5,273.6 1413,274.7 1415.5,277.7 1418,279.2 1420.5,282.3 1423,285.3 1425.5,288.6 1428,290.8 1430.5,294.6 1433,297.3 1435.5,299.5 1438,303.2 1440.5,306.1 1443,309.7 1445.5,312.5 1448,315.5 1450.6,319.5 1453.1,322.3 1455.6,324.3 1458.1,326.6 1460.6,329 1463.1,332.4 1465.6,333.9 1468.1,337.5 1470.6,340.8 1473.1,343.6 1475.6,348.4 1478.1,352.1 1480.6,355.5 1483.1,360.8 1485.6,363.7 1488.1,367.2 1490.6,372.1 1493.1,374.4 1495.6,378 1498.1,380.3 1500.6,382.1 1503.1,383.5 1505.6,385.9 1508.1,386.9 1510.6,388.6 1513.1,390.6 1515.6,391.7 1518.1,393.9 1520.6,395.5 1523.1,396.7 1525.6,398.9 1528.1,401.8 1530.6,404 1533.1,406.6 1535.6,407.2 1538.1,409.8 1540.6,411.9 1543.1,412.5 1545.6,414.8 1548.1,416.3 1550.6,417.4 1553.1,419.6 1555.7,421.6 1558.2,423.3 1560.7,425.6 1563.2,427.2 1565.7,429.7 1568.2,431.1 1570.7,431.6 1573.2,433.7 1575.7,434.7 1578.2,436.4 1580.7,437.4 1583.2,437.5 1585.7,438.7 1588.2,440.7 1590.7,441.4 1593.2,443.4 1595.7,445.8 1598.2,446.9 1600.7,447.8 1603.2,449.2 1605.7,449.6 1608.2,449 1610.7,450.4 1613.2,450.3 1615.7,450.5 1618.2,451.5 1620.7,452 1623.2,454.2 1625.7,456.1 1628.2,456.6 1630.7,457.5 1633.2,458.1 1635.7,458.4 1638.2,459.6 1640.7,461 1643.2,461.2 1645.7,463.3 1648.2,463.9 1650.7,466.2 1653.2,467.3 1655.7,469.3 1658.3,469.6 1660.8,471.4 1663.3,472.4 1665.8,474.2 1668.3,475.3 1670.8,476.8 1673.3,478.8 1675.8,480.4 1678.3,480.8 1680.8,482.3 1683.3,483.2 1685.8,483.2 1688.3,484.5 1690.8,484.5 1693.3,486.2 1695.8,487 1698.3,488.1 1700.8,489 1703.3,491.4 1705.8,493.5 1708.3,495.8 1710.8,498 1713.3,500.7 1715.8,503.1 1718.3,505.8 1720.8,508.6 1723.3,512.7 1725.8,515.6 1728.3,518.4 1730.8,521.1 1733.3,523.1 1735.8,525.7 1738.3,528.1 1740.8,529.6 1743.3,532.6 1745.8,537.4 1748.3,541.9 1750.8,544.7 1753.3,547.8 1755.8,550.3 1758.3,553.5 1760.8,557 1763.4,560.1 1765.9,563.3 1768.4,566.9 1770.9,569.6 1773.4,573.3 1775.9,576.6 1778.4,579.9 1780.9,583.4 1783.4,586 1785.9,588.8 1788.4,591.7 1790.9,595.6 1793.4,598.5 1795.9,603 1798.4,606.8 1800.9,609.3 1803.4,612.8 1805.9,614.2 1808.4,617.3 1810.9,619.3 1813.4,621.4 1815.9,622.8 1818.4,625.7 1820.9,627.4 1823.4,629.6 1825.9,632.2 1828.4,634 1830.9,635.8 1833.4,638.5 1835.9,641 1838.4,645.1 1840.9,648.8 1843.4,651.6 1845.9,653.2 1848.4,654.9 1850.9,656.7 1853.4,657.9 1855.9,658.6 1858.4,660 1860.9,661.3 1863.4,662.2 1866,663.5 1868.5,664.8 1871,665.7 1873.5,667.2 1876,667.7 1878.5,669.8 1881,670.9 1883.5,673.2 1886,673.6 1888.5,674.4 1891,675.6 1893.5,677.1 1896,677.2 1898.5,677.1 1901,677.8 1903.5,678.5 1906,678.8 1908.5,680.5 1911,683.4 1913.5,686.6"/>
<polyline class="c" points="90,688.6 95,688.6 99.2,688.5 101.8,689 104.3,690.6 106.8,689.9 109.3,690.1 111.8,690.3 114.3,691.5 116.8,691.1 119.3,689.8 121.8,689.7 124.3,688.6 126.8,688.2 129.3,686.1 131.8,686.9 134.3,686.4 136.8,686.5 139.3,686.6 141.8,685.6 144.3,685.6 146.8,685.7 149.3,686.2 151.8,686.1 154.3,687 156.8,687.8 159.3,688.1 161.8,688.5 164.3,688.7 166.8,687.9 169.3,687.8 171.8,686.7 174.3,684.5 176.8,683.3 179.3,681.1 181.8,680.1 184.3,680.2 186.8,679.5 189.3,679.7 191.8,679.9 194.3,680 196.8,679.4 199.3,678.6 201.8,679.4 204.4,679.7 206.9,679.6 209.4,679.5 211.9,679.5 214.4,679.1 216.9,678.9 219.4,679.4 221.9,678.5 224.4,679.3 226.9,679.5 229.4,679.1 231.9,678.6 234.4,679 236.9,679.8 239.4,679.5 241.9,678.7 244.4,679.7 246.9,679.8 249.4,678.6 251.9,679 254.4,679.6 256.9,679.7 259.4,680.2 261.9,681 264.4,682.9 266.9,683 269.4,684 271.9,683.5 274.4,683.4 276.9,683.3 279.4,681.6 281.9,682.4 284.4,681.9 286.9,681.5 289.4,680.6 291.9,680.6 294.4,681 296.9,680.5 299.4,680.8 301.9,681.2 304.4,680.9 306.9,680.6 309.5,681.5 312,681.6 314.5,681.2 317,682.1 319.5,681.8 322,682 324.5,681.5 327,682.8 329.5,683.1 332,682.8 334.5,684.1 337,684 339.5,684.3 342,684.8 344.5,685.9 347,686 349.5,685.5 352,685.4 354.5,685.4 357,685.3 359.5,686.5 362,685.3 364.5,686.2 367,686.2 369.5,685.5 372,685.9 374.5,686.5 377,686.6 379.5,685.2 382,685.6 384.5,685.6 387,685.2 389.5,686 392,684.2 394.5,683.3 397,682.6 399.5,680.4 402,680 404.5,678.6 407,678.4 409.5,677.5 412.1,676.3 414.6,675.6 417.1,675.1 419.6,674.3 422.1,673.7 424.6,673.8 427.1,672.3 429.6,672.8 432.1,671.7 434.6,671.9 437.1,672 439.6,671 442.1,672.2 444.6,672.1 447.1,673.9 449.6,675.5 452.1,676.4 454.6,677.9 457.1,680.5 459.6,682.4 462.1,682.9 464.6,684.2 467.1,685.1 469.6,684.9 472.1,685.3 474.6,686.4 477.1,686.5 479.6,685.6 482.1,687.1 484.6,686 487.1,686 489.6,685.9 492.1,686 494.6,686.4 497.1,686 499.6,687.1 502.1,686.9 504.6,685.9 507.1,686.4 509.6,686.9 512.1,686.6 514.6,685.5 517.2,686 519.7,686.1 522.2,685.9 524.7,685.8 527.2,685.5 529.7,686 532.2,685.5 534.7,685.3 537.2,685.3 539.7,685.4 542.2,684.9 544.7,685.2 547.2,684.1 549.7,683.9 552.2,684.6 554.7,684.8 557.2,684.7 559.7,684.7 562.2,684.3 564.7,683.5 567.2,684.1 569.7,683 572.2,682.9 574.7,683.6 577.2,683.3 579.7,683.3 582.2,682.5 584.7,682.8 587.2,683.4 589.7,682.3 592.2,682.9 594.7,682.8 597.2,683.2 599.7,683 602.2,683.2 604.7,682.7 607.2,682.5 609.7,682.8 612.2,683.1 614.7,684.2 617.2,684.3 619.8,683.7 622.3,685 624.8,685.2 627.3,685.1 629.8,685.4 632.3,686.8 634.8,686 637.3,686.2 639.8,686.8 642.3,687.8 644.8,686.9 647.3,687.6 649.8,688 652.3,687.5 654.8,688.2 657.3,688.5 659.8,688.2 662.3,689.3 664.8,689.5 667.3,688.9 669.8,688.4 672.3,689 674.8,688.2 677.3,686.9 679.8,685.4 682.3,683.5 684.8,679.2 687.3,676 689.8,667.6 692.3,657.4 694.8,643.3 697.3,631.4 699.8,617.2 702.3,600.1 704.8,581.4 707.3,562.5 709.8,544.4 712.3,526.4 714.8,512.3 717.3,501.7 719.8,494.7 722.3,489.5 724.9,485.3 727.4,483.2 729.9,481.4 732.4,479.8 734.9,477 737.4,475.7 739.9,472.5 742.4,469.2 744.9,465.8 747.4,460.6 749.9,455.7 752.4,449.5 754.9,444.4 757.4,436.3 759.9,428.3 762.4,421.2 764.9,412.4 767.4,405.1 769.9,396.7 772.4,389.4 774.9,380.7 777.4,374.2 779.9,366.4 782.4,359.3 784.9,351.2 787.4,344.5 789.9,337.9 792.4,330.8 794.9,324.8 797.4,319.3 799.9,313.1 802.4,306.9 804.9,301.5 807.4,295.4 809.9,290.7 812.4,285.6 814.9,280.5 817.4,275.5 819.9,271.5 822.4,266.3 824.9,261.7 827.5,257.4 830,253.7 832.5,250.1 835,246.4 837.5,242.3 840,240.5 842.5,238.1 845,236.8 847.5,235.7 850,233.5 852.5,233.7 855,231.6 857.5,232.4 860,231.4 862.5,230.6 865,230.6 867.5,231.4 870,231 872.5,230.9 875,230.4 877.5,230.9 880,229.7 882.5,230.5 885,230.3 887.5,229.8 890,229.9 892.5,229.7 895,229.2 897.5,228.3 900,228.8 902.5,228.1 905,228.1 907.5,227.6 910,228.5 912.5,228.5 915,227.5 917.5,228 920,227.1 922.5,227.8 925,228 927.5,227.5 930,228 932.6,228.6 935.1,229.2 937.6,230.1 940.1,229.2 942.6,229 945.1,228.6 947.6,226.8 950.1,225.5 952.6,225 955.1,224.5 957.6,224.1 960.1,223.6 962.6,222 965.1,222.3 967.6,221.3 970.1,220 972.6,217.8 975.1,216.7 977.6,215.6 980.1,213.8 982.6,211.7 985.1,211.3 987.6,209.8 990.1,208.2 992.6,206.4 995.1,203.7 997.6,201.4 1000.1,199.3 1002.6,197.5 1005.1,196 1007.6,192.8 1010.1,190.5 1012.6,188.4 1015.1,186.9 1017.6,183.6 1020.1,181.8 1022.6,179 1025.1,177 1027.6,174.2 1030.1,171.3 1032.6,169.6 1035.2,167.2 1037.7,164.4 1040.2,162.3 1042.7,159 1045.2,156.5 1047.7,152.5 1050.2,150.3 1052.7,146.7 1055.2,143.8 1057.7,140.4 1060.2,137.2 1062.7,133.8 1065.2,131.3 1067.7,129.3 1070.2,126.1 1072.7,123.4 1075.2,120.2 1077.7,117.5 1080.2,114.7 1082.7,112.5 1085.2,109.8 1087.7,106.9 1090.2,103.7 1092.7,101.3 1095.2,97.7 1097.7,93.7 1100.2,90.8 1102.7,87.6 1105.2,83.5 1107.7,79.9 1110.2,77.6 1112.7,74.1 1115.2,70.2 1117.7,67.8 1120.2,65.6 1122.7,64 1125.2,63.1 1127.7,61.5 1130.2,60 1132.7,58.8 1135.2,58.2 1137.7,56.6 1140.3,55.2 1142.8,54.5 1145.3,53 1147.8,50.7 1150.3,49.9 1152.8,48 1155.3,46.4 1157.8,45.8 1160.3,44.5 1162.8,44.6 1165.3,43.7 1167.8,43.1 1170.3,43.2 1172.8,42.4 1175.3,41.4 1177.8,42.2 1180.3,42.4 1182.8,41.6 1185.3,42 1187.8,41.9 1190.3,42.3 1192.8,43 1195.3,42.7 1197.8,43.8 1200.3,44.9 1202.8,44.9 1205.3,46 1207.8,48.2 1210.3,48.2 1212.8,49.7 1215.3,50.7 1217.8,52.1 1220.3,53.8 1222.8,55.7 1225.3,56.7 1227.8,58.1 1230.3,58.3 1232.8,60.3 1235.3,60.3 1237.8,61.7 1240.3,65.7 1242.9,70.7 1245.4,75.3 1247.9,78.5 1250.4,82.1 1252.9,86 1255.4,89 1257.9,90.8 1260.4,94.6 1262.9,97.1 1265.4,99 1267.9,101.1 1270.4,103.7 1272.9,106.5 1275.4,108.8 1277.9,111.1 1280.4,113 1282.9,117.3 1285.4,119.8 1287.9,122.7 1290.4,126 1292.9,129 1295.4,130.9 1297.9,131.7 1300.4,133.9 1302.9,135.5 1305.4,138.1 1307.9,141.8 1310.4,144.1 1312.9,148.4 1315.4,152.8 1317.9,156.2 1320.4,159.9 1322.9,164.1 1325.4,166.8 1327.9,170.1 1330.4,173.5 1332.9,175.2 1335.4,178.9 1337.9,181.2 1340.4,185 1342.9,187.3 1345.4,191.6 1348,195 1350.5,198.7 1353,202.3 1355.5,207.1 1358,210.4 1360.5,212.1 1363,214.4 1365.5,216 1368,217.6 1370.5,220.3 1373,222.1 1375.5,223.9 1378,227.8 1380.5,231.3 1383,235.1 1385.5,239.8 1388,243.3 1390.5,248.9 1393,252.4 1395.5,257 1398,259.8 1400.5,263.3 1403,266.5 1405.5,268.7 1408,272.2 1410.5,274.8 1413,276.1 1415.5,278.9 1418,281.1 1420.5,283.6 1423,286.8 1425.5,289.2 1428,291.8 1430.5,294.3 1433,298.3 1435.5,301.1 1438,304.6 1440.5,308.3 1443,310.7 1445.5,314.8 1448,316.9 1450.6,320.7 1453.1,322.7 1455.6,324.8 1458.1,328.2 1460.6,330.4 1463.1,332.4 1465.6,335.8 1468.1,339 1470.6,341 1473.1,345.5 1475.6,349.2 1478.1,353.6 1480.6,356.5 1483.1,360.6 1485.6,365.1 1488.1,368.3 1490.6,371.9 1493.1,376.2 1495.6,378.4 1498.1,381 1500.6,382.6 1503.1,384.7 1505.6,386.6 1508.1,388.4 1510.6,389.6 1513.1,391.2 1515.6,392.5 1518.1,394.8 1520.6,395.9 1523.1,397.8 1525.6,400.5 1528.1,402.4 1530.6,404.6 1533.1,406.6 1535.6,409.3 1538.1,410.8 1540.6,413 1543.1,413.9 1545.6,416.2 1548.1,417.4 1550.6,418.5 1553.1,420.5 1555.7,423.1 1558.2,424.5 1560.7,427 1563.2,428.2 1565.7,430.6 1568.2,431.7 1570.7,433.5 1573.2,434.4 1575.7,435.3 1578.2,436.5 1580.7,437.2 1583.2,439.4 1585.7,439.7 1588.2,441.5 1590.7,443.1 1593.2,443.9 1595.7,445.9 1598.2,447.6 1600.7,449 1603.2,449.6 1605.7,449.9 1608.2,451.3 1610.7,451.4 1613.2,451.7 1615.7,452.2 1618.2,453.1 1620.7,453.4 1623.2,454.9 1625.7,456.9 1628.2,457.7 1630.7,458.1 1633.2,459 1635.7,459.9 1638.2,460.9 1640.7,461.2 1643.2,463.4 1645.7,463.9 1648.2,464.8 1650.7,466.9 1653.2,469 1655.7,469.5 1658.3,470.5 1660.8,472.2 1663.3,473.3 1665.8,474 1668.3,476.1 1670.8,477.9 1673.3,479 1675.8,480.9 1678.3,482.1 1680.8,483 1683.3,483.5 1685.8,484 1688.3,484.5 1690.8,485.3 1693.3,487.5 1695.8,488.5 1698.3,489.2 1700.8,490.9 1703.3,492.9 1705.8,494.3 1708.3,496.5 1710.8,499.3 1713.3,502.1 1715.8,503.9 1718.3,507.7 1720.8,510.4 1723.3,513.1 1725.8,516.8 1728.3,519 1730.8,521.9 1733.3,524.2 1735.8,526.8 1738.3,528.5 1740.8,531.3 1743.3,534 1745.8,538.1 1748.3,541.7 1750.8,546.2 1753.3,549.6 1755.8,552.5 1758.3,555.2 1760.8,557.8 1763.4,561 1765.9,564.3 1768.4,567.2 1770.9,571.3 1773.4,574.5 1775.9,577.5 1778.4,581.4 1780.9,584 1783.4,586.9 1785.9,590.5 1788.4,593.6 1790.9,596.2 1793.4,599.3 1795.9,603.5 1798.4,607.3 1800.9,610.2 1803.4,613.3 1805.9,615.2 1808.4,618 1810.9,619.8 1813.4,622.5 1815.9,624.7 1818.4,626.8 1820.9,629.4 1823.4,630.7 1825.9,633.1 1828.4,635.6 1830.9,637.1 1833.4,640.2 1835.9,642.5 1838.4,646.3 1840.9,650.3 1843.4,653.6 1845.9,655.4 1848.4,656 1850.9,657 1853.4,657.9 1855.9,659.9 1858.4,660.3 1860.9,661.5 1863.4,663.6 1866,664.3 1868.5,665.8 1871,666.5 1873.5,668.1 1876,669.6 1878.5,670.5 1881,672.7 1883.5,674 1886,674.6 1888.5,675.9 1891,677.6 1893.5,677.8 1896,678 1898.5,678.9 1901,679.1 1903.5,679.8 1906,680.1 1908.5,682.3 1911,684.4 1913.5,687.6"/>
<circle cx="1913.5" cy="687.1" r="6.3" stroke="none" style="shape-rendering:crispEdges"/>
</g>
</svg>
<g class="k" stroke-linecap="round">
<line x1="733.5" y1="271.5" x2="733.5" y2="835"/>
<line x1="835.5" y1="865" x2="980" y2="1556"/>
<line x1="1212.6" y1="676" x2="1351.8" y2="1255"/>
<line x1="1697.5" y1="920.5" x2="1697.5" y2="1484"/>
</g>
<text class="b" fill="#008080"><tspan x="135.19" y="616.7" font-size="55.85" textLength="57.86" lengthAdjust="spacingAndGlyphs">Ni</tspan><tspan x="191.39" y="642.5" font-size="29.1" textLength="68.42" lengthAdjust="spacingAndGlyphs">0.85</tspan><tspan x="261.8" y="616.7" font-size="55.85" textLength="63.97" lengthAdjust="spacingAndGlyphs">Ce</tspan><tspan x="326.08" y="642.5" font-size="29.1" textLength="67.14" lengthAdjust="spacingAndGlyphs">0.11</tspan><tspan x="393.37" y="616.7" font-size="55.85" textLength="54.45" lengthAdjust="spacingAndGlyphs">Zr</tspan><tspan x="447.35" y="642.5" font-size="29.1" textLength="65.87" lengthAdjust="spacingAndGlyphs">0.04</tspan><tspan x="515.13" y="616.7" font-size="55.85" textLength="119.64" lengthAdjust="spacingAndGlyphs">-25P</tspan></text>
<text class="b" fill="#008000"><tspan x="123.49" y="900.4" font-size="55.85" textLength="59.48" lengthAdjust="spacingAndGlyphs">Ni</tspan><tspan x="181.81" y="926.2" font-size="29.1" textLength="67.59" lengthAdjust="spacingAndGlyphs">0.85</tspan><tspan x="250.15" y="900.4" font-size="55.85" textLength="65.46" lengthAdjust="spacingAndGlyphs">Ce</tspan><tspan x="316.03" y="926.2" font-size="29.1" textLength="66.79" lengthAdjust="spacingAndGlyphs">0.04</tspan><tspan x="383.91" y="900.4" font-size="55.85" textLength="53.09" lengthAdjust="spacingAndGlyphs">Zr</tspan><tspan x="437.19" y="926.2" font-size="29.1" textLength="66.72" lengthAdjust="spacingAndGlyphs">0.11</tspan><tspan x="504.44" y="900.4" font-size="55.85" textLength="119.22" lengthAdjust="spacingAndGlyphs">-25P</tspan></text>
<text class="b" fill="#ff8000"><tspan x="122.66" y="1062.5" font-size="55.85" textLength="59.83" lengthAdjust="spacingAndGlyphs">Ni</tspan><tspan x="181.21" y="1088.3" font-size="29.1" textLength="67.59" lengthAdjust="spacingAndGlyphs">0.85</tspan><tspan x="249.25" y="1062.5" font-size="55.85" textLength="65.46" lengthAdjust="spacingAndGlyphs">Ce</tspan><tspan x="314.51" y="1088.3" font-size="29.1" textLength="67.7" lengthAdjust="spacingAndGlyphs">0.15</tspan><tspan x="382.35" y="1062.5" font-size="55.85" textLength="119.02" lengthAdjust="spacingAndGlyphs">-15P</tspan></text>
<text class="b" fill="#0000ff"><tspan x="116.91" y="1207.7" font-size="55.85" textLength="59.13" lengthAdjust="spacingAndGlyphs">Ni</tspan><tspan x="174.01" y="1233.5" font-size="29.1" textLength="67.59" lengthAdjust="spacingAndGlyphs">0.85</tspan><tspan x="243.48" y="1207.7" font-size="55.85" textLength="64.61" lengthAdjust="spacingAndGlyphs">Ce</tspan><tspan x="307.88" y="1233.5" font-size="29.1" textLength="67.04" lengthAdjust="spacingAndGlyphs">0.11</tspan><tspan x="376.71" y="1207.7" font-size="55.85" textLength="53.09" lengthAdjust="spacingAndGlyphs">Zr</tspan><tspan x="429.94" y="1233.5" font-size="29.1" textLength="65.97" lengthAdjust="spacingAndGlyphs">0.04</tspan><tspan x="497.14" y="1207.7" font-size="55.85" textLength="119.33" lengthAdjust="spacingAndGlyphs">-15P</tspan></text>
<text class="b" fill="#ff0000"><tspan x="121.49" y="1334.5" font-size="55.85" textLength="59.48" lengthAdjust="spacingAndGlyphs">Ni</tspan><tspan x="179.82" y="1360.3" font-size="29.1" textLength="66.97" lengthAdjust="spacingAndGlyphs">0.85</tspan><tspan x="248.06" y="1334.5" font-size="55.85" textLength="65.24" lengthAdjust="spacingAndGlyphs">Ce</tspan><tspan x="313.11" y="1360.3" font-size="29.1" textLength="86.95" lengthAdjust="spacingAndGlyphs">0.075</tspan><tspan x="400.71" y="1334.5" font-size="55.85" textLength="53.09" lengthAdjust="spacingAndGlyphs">Zr</tspan><tspan x="454.53" y="1360.3" font-size="29.1" textLength="85.51" lengthAdjust="spacingAndGlyphs">0.075</tspan><tspan x="539.72" y="1334.5" font-size="55.85" textLength="120.26" lengthAdjust="spacingAndGlyphs">-15P</tspan></text>
<text class="b" fill="#960000"><tspan x="120.59" y="1459.6" font-size="55.85" textLength="59.48" lengthAdjust="spacingAndGlyphs">Ni</tspan><tspan x="179.22" y="1485.4" font-size="29.1" textLength="67.28" lengthAdjust="spacingAndGlyphs">0.85</tspan><tspan x="247.25" y="1459.6" font-size="55.85" textLength="65.46" lengthAdjust="spacingAndGlyphs">Ce</tspan><tspan x="313.13" y="1485.4" font-size="29.1" textLength="66.79" lengthAdjust="spacingAndGlyphs">0.04</tspan><tspan x="381.01" y="1459.6" font-size="55.85" textLength="53.09" lengthAdjust="spacingAndGlyphs">Zr</tspan><tspan x="434.28" y="1485.4" font-size="29.1" textLength="67.35" lengthAdjust="spacingAndGlyphs">0.11</tspan><tspan x="501.55" y="1459.6" font-size="55.85" textLength="118.71" lengthAdjust="spacingAndGlyphs">-15P</tspan></text>
<text class="b" fill="#a0a0a0"><tspan x="117.72" y="1608.3" font-size="55.85" textLength="58.9" lengthAdjust="spacingAndGlyphs">Ni</tspan><tspan x="175.41" y="1634.1" font-size="29.1" textLength="67.59" lengthAdjust="spacingAndGlyphs">0.85</tspan><tspan x="244.21" y="1608.3" font-size="55.85" textLength="53.09" lengthAdjust="spacingAndGlyphs">Zr</tspan><tspan x="296.61" y="1634.1" font-size="29.1" textLength="67.59" lengthAdjust="spacingAndGlyphs">0.15</tspan><tspan x="364.45" y="1608.3" font-size="55.85" textLength="118.71" lengthAdjust="spacingAndGlyphs">-15P</tspan></text>
<text class="b"><tspan x="647.68" y="244.7" font-size="67.8" textLength="133.4" lengthAdjust="spacingAndGlyphs">bulk</tspan></text>
<text><tspan x="276.76" y="1794.9" font-size="61.51" textLength="104.76" lengthAdjust="spacingAndGlyphs">200</tspan></text>
<text><tspan x="732.59" y="1794.9" font-size="61.51" textLength="104.73" lengthAdjust="spacingAndGlyphs">400</tspan></text>
<text><tspan x="1188.66" y="1794.9" font-size="61.51" textLength="104.65" lengthAdjust="spacingAndGlyphs">600</tspan></text>
<text><tspan x="1644.12" y="1794.9" font-size="61.51" textLength="105.31" lengthAdjust="spacingAndGlyphs">800</tspan></text>
<text><tspan x="746.39" y="1894.3" font-size="67.49" textLength="400.64" lengthAdjust="spacingAndGlyphs">Temperature</tspan> <tspan x="1165.39" y="1894.3" font-size="67.49" textLength="17.09" lengthAdjust="spacingAndGlyphs">(</tspan><tspan x="1187.05" y="1866.6" font-size="49.32" textLength="26.84" lengthAdjust="spacingAndGlyphs">o</tspan><tspan x="1216.2" y="1894.3" font-size="67.49" textLength="39.01" lengthAdjust="spacingAndGlyphs">C</tspan><tspan x="1259.02" y="1894.3" font-size="67.49" textLength="17.09" lengthAdjust="spacingAndGlyphs">)</tspan></text>
<text transform="translate(70,1035) rotate(-90)"><tspan x="-1.22" y="0" font-size="61.09" textLength="110.99" lengthAdjust="spacingAndGlyphs">TCD</tspan> <tspan x="125.48" y="0" font-size="61.09" textLength="154.13" lengthAdjust="spacingAndGlyphs">signal</tspan> <tspan x="297.3" y="0" font-size="61.09" textLength="15.96" lengthAdjust="spacingAndGlyphs">(</tspan><tspan x="317.61" y="0" font-size="61.09" textLength="90.89" lengthAdjust="spacingAndGlyphs">mV</tspan><tspan x="411.76" y="0" font-size="61.09" textLength="15.08" lengthAdjust="spacingAndGlyphs">)</tspan></text>
<text class="g" font-size="100" transform="matrix(0.8667 0 0 0.7937 959.55 1618.21)">α</text>
<text class="g" font-size="100" transform="matrix(0.8138 0 0 0.7292 1333.12 1359.31)">β</text>
<text class="g" font-size="100" transform="matrix(0.7730 0 0 0.7427 1677.8 1570.89)">δ</text>
</svg>
</body>
</html>
